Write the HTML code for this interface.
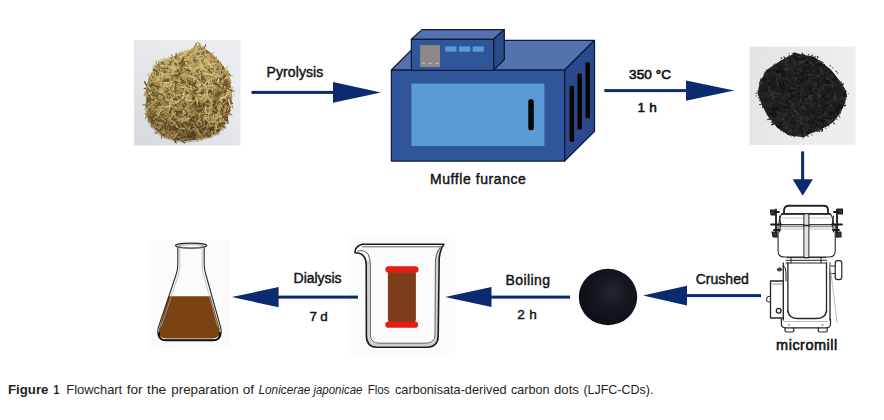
<!DOCTYPE html>
<html><head><meta charset="utf-8"><style>
html,body{margin:0;padding:0;background:#fff;}
body{width:884px;height:420px;overflow:hidden;}
svg{display:block;}
</style></head><body>
<svg width="884" height="420" viewBox="0 0 884 420">
<defs><linearGradient id="g1" x1="1" y1="0" x2="0.2" y2="1"><stop offset="0" stop-color="#eceef1"/><stop offset="0.5" stop-color="#e6e8eb"/><stop offset="1" stop-color="#dadbde"/></linearGradient><linearGradient id="g2" x1="0" y1="0" x2="1" y2="0.2"><stop offset="0" stop-color="#e3e3e3"/><stop offset="0.6" stop-color="#eaeaea"/><stop offset="1" stop-color="#eeeeee"/></linearGradient><linearGradient id="hg" x1="0" y1="0" x2="0.3" y2="1"><stop offset="0" stop-color="#8a7644"/><stop offset="0.55" stop-color="#6a5830"/><stop offset="1" stop-color="#4c3e20"/></linearGradient><linearGradient id="hov" x1="0" y1="0" x2="-0.25" y2="1"><stop offset="0.35" stop-color="#3a2c10" stop-opacity="0"/><stop offset="1" stop-color="#3a2c10" stop-opacity="0.3"/></linearGradient><clipPath id="c1"><rect x="134" y="40" width="106.5" height="105.5"/></clipPath><clipPath id="c2"><rect x="749.6" y="46.6" width="106" height="98.3"/></clipPath></defs><rect x="134" y="40" width="106.5" height="105.5" fill="url(#g1)"/><g clip-path="url(#c1)" fill="none" stroke-linecap="round"><path d="M146.0,92.0 L147.3,116.7 L152.0,126.0 L160.7,134.0 L172.0,139.0 L185.0,141.0 L198.3,139.3 L210.0,136.0 L218.3,132.7 L225.0,124.0 L229.0,114.0 L231.7,100.0 L231.5,90.0 L230.0,80.0 L228.2,72.7 L220.0,62.0 L210.0,52.0 L199.4,45.2 L190.0,50.0 L182.0,53.0 L175.0,56.0 L165.0,60.0 L155.0,66.0 L149.0,78.0 L147.0,85.0Z" fill="url(#hg)"/><path d="M220.7,114.1Q220.1,119.1 217.7,119.1" stroke="#7a6638" stroke-width="0.9"/><path d="M204.7,121.9Q203.5,125.2 198.3,124.9" stroke="#a2884a" stroke-width="1.2"/><path d="M179.9,135.2Q175.4,133.8 173.6,137.1" stroke="#6e5a30" stroke-width="1.2"/><path d="M208.9,59.7Q204.0,63.6 200.6,62.6" stroke="#a2884a" stroke-width="1.4"/><path d="M211.4,111.0Q213.5,113.8 212.3,118.1" stroke="#a2884a" stroke-width="1.2"/><path d="M189.5,98.7Q187.1,101.4 181.4,100.8" stroke="#ae9452" stroke-width="1.5"/><path d="M225.5,102.4Q221.4,104.7 220.3,106.9" stroke="#dac68c" stroke-width="1.1"/><path d="M223.7,104.3Q226.1,105.7 232.4,106.4" stroke="#6e5a30" stroke-width="1.5"/><path d="M151.0,98.2Q147.1,100.7 145.8,106.2" stroke="#6e5a30" stroke-width="1.4"/><path d="M224.6,83.7Q220.9,83.4 221.9,86.9" stroke="#cab272" stroke-width="1.0"/><path d="M222.3,78.4Q226.1,78.0 231.1,82.2" stroke="#b69e5c" stroke-width="1.3"/><path d="M196.5,116.2Q199.9,115.0 202.2,118.3" stroke="#dac68c" stroke-width="1.2"/><path d="M168.7,80.9Q166.8,81.2 166.8,85.5" stroke="#6e5a30" stroke-width="1.3"/><path d="M180.8,129.0Q186.2,129.7 187.8,131.9" stroke="#b69e5c" stroke-width="1.1"/><path d="M206.8,112.4Q200.8,113.6 198.8,113.5" stroke="#cab272" stroke-width="1.0"/><path d="M162.3,84.8Q163.7,87.1 167.6,90.1" stroke="#b69e5c" stroke-width="1.3"/><path d="M152.3,113.8Q151.6,116.2 155.7,117.0" stroke="#cab272" stroke-width="1.0"/><path d="M183.4,92.8Q184.5,96.6 186.3,100.3" stroke="#6e5a30" stroke-width="1.3"/><path d="M195.4,44.7Q196.2,45.7 197.2,51.6" stroke="#d4be7e" stroke-width="1.3"/><path d="M179.8,111.4Q176.0,113.7 174.1,112.7" stroke="#5c4a26" stroke-width="1.0"/><path d="M184.5,81.4Q182.2,83.1 184.7,86.7" stroke="#ae9452" stroke-width="0.9"/><path d="M209.1,62.6Q208.3,66.9 209.2,67.3" stroke="#dac68c" stroke-width="1.0"/><path d="M198.6,74.0Q200.6,76.4 200.4,78.9" stroke="#dac68c" stroke-width="1.4"/><path d="M178.4,87.0Q177.3,88.3 173.9,90.4" stroke="#a2884a" stroke-width="1.3"/><path d="M187.5,108.7Q189.2,113.1 189.1,113.4" stroke="#b69e5c" stroke-width="1.2"/><path d="M193.8,123.9Q198.7,126.3 199.7,125.7" stroke="#6e5a30" stroke-width="1.4"/><path d="M227.8,109.9Q226.9,112.0 224.3,112.3" stroke="#5c4a26" stroke-width="1.0"/><path d="M180.1,94.2Q183.6,96.5 186.9,96.6" stroke="#5c4a26" stroke-width="1.0"/><path d="M166.7,128.4Q167.5,130.7 167.7,136.6" stroke="#a2884a" stroke-width="1.4"/><path d="M194.6,129.3Q198.7,130.7 200.5,133.1" stroke="#a2884a" stroke-width="1.1"/><path d="M202.9,74.9Q204.1,77.6 201.7,83.1" stroke="#6e5a30" stroke-width="1.4"/><path d="M202.4,79.0Q200.0,85.3 197.4,87.5" stroke="#ae9452" stroke-width="1.1"/><path d="M182.9,59.8Q187.9,58.7 189.0,61.7" stroke="#dac68c" stroke-width="1.4"/><path d="M214.0,117.2Q218.0,117.2 220.8,122.2" stroke="#ae9452" stroke-width="1.2"/><path d="M205.2,88.7Q207.1,91.4 205.0,93.7" stroke="#6e5a30" stroke-width="1.1"/><path d="M205.6,45.0Q204.2,47.2 202.9,54.1" stroke="#5c4a26" stroke-width="1.1"/><path d="M147.5,116.2Q151.8,120.1 154.8,120.6" stroke="#5c4a26" stroke-width="1.1"/><path d="M202.7,55.9Q204.2,58.3 207.0,61.2" stroke="#d4be7e" stroke-width="1.2"/><path d="M223.9,70.8Q224.0,72.9 220.8,76.9" stroke="#a2884a" stroke-width="0.9"/><path d="M203.6,119.8Q200.7,123.1 200.7,125.4" stroke="#6e5a30" stroke-width="1.2"/><path d="M184.6,51.3Q191.7,50.0 194.2,52.5" stroke="#b69e5c" stroke-width="1.1"/><path d="M216.5,78.2Q217.7,82.8 218.9,83.6" stroke="#dac68c" stroke-width="1.1"/><path d="M188.6,52.5Q183.5,55.1 182.3,60.2" stroke="#c2aa66" stroke-width="1.1"/><path d="M159.9,108.0Q161.3,110.2 162.2,113.7" stroke="#6e5a30" stroke-width="1.1"/><path d="M214.1,114.7Q219.0,119.2 219.4,121.2" stroke="#b69e5c" stroke-width="1.3"/><path d="M215.8,129.1Q212.3,127.8 207.4,130.8" stroke="#5c4a26" stroke-width="1.2"/><path d="M168.5,88.0Q170.2,93.7 175.0,94.8" stroke="#ae9452" stroke-width="1.4"/><path d="M180.1,77.7Q174.7,80.5 171.1,80.1" stroke="#5c4a26" stroke-width="0.9"/><path d="M197.1,92.4Q195.5,95.3 198.0,101.8" stroke="#cab272" stroke-width="1.5"/><path d="M161.7,65.4Q163.5,65.8 163.1,70.8" stroke="#cab272" stroke-width="1.3"/><path d="M230.2,103.5Q230.0,106.0 227.0,112.1" stroke="#d4be7e" stroke-width="1.2"/><path d="M189.0,123.8Q188.8,128.9 193.2,131.3" stroke="#5c4a26" stroke-width="1.0"/><path d="M188.6,126.3Q189.8,129.9 187.5,134.0" stroke="#dac68c" stroke-width="1.5"/><path d="M178.8,95.1Q183.2,95.5 183.4,95.8" stroke="#6e5a30" stroke-width="1.0"/><path d="M159.2,78.2Q157.4,81.9 160.3,86.3" stroke="#c2aa66" stroke-width="1.0"/><path d="M220.9,88.1Q216.0,89.6 214.7,91.0" stroke="#cab272" stroke-width="1.2"/><path d="M193.3,110.3Q189.8,111.0 188.8,112.1" stroke="#ae9452" stroke-width="1.2"/><path d="M217.0,101.8Q216.9,104.6 214.7,107.4" stroke="#a2884a" stroke-width="1.4"/><path d="M154.5,122.4Q151.7,122.9 152.5,127.2" stroke="#a2884a" stroke-width="1.1"/><path d="M170.0,72.2Q170.9,73.9 174.4,73.6" stroke="#dac68c" stroke-width="1.5"/><path d="M203.3,108.5Q204.6,107.0 210.6,109.2" stroke="#cab272" stroke-width="1.1"/><path d="M212.1,93.6Q206.7,95.4 205.9,100.3" stroke="#cab272" stroke-width="1.3"/><path d="M154.1,104.0Q153.6,105.5 153.4,109.1" stroke="#7a6638" stroke-width="1.4"/><path d="M164.5,123.1Q164.8,126.3 161.1,127.7" stroke="#7a6638" stroke-width="0.9"/><path d="M224.8,103.1Q221.8,106.1 218.3,110.2" stroke="#dac68c" stroke-width="1.1"/><path d="M187.8,132.8Q193.6,134.8 194.8,137.9" stroke="#5c4a26" stroke-width="1.4"/><path d="M200.0,101.3Q197.0,103.9 198.3,107.7" stroke="#7a6638" stroke-width="1.1"/><path d="M203.3,87.5Q199.4,88.7 197.4,92.8" stroke="#ae9452" stroke-width="1.3"/><path d="M214.7,72.7Q219.5,74.4 223.9,73.1" stroke="#c2aa66" stroke-width="0.9"/><path d="M200.5,124.5Q202.0,123.5 207.1,126.0" stroke="#5c4a26" stroke-width="1.2"/><path d="M194.9,79.8Q198.5,82.0 202.3,81.3" stroke="#7a6638" stroke-width="0.9"/><path d="M169.4,97.4Q166.4,99.6 161.3,101.6" stroke="#c2aa66" stroke-width="1.3"/><path d="M161.2,63.5Q163.2,64.1 169.0,65.1" stroke="#dac68c" stroke-width="1.4"/><path d="M177.8,137.0Q179.8,136.6 181.3,141.2" stroke="#d4be7e" stroke-width="1.3"/><path d="M176.7,84.2Q180.3,86.5 181.0,87.9" stroke="#c2aa66" stroke-width="1.2"/><path d="M205.8,115.1Q206.0,115.2 209.0,117.8" stroke="#ae9452" stroke-width="1.3"/><path d="M172.1,115.9Q168.8,118.3 169.0,122.5" stroke="#6e5a30" stroke-width="1.2"/><path d="M206.5,89.8Q201.5,91.7 200.4,90.9" stroke="#d4be7e" stroke-width="1.3"/><path d="M178.5,133.7Q175.0,135.5 174.9,141.8" stroke="#7a6638" stroke-width="1.3"/><path d="M180.8,101.9Q180.9,106.5 185.3,110.7" stroke="#ae9452" stroke-width="1.4"/><path d="M197.8,82.3Q200.2,87.7 200.0,90.8" stroke="#d4be7e" stroke-width="0.9"/><path d="M171.2,60.9Q177.7,60.7 180.4,61.4" stroke="#7a6638" stroke-width="1.4"/><path d="M195.8,48.0Q199.5,50.2 199.6,51.5" stroke="#dac68c" stroke-width="0.9"/><path d="M168.7,95.5Q162.1,96.7 159.1,95.6" stroke="#ae9452" stroke-width="1.0"/><path d="M164.2,124.2Q160.4,127.3 156.7,125.4" stroke="#7a6638" stroke-width="1.2"/><path d="M163.7,60.2Q165.1,61.4 169.5,63.2" stroke="#a2884a" stroke-width="1.2"/><path d="M214.6,76.4Q215.9,75.9 212.9,80.2" stroke="#d4be7e" stroke-width="1.2"/><path d="M224.0,88.7Q227.6,90.5 227.8,92.8" stroke="#a2884a" stroke-width="1.1"/><path d="M204.1,95.2Q203.7,100.6 203.3,102.0" stroke="#5c4a26" stroke-width="1.2"/><path d="M213.6,108.0Q209.2,109.5 208.9,108.6" stroke="#b69e5c" stroke-width="1.2"/><path d="M223.0,87.5Q217.2,89.1 214.9,89.0" stroke="#7a6638" stroke-width="1.1"/><path d="M202.4,78.9Q201.5,85.9 202.4,88.8" stroke="#5c4a26" stroke-width="1.1"/><path d="M173.7,114.2Q168.6,114.2 168.1,114.7" stroke="#ae9452" stroke-width="1.1"/><path d="M178.3,101.6Q176.8,103.4 174.9,105.4" stroke="#5c4a26" stroke-width="1.4"/><path d="M203.4,65.2Q200.9,64.3 196.2,67.9" stroke="#c2aa66" stroke-width="1.2"/><path d="M178.3,89.3Q172.2,92.0 169.0,92.4" stroke="#7a6638" stroke-width="1.4"/><path d="M175.9,74.4Q172.4,76.4 171.0,78.4" stroke="#a2884a" stroke-width="1.2"/><path d="M200.0,64.9Q196.3,67.8 191.2,69.5" stroke="#cab272" stroke-width="1.2"/><path d="M162.0,87.2Q164.2,91.0 163.7,92.5" stroke="#cab272" stroke-width="0.9"/><path d="M204.9,107.8Q203.9,108.9 199.9,113.6" stroke="#dac68c" stroke-width="1.3"/><path d="M160.6,113.4Q161.8,114.0 165.1,113.4" stroke="#6e5a30" stroke-width="1.3"/><path d="M173.6,80.2Q177.6,79.9 180.1,81.8" stroke="#dac68c" stroke-width="1.4"/><path d="M226.8,95.5Q219.9,98.7 217.8,98.1" stroke="#5c4a26" stroke-width="1.1"/><path d="M159.3,83.3Q163.7,84.5 166.2,86.1" stroke="#ae9452" stroke-width="1.4"/><path d="M218.5,74.7Q222.9,75.7 223.2,81.5" stroke="#cab272" stroke-width="1.0"/><path d="M218.5,92.3Q211.9,93.1 209.0,94.7" stroke="#7a6638" stroke-width="1.0"/><path d="M214.0,71.1Q212.7,75.3 207.8,76.9" stroke="#cab272" stroke-width="1.3"/><path d="M160.3,116.6Q158.3,115.1 152.3,117.0" stroke="#a2884a" stroke-width="1.1"/><path d="M228.4,113.5Q226.6,112.9 219.8,114.9" stroke="#7a6638" stroke-width="1.0"/><path d="M213.4,114.7Q208.9,118.3 205.3,120.4" stroke="#7a6638" stroke-width="1.2"/><path d="M222.9,75.5Q217.1,78.2 215.2,77.3" stroke="#cab272" stroke-width="1.2"/><path d="M159.7,116.7Q155.0,121.3 154.4,122.5" stroke="#7a6638" stroke-width="1.4"/><path d="M210.7,57.4Q207.0,59.4 207.0,64.1" stroke="#b69e5c" stroke-width="1.5"/><path d="M204.6,107.4Q205.3,111.6 205.4,113.2" stroke="#d4be7e" stroke-width="1.1"/><path d="M166.0,96.1Q169.0,96.8 168.6,100.8" stroke="#cab272" stroke-width="1.5"/><path d="M167.8,85.5Q168.6,87.1 174.3,85.7" stroke="#ae9452" stroke-width="1.0"/><path d="M175.7,73.1Q180.5,76.6 180.7,75.7" stroke="#c2aa66" stroke-width="1.2"/><path d="M171.8,94.7Q170.2,100.8 171.9,103.9" stroke="#a2884a" stroke-width="1.5"/><path d="M170.8,96.9Q169.3,100.2 170.2,104.4" stroke="#d4be7e" stroke-width="1.2"/><path d="M200.7,113.9Q194.7,114.0 192.1,116.9" stroke="#b69e5c" stroke-width="1.3"/><path d="M220.6,116.3Q219.3,114.8 214.0,116.6" stroke="#6e5a30" stroke-width="1.2"/><path d="M159.5,91.6Q154.4,94.0 154.0,97.5" stroke="#d4be7e" stroke-width="1.2"/><path d="M210.0,64.7Q214.4,66.3 215.6,67.8" stroke="#cab272" stroke-width="1.2"/><path d="M165.5,69.3Q168.0,68.6 168.4,72.3" stroke="#a2884a" stroke-width="1.2"/><path d="M192.3,97.6Q186.6,96.2 184.0,99.2" stroke="#6e5a30" stroke-width="1.2"/><path d="M186.0,109.8Q182.4,111.5 182.0,111.3" stroke="#a2884a" stroke-width="1.3"/><path d="M189.5,85.2Q188.9,87.5 185.1,85.2" stroke="#6e5a30" stroke-width="1.2"/><path d="M202.3,114.0Q201.8,120.6 203.0,123.7" stroke="#7a6638" stroke-width="1.3"/><path d="M194.8,137.0Q189.3,139.3 188.6,140.7" stroke="#c2aa66" stroke-width="1.1"/><path d="M155.6,106.0Q151.9,110.0 151.5,112.8" stroke="#ae9452" stroke-width="1.0"/><path d="M183.8,127.6Q184.1,130.8 182.7,132.1" stroke="#6e5a30" stroke-width="1.0"/><path d="M155.0,133.2Q159.0,131.1 164.7,133.2" stroke="#7a6638" stroke-width="1.0"/><path d="M203.3,101.7Q200.7,105.0 201.2,111.2" stroke="#5c4a26" stroke-width="1.2"/><path d="M219.0,97.0Q215.4,98.6 216.4,102.1" stroke="#5c4a26" stroke-width="1.5"/><path d="M153.9,87.1Q151.7,91.2 150.2,93.8" stroke="#dac68c" stroke-width="1.5"/><path d="M154.1,94.2Q150.8,94.8 151.7,99.0" stroke="#ae9452" stroke-width="0.9"/><path d="M182.8,93.3Q185.3,95.7 191.5,97.3" stroke="#c2aa66" stroke-width="1.1"/><path d="M181.6,75.5Q184.2,75.3 191.1,75.6" stroke="#d4be7e" stroke-width="1.0"/><path d="M187.6,63.7Q189.5,65.7 190.8,66.8" stroke="#dac68c" stroke-width="1.0"/><path d="M203.4,134.8Q198.3,138.9 197.4,140.8" stroke="#cab272" stroke-width="1.4"/><path d="M187.9,93.5Q191.9,94.6 193.6,99.9" stroke="#7a6638" stroke-width="1.1"/><path d="M187.3,103.1Q183.9,109.4 184.9,111.8" stroke="#7a6638" stroke-width="1.1"/><path d="M171.4,117.8Q168.0,118.8 166.8,119.9" stroke="#dac68c" stroke-width="1.5"/><path d="M151.8,101.3Q154.5,100.7 157.2,103.9" stroke="#cab272" stroke-width="1.0"/><path d="M180.7,128.4Q180.2,131.2 178.0,131.8" stroke="#dac68c" stroke-width="1.3"/><path d="M221.6,120.1Q224.3,126.2 223.9,127.7" stroke="#6e5a30" stroke-width="1.4"/><path d="M165.4,84.1Q170.1,89.7 171.0,92.0" stroke="#ae9452" stroke-width="1.4"/><path d="M162.7,110.3Q158.5,113.2 154.9,113.7" stroke="#cab272" stroke-width="1.1"/><path d="M205.8,54.6Q206.5,54.9 203.9,58.6" stroke="#c2aa66" stroke-width="1.2"/><path d="M198.2,56.7Q197.5,60.9 199.6,62.0" stroke="#a2884a" stroke-width="0.9"/><path d="M208.0,128.8Q205.2,131.3 203.3,133.5" stroke="#6e5a30" stroke-width="0.9"/><path d="M204.4,94.8Q200.9,96.6 200.6,97.3" stroke="#b69e5c" stroke-width="1.0"/><path d="M154.7,96.6Q157.6,98.2 159.4,98.5" stroke="#d4be7e" stroke-width="1.3"/><path d="M194.9,105.3Q195.3,107.4 200.3,106.4" stroke="#a2884a" stroke-width="1.3"/><path d="M161.3,101.3Q161.4,100.3 164.9,103.8" stroke="#5c4a26" stroke-width="1.1"/><path d="M199.3,48.1Q203.5,50.7 205.5,51.6" stroke="#c2aa66" stroke-width="1.1"/><path d="M184.9,119.8Q186.3,119.6 186.9,123.3" stroke="#7a6638" stroke-width="1.3"/><path d="M228.9,81.4Q227.0,83.4 229.9,88.8" stroke="#ae9452" stroke-width="1.1"/><path d="M204.3,64.2Q204.1,62.4 199.8,65.0" stroke="#5c4a26" stroke-width="1.1"/><path d="M171.5,113.2Q175.1,116.8 178.2,117.5" stroke="#c2aa66" stroke-width="1.2"/><path d="M168.0,95.9Q165.7,97.5 167.5,103.4" stroke="#a2884a" stroke-width="1.4"/><path d="M176.3,89.9Q174.6,90.2 169.4,92.8" stroke="#5c4a26" stroke-width="1.2"/><path d="M194.4,105.2Q192.8,107.2 189.5,107.0" stroke="#6e5a30" stroke-width="1.0"/><path d="M144.7,82.0Q145.8,84.8 149.3,88.8" stroke="#5c4a26" stroke-width="1.4"/><path d="M170.2,68.7Q167.2,67.9 166.5,70.3" stroke="#cab272" stroke-width="1.1"/><path d="M204.3,74.4Q203.2,75.7 205.9,78.9" stroke="#cab272" stroke-width="1.1"/><path d="M178.6,83.6Q182.9,85.9 185.2,85.0" stroke="#dac68c" stroke-width="1.1"/><path d="M222.9,82.5Q226.2,87.7 229.8,88.9" stroke="#a2884a" stroke-width="1.0"/><path d="M189.6,130.9Q189.6,132.4 193.7,137.1" stroke="#5c4a26" stroke-width="0.9"/><path d="M212.6,62.7Q215.8,66.8 220.5,68.3" stroke="#c2aa66" stroke-width="1.2"/><path d="M218.9,63.1Q220.9,64.8 222.9,68.7" stroke="#b69e5c" stroke-width="1.3"/><path d="M161.5,85.9Q157.6,86.4 153.4,89.1" stroke="#ae9452" stroke-width="1.3"/><path d="M157.7,66.9Q155.3,72.2 154.2,74.2" stroke="#ae9452" stroke-width="1.0"/><path d="M195.4,61.8Q196.0,63.7 193.9,67.6" stroke="#c2aa66" stroke-width="1.3"/><path d="M198.7,64.6Q199.5,64.1 197.7,68.6" stroke="#b69e5c" stroke-width="1.4"/><path d="M148.0,106.4Q149.3,108.1 152.3,109.0" stroke="#a2884a" stroke-width="1.4"/><path d="M201.6,108.2Q201.9,113.5 199.8,114.8" stroke="#6e5a30" stroke-width="1.1"/><path d="M161.7,63.4Q162.4,64.9 164.3,67.2" stroke="#d4be7e" stroke-width="1.0"/><path d="M208.5,122.2Q208.5,123.2 206.4,127.1" stroke="#d4be7e" stroke-width="1.1"/><path d="M204.5,76.9Q206.6,76.8 207.8,80.8" stroke="#b69e5c" stroke-width="1.1"/><path d="M191.8,55.1Q190.2,58.7 190.8,60.4" stroke="#dac68c" stroke-width="1.3"/><path d="M205.1,83.7Q205.8,84.7 201.8,89.6" stroke="#c2aa66" stroke-width="1.1"/><path d="M159.4,92.8Q159.6,98.4 155.3,99.2" stroke="#dac68c" stroke-width="1.5"/><path d="M184.8,89.9Q188.3,92.1 192.9,91.1" stroke="#cab272" stroke-width="1.3"/><path d="M200.3,98.7Q198.7,103.7 197.9,106.8" stroke="#5c4a26" stroke-width="1.3"/><path d="M156.8,120.3Q153.6,122.3 154.9,125.1" stroke="#7a6638" stroke-width="1.0"/><path d="M177.4,123.2Q180.6,123.3 182.8,126.4" stroke="#6e5a30" stroke-width="1.1"/><path d="M192.1,119.5Q192.2,119.0 196.9,121.1" stroke="#cab272" stroke-width="1.0"/><path d="M150.4,113.6Q146.7,114.2 145.2,118.6" stroke="#ae9452" stroke-width="1.2"/><path d="M169.9,114.7Q165.3,119.0 160.9,118.9" stroke="#dac68c" stroke-width="1.1"/><path d="M158.4,99.7Q158.5,99.6 162.5,100.7" stroke="#6e5a30" stroke-width="1.4"/><path d="M196.7,87.0Q198.5,87.7 203.1,93.1" stroke="#7a6638" stroke-width="1.2"/><path d="M184.7,134.3Q182.5,139.6 182.3,140.8" stroke="#6e5a30" stroke-width="1.3"/><path d="M217.4,73.3Q218.6,72.8 221.5,74.2" stroke="#5c4a26" stroke-width="1.3"/><path d="M161.9,105.0Q155.7,105.1 153.2,109.6" stroke="#6e5a30" stroke-width="1.1"/><path d="M166.8,58.7Q171.3,60.3 172.9,59.3" stroke="#dac68c" stroke-width="1.3"/><path d="M215.9,80.0Q217.9,85.5 221.9,86.1" stroke="#dac68c" stroke-width="1.1"/><path d="M150.5,75.3Q152.0,77.4 150.8,79.4" stroke="#c2aa66" stroke-width="1.1"/><path d="M155.4,98.2Q155.3,102.8 158.7,104.7" stroke="#c2aa66" stroke-width="1.4"/><path d="M182.6,117.6Q177.5,117.9 174.8,118.1" stroke="#a2884a" stroke-width="1.5"/><path d="M167.3,70.2Q169.9,72.0 175.7,72.1" stroke="#b69e5c" stroke-width="1.2"/><path d="M225.7,96.1Q229.3,96.4 230.5,101.3" stroke="#6e5a30" stroke-width="1.3"/><path d="M180.1,91.7Q186.3,92.7 189.0,92.2" stroke="#b69e5c" stroke-width="1.3"/><path d="M166.8,133.7Q164.2,135.9 165.1,137.7" stroke="#7a6638" stroke-width="1.4"/><path d="M225.8,89.6Q221.8,89.1 222.6,93.2" stroke="#c2aa66" stroke-width="1.1"/><path d="M174.1,64.9Q175.8,68.4 175.7,73.4" stroke="#ae9452" stroke-width="1.1"/><path d="M180.5,100.6Q182.3,105.5 180.3,107.3" stroke="#5c4a26" stroke-width="0.9"/><path d="M182.6,55.6Q183.0,59.0 186.8,62.0" stroke="#b69e5c" stroke-width="1.1"/><path d="M191.2,69.8Q196.5,75.0 197.7,77.3" stroke="#b69e5c" stroke-width="1.2"/><path d="M205.6,50.2Q201.1,51.4 201.0,51.5" stroke="#a2884a" stroke-width="1.2"/><path d="M186.4,51.3Q187.8,55.6 185.5,58.8" stroke="#a2884a" stroke-width="1.1"/><path d="M218.4,114.3Q220.2,113.3 226.5,117.1" stroke="#b69e5c" stroke-width="1.3"/><path d="M194.3,101.5Q196.7,108.0 199.5,109.8" stroke="#5c4a26" stroke-width="1.3"/><path d="M188.4,105.8Q193.1,109.3 194.5,111.7" stroke="#dac68c" stroke-width="1.3"/><path d="M198.9,50.6Q202.0,55.8 201.3,57.4" stroke="#dac68c" stroke-width="1.0"/><path d="M224.7,116.2Q227.7,118.6 227.4,123.5" stroke="#d4be7e" stroke-width="1.0"/><path d="M218.1,115.8Q218.0,117.7 214.1,117.0" stroke="#5c4a26" stroke-width="1.3"/><path d="M203.8,116.6Q207.4,121.1 210.3,122.1" stroke="#b69e5c" stroke-width="1.2"/><path d="M211.9,57.5Q212.3,60.4 213.3,64.1" stroke="#ae9452" stroke-width="1.4"/><path d="M168.7,59.1Q165.9,63.4 168.0,65.7" stroke="#b69e5c" stroke-width="1.4"/><path d="M153.7,101.9Q151.7,105.5 149.9,108.4" stroke="#c2aa66" stroke-width="1.1"/><path d="M220.1,96.6Q224.4,96.6 226.5,99.6" stroke="#a2884a" stroke-width="1.1"/><path d="M169.0,81.0Q171.4,84.1 170.6,87.3" stroke="#7a6638" stroke-width="1.1"/><path d="M189.0,58.3Q193.4,60.3 193.1,66.1" stroke="#d4be7e" stroke-width="1.5"/><path d="M202.0,55.6Q202.4,59.2 207.8,62.1" stroke="#7a6638" stroke-width="1.5"/><path d="M207.9,93.8Q211.4,94.2 212.6,97.1" stroke="#ae9452" stroke-width="1.3"/><path d="M194.7,120.6Q190.9,123.6 189.0,128.4" stroke="#c2aa66" stroke-width="0.9"/><path d="M205.5,89.2Q203.1,91.6 199.4,89.3" stroke="#a2884a" stroke-width="1.0"/><path d="M157.1,83.4Q160.1,89.4 160.8,91.7" stroke="#ae9452" stroke-width="1.3"/><path d="M191.1,60.3Q189.2,61.1 186.2,65.8" stroke="#6e5a30" stroke-width="1.3"/><path d="M194.0,47.3Q196.6,50.1 194.7,55.5" stroke="#dac68c" stroke-width="1.5"/><path d="M179.8,56.5Q179.5,60.6 182.5,61.7" stroke="#dac68c" stroke-width="1.4"/><path d="M178.2,90.6Q181.4,94.4 181.4,94.5" stroke="#5c4a26" stroke-width="1.0"/><path d="M194.5,91.0Q190.5,90.9 190.1,92.1" stroke="#cab272" stroke-width="1.3"/><path d="M166.4,60.6Q168.2,60.5 173.3,61.1" stroke="#b69e5c" stroke-width="1.2"/><path d="M174.1,125.0Q177.9,127.6 183.7,127.5" stroke="#6e5a30" stroke-width="1.3"/><path d="M160.5,93.4Q156.6,95.4 154.3,97.1" stroke="#6e5a30" stroke-width="1.5"/><path d="M157.5,110.1Q160.7,115.2 159.0,117.5" stroke="#c2aa66" stroke-width="1.0"/><path d="M219.7,74.1Q223.4,74.0 227.8,76.0" stroke="#a2884a" stroke-width="1.4"/><path d="M227.6,66.3Q225.8,70.9 222.0,71.1" stroke="#dac68c" stroke-width="1.5"/><path d="M179.0,72.3Q179.3,75.0 183.2,76.8" stroke="#5c4a26" stroke-width="1.1"/><path d="M195.7,51.9Q193.1,51.5 190.8,52.3" stroke="#6e5a30" stroke-width="1.1"/><path d="M195.1,108.4Q190.5,108.6 189.3,109.8" stroke="#7a6638" stroke-width="0.9"/><path d="M206.1,72.2Q208.6,75.4 208.2,81.2" stroke="#a2884a" stroke-width="1.3"/><path d="M189.9,102.5Q188.9,101.9 185.9,103.2" stroke="#cab272" stroke-width="0.9"/><path d="M171.7,75.7Q168.2,80.9 167.6,83.6" stroke="#ae9452" stroke-width="1.0"/><path d="M189.1,98.1Q191.2,103.8 190.5,106.1" stroke="#7a6638" stroke-width="1.1"/><path d="M157.8,71.2Q160.7,77.2 161.7,80.4" stroke="#dac68c" stroke-width="1.0"/><path d="M169.4,82.1Q173.1,87.7 173.3,89.5" stroke="#b69e5c" stroke-width="1.0"/><path d="M197.1,108.2Q194.5,112.7 191.5,113.7" stroke="#a2884a" stroke-width="1.4"/><path d="M178.1,85.3Q176.0,89.7 174.9,90.3" stroke="#5c4a26" stroke-width="1.0"/><path d="M216.3,56.6Q215.3,60.4 217.2,66.0" stroke="#b69e5c" stroke-width="1.2"/><path d="M164.1,73.2Q168.1,71.4 168.7,74.6" stroke="#7a6638" stroke-width="0.9"/><path d="M203.3,65.5Q202.6,65.5 197.7,68.1" stroke="#ae9452" stroke-width="1.5"/><path d="M165.3,104.8Q163.8,107.7 159.3,108.1" stroke="#c2aa66" stroke-width="1.1"/><path d="M228.0,112.6Q224.6,115.3 224.0,119.3" stroke="#c2aa66" stroke-width="1.4"/><path d="M180.6,115.9Q181.2,114.0 185.2,117.0" stroke="#5c4a26" stroke-width="1.1"/><path d="M157.1,120.6Q160.5,122.1 163.3,126.0" stroke="#7a6638" stroke-width="1.4"/><path d="M221.8,127.0Q220.7,129.4 215.8,128.5" stroke="#ae9452" stroke-width="1.4"/><path d="M154.9,120.8Q155.5,123.7 159.2,123.7" stroke="#ae9452" stroke-width="1.0"/><path d="M167.0,96.9Q165.0,103.2 167.6,105.1" stroke="#ae9452" stroke-width="1.4"/><path d="M199.5,43.9Q200.5,49.2 201.9,50.3" stroke="#ae9452" stroke-width="1.1"/><path d="M194.4,95.5Q197.6,96.6 197.7,100.5" stroke="#b69e5c" stroke-width="1.4"/><path d="M226.3,70.4Q230.4,72.8 229.8,76.2" stroke="#d4be7e" stroke-width="1.0"/><path d="M163.7,96.2Q168.6,97.3 169.5,98.0" stroke="#5c4a26" stroke-width="1.4"/><path d="M176.0,100.3Q177.5,105.8 180.6,107.9" stroke="#b69e5c" stroke-width="1.2"/><path d="M176.8,94.9Q174.8,96.2 171.5,100.7" stroke="#d4be7e" stroke-width="1.2"/><path d="M205.3,64.9Q203.5,65.6 199.7,70.7" stroke="#dac68c" stroke-width="1.3"/><path d="M176.7,80.6Q172.9,78.9 170.0,82.0" stroke="#a2884a" stroke-width="1.0"/><path d="M217.7,70.7Q224.4,71.3 227.6,71.8" stroke="#cab272" stroke-width="1.2"/><path d="M153.1,88.8Q155.6,93.1 158.8,93.4" stroke="#c2aa66" stroke-width="1.1"/><path d="M177.7,73.4Q179.8,74.4 186.9,73.9" stroke="#c2aa66" stroke-width="1.3"/><path d="M175.4,106.7Q176.8,107.0 181.0,108.8" stroke="#7a6638" stroke-width="1.3"/><path d="M219.4,103.6Q216.9,108.7 216.5,110.8" stroke="#c2aa66" stroke-width="0.9"/><path d="M207.4,105.5Q211.5,106.9 215.3,106.7" stroke="#cab272" stroke-width="0.9"/><path d="M169.9,122.4Q165.0,122.7 164.6,123.1" stroke="#6e5a30" stroke-width="1.4"/><path d="M167.2,90.7Q171.0,92.7 173.1,92.7" stroke="#c2aa66" stroke-width="1.1"/><path d="M213.3,90.3Q208.5,93.2 207.8,94.1" stroke="#6e5a30" stroke-width="1.3"/><path d="M225.6,106.3Q227.2,107.8 231.3,106.7" stroke="#ae9452" stroke-width="1.2"/><path d="M202.1,118.9Q197.8,118.7 197.3,120.7" stroke="#c2aa66" stroke-width="1.4"/><path d="M224.2,95.5Q220.6,99.2 216.8,101.4" stroke="#c2aa66" stroke-width="1.3"/><path d="M198.7,66.6Q202.4,66.5 207.1,70.5" stroke="#ae9452" stroke-width="1.3"/><path d="M157.9,98.9Q159.7,101.1 157.9,106.3" stroke="#6e5a30" stroke-width="1.3"/><path d="M204.8,95.6Q209.1,99.1 210.0,98.3" stroke="#c2aa66" stroke-width="1.1"/><path d="M186.0,87.3Q188.3,89.4 192.0,88.7" stroke="#dac68c" stroke-width="1.4"/><path d="M186.9,103.7Q189.0,109.5 189.9,112.1" stroke="#ae9452" stroke-width="1.4"/><path d="M224.6,109.4Q223.1,108.2 220.7,110.7" stroke="#5c4a26" stroke-width="1.4"/><path d="M178.1,93.9Q177.9,99.8 175.6,103.0" stroke="#6e5a30" stroke-width="1.0"/><path d="M213.8,103.4Q209.1,103.8 205.2,106.3" stroke="#a2884a" stroke-width="1.2"/><path d="M198.1,95.6Q197.9,98.4 202.0,101.3" stroke="#ae9452" stroke-width="1.0"/><path d="M180.5,53.4Q185.6,58.3 187.6,58.4" stroke="#cab272" stroke-width="1.0"/><path d="M187.8,94.1Q187.7,99.0 190.4,103.2" stroke="#a2884a" stroke-width="1.5"/><path d="M203.9,90.5Q203.4,92.9 205.7,94.4" stroke="#ae9452" stroke-width="0.9"/><path d="M233.9,95.0Q230.0,100.0 229.4,102.1" stroke="#d4be7e" stroke-width="1.0"/><path d="M163.1,64.8Q160.9,66.3 159.4,72.7" stroke="#cab272" stroke-width="1.0"/><path d="M180.2,52.1Q184.3,50.9 186.5,54.6" stroke="#cab272" stroke-width="1.1"/><path d="M162.8,108.2Q166.2,111.8 164.6,116.1" stroke="#d4be7e" stroke-width="1.0"/><path d="M167.6,93.8Q170.6,97.7 171.5,98.8" stroke="#5c4a26" stroke-width="1.0"/><path d="M164.2,81.6Q163.5,85.5 162.5,88.1" stroke="#6e5a30" stroke-width="1.0"/><path d="M157.4,98.9Q158.2,102.7 158.2,105.2" stroke="#a2884a" stroke-width="1.4"/><path d="M207.1,116.2Q200.5,118.7 198.7,119.8" stroke="#d4be7e" stroke-width="1.3"/><path d="M228.7,114.3Q223.0,115.0 221.8,116.9" stroke="#6e5a30" stroke-width="1.4"/><path d="M155.5,95.0Q155.3,98.4 159.6,101.0" stroke="#7a6638" stroke-width="1.5"/><path d="M200.3,88.9Q204.7,87.3 207.3,89.5" stroke="#b69e5c" stroke-width="1.2"/><path d="M174.1,71.7Q176.5,72.0 182.8,75.7" stroke="#b69e5c" stroke-width="1.5"/><path d="M215.3,73.0Q209.2,76.6 207.1,76.8" stroke="#b69e5c" stroke-width="1.3"/><path d="M163.2,69.0Q159.2,69.1 158.6,72.1" stroke="#6e5a30" stroke-width="1.0"/><path d="M230.3,99.5Q230.3,105.9 229.9,108.3" stroke="#5c4a26" stroke-width="1.1"/><path d="M170.6,132.0Q171.5,133.0 173.1,138.2" stroke="#ae9452" stroke-width="1.2"/><path d="M160.7,62.3Q159.4,67.4 160.6,69.3" stroke="#ae9452" stroke-width="1.2"/><path d="M211.9,84.8Q210.8,89.8 213.4,91.4" stroke="#6e5a30" stroke-width="1.1"/><path d="M180.5,88.3Q178.2,89.1 176.7,92.3" stroke="#d4be7e" stroke-width="1.0"/><path d="M202.1,64.6Q199.6,69.2 195.1,69.3" stroke="#b69e5c" stroke-width="1.5"/><path d="M201.6,73.4Q202.3,75.0 204.2,78.9" stroke="#6e5a30" stroke-width="1.2"/><path d="M188.3,50.2Q184.5,52.7 183.6,52.9" stroke="#cab272" stroke-width="1.0"/><path d="M156.0,101.8Q155.9,104.8 157.3,105.9" stroke="#a2884a" stroke-width="1.5"/><path d="M181.4,110.1Q182.9,112.4 184.2,118.4" stroke="#7a6638" stroke-width="1.3"/><path d="M225.8,113.0Q222.8,115.9 223.3,118.6" stroke="#cab272" stroke-width="1.0"/><path d="M215.7,84.0Q216.5,84.9 218.6,90.6" stroke="#a2884a" stroke-width="1.0"/><path d="M166.9,120.6Q168.0,122.6 168.4,124.7" stroke="#5c4a26" stroke-width="1.2"/><path d="M201.5,97.8Q200.5,98.6 196.6,97.9" stroke="#b69e5c" stroke-width="1.3"/><path d="M164.5,73.5Q167.7,75.4 172.0,79.5" stroke="#cab272" stroke-width="1.3"/><path d="M215.8,86.4Q214.9,91.0 214.1,94.5" stroke="#5c4a26" stroke-width="1.1"/><path d="M162.9,127.2Q163.6,133.0 163.1,135.5" stroke="#5c4a26" stroke-width="1.4"/><path d="M209.3,89.0Q204.7,89.5 201.8,91.1" stroke="#6e5a30" stroke-width="1.1"/><path d="M167.9,110.5Q166.1,114.5 167.1,115.2" stroke="#dac68c" stroke-width="1.3"/><path d="M196.5,78.5Q200.8,85.4 200.7,87.4" stroke="#dac68c" stroke-width="1.5"/><path d="M177.9,58.2Q179.9,64.0 179.4,66.6" stroke="#ae9452" stroke-width="1.2"/><path d="M154.0,86.2Q151.6,87.0 147.9,87.4" stroke="#cab272" stroke-width="1.0"/><path d="M184.5,113.6Q182.2,115.5 178.9,113.8" stroke="#cab272" stroke-width="1.2"/><path d="M210.0,82.3Q210.3,87.7 213.4,89.7" stroke="#b69e5c" stroke-width="0.9"/><path d="M165.1,121.5Q169.1,120.8 171.7,121.7" stroke="#ae9452" stroke-width="1.2"/><path d="M149.6,93.9Q149.4,95.0 149.4,99.0" stroke="#6e5a30" stroke-width="0.9"/><path d="M174.2,104.1Q173.9,103.3 170.5,107.5" stroke="#cab272" stroke-width="0.9"/><path d="M199.8,43.5Q201.4,47.9 201.0,51.7" stroke="#c2aa66" stroke-width="1.2"/><path d="M148.8,76.5Q151.0,77.2 150.9,80.0" stroke="#ae9452" stroke-width="1.0"/><path d="M216.6,96.0Q212.2,99.5 211.2,102.5" stroke="#b69e5c" stroke-width="1.0"/><path d="M223.4,105.5Q223.0,103.6 218.9,106.0" stroke="#dac68c" stroke-width="1.1"/><path d="M166.0,122.7Q168.2,125.2 174.1,124.6" stroke="#b69e5c" stroke-width="1.2"/><path d="M182.2,91.2Q184.0,94.0 185.5,98.8" stroke="#7a6638" stroke-width="1.1"/><path d="M191.6,103.6Q186.6,107.8 186.2,107.8" stroke="#ae9452" stroke-width="1.4"/><path d="M159.8,124.9Q161.5,126.3 158.5,128.9" stroke="#a2884a" stroke-width="1.1"/><path d="M171.6,118.1Q170.7,120.8 167.0,119.5" stroke="#ae9452" stroke-width="1.0"/><path d="M208.9,106.0Q211.7,110.7 210.3,111.7" stroke="#ae9452" stroke-width="1.4"/><path d="M167.8,109.9Q169.1,116.3 169.7,117.9" stroke="#c2aa66" stroke-width="1.0"/><path d="M212.4,107.4Q211.3,110.0 208.1,115.3" stroke="#b69e5c" stroke-width="1.3"/><path d="M152.0,83.9Q150.6,87.0 147.0,91.1" stroke="#5c4a26" stroke-width="1.3"/><path d="M172.7,80.5Q170.9,81.2 168.5,82.3" stroke="#c2aa66" stroke-width="1.1"/><path d="M214.6,71.8Q216.3,75.3 222.7,74.4" stroke="#ae9452" stroke-width="1.3"/><path d="M173.0,58.5Q175.5,61.7 179.9,61.1" stroke="#dac68c" stroke-width="1.3"/><path d="M209.5,96.2Q204.6,97.1 204.2,101.6" stroke="#ae9452" stroke-width="1.3"/><path d="M169.2,107.2Q175.4,110.7 177.0,111.1" stroke="#5c4a26" stroke-width="1.3"/><path d="M205.0,58.8Q204.3,62.2 201.8,66.2" stroke="#c2aa66" stroke-width="1.4"/><path d="M206.3,55.1Q201.7,57.8 199.8,58.5" stroke="#c2aa66" stroke-width="1.1"/><path d="M179.6,119.3Q176.0,120.8 171.0,124.3" stroke="#ae9452" stroke-width="1.0"/><path d="M176.8,87.3Q182.5,86.9 185.2,88.0" stroke="#dac68c" stroke-width="1.1"/><path d="M188.1,69.0Q190.1,70.4 193.3,75.5" stroke="#c2aa66" stroke-width="1.4"/><path d="M185.4,110.1Q190.5,109.4 191.5,112.6" stroke="#d4be7e" stroke-width="1.1"/><path d="M212.7,113.3Q216.2,113.8 221.1,115.8" stroke="#ae9452" stroke-width="1.3"/><path d="M218.5,119.1Q214.3,121.0 212.8,122.2" stroke="#7a6638" stroke-width="1.4"/><path d="M202.6,70.4Q204.5,71.9 208.2,74.1" stroke="#dac68c" stroke-width="1.0"/><path d="M182.3,81.1Q184.4,86.2 185.6,89.5" stroke="#6e5a30" stroke-width="1.1"/><path d="M156.4,99.0Q161.9,103.3 164.3,102.9" stroke="#a2884a" stroke-width="1.2"/><path d="M210.3,104.0Q209.6,106.7 210.4,109.7" stroke="#cab272" stroke-width="1.0"/><path d="M162.2,130.3Q167.0,135.3 167.7,138.1" stroke="#ae9452" stroke-width="1.4"/><path d="M172.9,111.3Q170.3,116.2 166.5,116.3" stroke="#ae9452" stroke-width="1.1"/><path d="M166.4,125.3Q169.8,126.8 174.1,127.6" stroke="#b69e5c" stroke-width="1.3"/><path d="M231.6,91.5Q227.9,94.2 228.2,94.7" stroke="#a2884a" stroke-width="1.1"/><path d="M222.9,73.2Q226.6,75.3 227.2,80.0" stroke="#7a6638" stroke-width="0.9"/><path d="M185.6,96.9Q181.9,100.0 179.8,101.3" stroke="#6e5a30" stroke-width="1.1"/><path d="M200.7,90.2Q197.9,92.7 198.5,95.2" stroke="#7a6638" stroke-width="1.1"/><path d="M174.0,66.7Q175.4,69.4 179.4,67.9" stroke="#cab272" stroke-width="1.2"/><path d="M193.2,59.1Q192.3,59.9 188.8,64.6" stroke="#ae9452" stroke-width="1.5"/><path d="M171.5,111.7Q172.8,113.1 175.0,113.6" stroke="#c2aa66" stroke-width="1.2"/><path d="M210.7,117.2Q211.3,118.9 214.6,122.0" stroke="#c2aa66" stroke-width="1.5"/><path d="M192.3,50.7Q189.5,55.3 188.9,57.9" stroke="#c2aa66" stroke-width="1.5"/><path d="M212.1,56.3Q211.5,58.2 209.1,59.7" stroke="#b69e5c" stroke-width="1.2"/><path d="M179.1,52.5Q178.9,58.6 175.8,59.8" stroke="#b69e5c" stroke-width="1.2"/><path d="M208.1,102.3Q204.7,105.6 205.8,107.5" stroke="#6e5a30" stroke-width="1.5"/><path d="M208.8,125.2Q214.2,125.9 216.3,126.7" stroke="#b69e5c" stroke-width="1.1"/><path d="M199.3,69.2Q200.5,71.3 204.7,74.8" stroke="#dac68c" stroke-width="1.3"/><path d="M186.3,138.5Q180.7,139.6 179.3,138.8" stroke="#b69e5c" stroke-width="1.1"/><path d="M209.1,64.3Q214.1,67.0 214.3,67.1" stroke="#ae9452" stroke-width="1.4"/><path d="M191.8,87.1Q193.5,88.5 193.7,93.8" stroke="#6e5a30" stroke-width="1.0"/><path d="M176.4,57.1Q179.8,58.2 186.2,58.4" stroke="#a2884a" stroke-width="1.1"/><path d="M217.4,124.6Q219.0,129.5 223.1,130.2" stroke="#b69e5c" stroke-width="1.0"/><path d="M226.0,107.3Q226.0,108.2 223.6,113.9" stroke="#6e5a30" stroke-width="1.3"/><path d="M158.5,110.9Q158.0,112.4 159.7,114.8" stroke="#c2aa66" stroke-width="1.4"/><path d="M153.7,78.2Q154.9,77.8 158.6,81.8" stroke="#d4be7e" stroke-width="1.3"/><path d="M186.3,117.4Q188.8,120.1 192.5,123.0" stroke="#7a6638" stroke-width="1.5"/><path d="M196.5,48.9Q194.8,52.9 190.4,53.1" stroke="#cab272" stroke-width="1.1"/><path d="M208.4,53.9Q208.3,58.6 211.4,61.6" stroke="#ae9452" stroke-width="1.5"/><path d="M223.5,80.6Q220.9,83.1 219.6,84.6" stroke="#ae9452" stroke-width="1.1"/><path d="M153.0,109.0Q158.2,110.9 162.1,109.1" stroke="#ae9452" stroke-width="1.5"/><path d="M194.9,97.8Q192.6,99.2 187.4,103.0" stroke="#5c4a26" stroke-width="1.5"/><path d="M210.1,115.5Q207.5,116.1 209.4,121.5" stroke="#c2aa66" stroke-width="1.3"/><path d="M155.8,76.2Q157.2,79.1 162.8,79.1" stroke="#7a6638" stroke-width="1.4"/><path d="M188.4,92.9Q192.4,95.8 191.6,101.7" stroke="#b69e5c" stroke-width="1.0"/><path d="M228.1,115.4Q223.5,115.5 220.4,117.1" stroke="#dac68c" stroke-width="0.9"/><path d="M212.0,84.0Q212.6,85.1 216.3,86.1" stroke="#dac68c" stroke-width="1.0"/><path d="M208.9,53.2Q208.2,55.6 209.8,57.2" stroke="#cab272" stroke-width="0.9"/><path d="M222.2,95.8Q224.2,94.9 230.0,98.5" stroke="#7a6638" stroke-width="0.9"/><path d="M172.8,99.6Q172.3,105.2 169.6,106.6" stroke="#ae9452" stroke-width="1.0"/><path d="M180.0,66.8Q183.2,67.6 184.2,71.1" stroke="#b69e5c" stroke-width="1.2"/><path d="M147.8,88.4Q149.0,92.9 153.4,96.3" stroke="#ae9452" stroke-width="0.9"/><path d="M199.0,62.6Q200.1,66.2 203.5,69.2" stroke="#dac68c" stroke-width="1.2"/><path d="M154.9,88.0Q157.5,91.4 157.0,92.7" stroke="#a2884a" stroke-width="1.2"/><path d="M185.6,62.7Q186.4,63.6 189.6,67.8" stroke="#dac68c" stroke-width="0.9"/><path d="M197.5,128.4Q197.0,127.7 192.8,128.5" stroke="#cab272" stroke-width="1.2"/><path d="M207.2,59.8Q204.9,61.4 206.7,65.1" stroke="#d4be7e" stroke-width="1.3"/><path d="M158.2,83.1Q158.4,82.5 154.2,85.0" stroke="#c2aa66" stroke-width="1.2"/><path d="M203.9,107.7Q206.9,109.9 209.3,115.2" stroke="#7a6638" stroke-width="1.3"/><path d="M211.6,114.2Q210.2,118.8 209.0,121.3" stroke="#b69e5c" stroke-width="1.2"/><path d="M190.3,118.6Q189.1,118.0 187.0,121.1" stroke="#ae9452" stroke-width="1.3"/><path d="M188.6,121.7Q193.5,125.8 195.5,126.8" stroke="#c2aa66" stroke-width="1.0"/><path d="M201.1,130.7Q200.2,134.5 200.8,138.2" stroke="#5c4a26" stroke-width="1.1"/><path d="M212.1,89.3Q213.5,91.6 211.7,96.7" stroke="#c2aa66" stroke-width="1.3"/><path d="M183.8,90.3Q187.4,89.1 192.3,92.4" stroke="#c2aa66" stroke-width="1.2"/><path d="M166.4,112.9Q167.9,115.7 172.6,118.8" stroke="#6e5a30" stroke-width="1.3"/><path d="M150.3,106.1Q146.1,109.9 146.8,109.9" stroke="#cab272" stroke-width="1.5"/><path d="M206.9,62.6Q211.9,65.2 215.8,63.9" stroke="#dac68c" stroke-width="1.2"/><path d="M175.8,76.9Q172.0,77.7 171.4,78.6" stroke="#a2884a" stroke-width="1.1"/><path d="M200.4,72.0Q199.0,74.6 195.7,73.1" stroke="#dac68c" stroke-width="1.5"/><path d="M187.6,115.5Q190.2,117.9 189.5,122.2" stroke="#6e5a30" stroke-width="1.3"/><path d="M170.1,89.3Q168.5,92.3 166.5,96.4" stroke="#6e5a30" stroke-width="1.4"/><path d="M211.8,63.0Q211.7,65.0 207.8,64.3" stroke="#6e5a30" stroke-width="1.2"/><path d="M172.7,95.6Q172.3,96.4 173.6,99.9" stroke="#5c4a26" stroke-width="0.9"/><path d="M214.4,62.1Q211.5,64.7 206.2,65.1" stroke="#d4be7e" stroke-width="1.4"/><path d="M168.2,62.7Q172.0,69.2 173.7,71.0" stroke="#ae9452" stroke-width="1.3"/><path d="M176.5,86.3Q180.6,87.2 181.4,89.4" stroke="#c2aa66" stroke-width="1.2"/><path d="M181.0,71.5Q175.5,76.1 174.3,76.5" stroke="#7a6638" stroke-width="1.4"/><path d="M218.2,82.6Q214.1,80.7 208.9,83.5" stroke="#b69e5c" stroke-width="1.0"/><path d="M213.6,52.8Q209.0,55.6 208.7,55.9" stroke="#cab272" stroke-width="1.5"/><path d="M173.9,82.8Q172.2,82.5 166.4,82.9" stroke="#ae9452" stroke-width="1.3"/><path d="M155.8,67.8Q159.4,72.0 158.6,72.6" stroke="#c2aa66" stroke-width="1.4"/><path d="M183.6,106.0Q189.7,105.7 193.1,108.8" stroke="#7a6638" stroke-width="1.1"/><path d="M211.3,105.2Q210.6,108.0 209.8,113.2" stroke="#7a6638" stroke-width="1.2"/><path d="M223.1,116.6Q224.7,118.9 226.6,120.7" stroke="#5c4a26" stroke-width="1.3"/><path d="M194.7,128.3Q197.3,133.7 195.9,134.5" stroke="#6e5a30" stroke-width="1.1"/><path d="M209.3,114.3Q213.4,115.3 215.3,116.7" stroke="#7a6638" stroke-width="1.3"/><path d="M229.9,79.8Q230.9,82.0 230.1,86.1" stroke="#b69e5c" stroke-width="1.5"/><path d="M196.9,55.1Q197.5,58.3 200.3,57.7" stroke="#d4be7e" stroke-width="1.4"/><path d="M210.6,86.6Q207.8,88.2 206.7,94.4" stroke="#cab272" stroke-width="1.2"/><path d="M163.4,125.9Q162.4,129.9 166.3,129.6" stroke="#b69e5c" stroke-width="1.4"/><path d="M203.9,113.3Q202.0,114.3 196.3,114.6" stroke="#c2aa66" stroke-width="1.2"/><path d="M177.8,120.8Q180.0,119.5 185.9,121.5" stroke="#c2aa66" stroke-width="1.3"/><path d="M196.5,43.3Q194.4,46.4 192.6,52.3" stroke="#a2884a" stroke-width="1.5"/><path d="M159.6,122.1Q161.0,124.6 163.6,124.5" stroke="#dac68c" stroke-width="1.2"/><path d="M163.7,118.1Q159.9,121.4 159.9,122.4" stroke="#c2aa66" stroke-width="1.4"/><path d="M219.0,70.4Q221.7,70.0 220.4,74.5" stroke="#cab272" stroke-width="1.5"/><path d="M181.8,131.1Q184.5,130.6 183.6,134.8" stroke="#b69e5c" stroke-width="1.1"/><path d="M160.4,108.4Q155.9,110.8 152.5,108.7" stroke="#7a6638" stroke-width="1.1"/><path d="M208.5,130.6Q205.9,131.2 205.0,133.1" stroke="#cab272" stroke-width="1.4"/><path d="M189.1,58.0Q184.8,57.1 184.9,59.0" stroke="#b69e5c" stroke-width="1.4"/><path d="M151.8,121.4Q155.6,125.2 155.5,128.4" stroke="#5c4a26" stroke-width="1.3"/><path d="M204.4,111.4Q207.2,114.0 210.4,113.2" stroke="#cab272" stroke-width="1.4"/><path d="M181.2,128.4Q178.3,129.2 175.0,132.7" stroke="#ae9452" stroke-width="1.0"/><path d="M214.2,97.6Q210.4,99.2 211.5,104.3" stroke="#b69e5c" stroke-width="1.5"/><path d="M198.9,77.5Q194.6,80.8 193.2,82.0" stroke="#ae9452" stroke-width="0.9"/><path d="M209.8,73.7Q209.3,76.6 212.4,79.2" stroke="#cab272" stroke-width="0.9"/><path d="M160.7,95.4Q161.5,99.2 163.3,101.6" stroke="#d4be7e" stroke-width="1.4"/><path d="M160.3,82.0Q165.0,82.9 166.8,82.4" stroke="#dac68c" stroke-width="1.2"/><path d="M185.4,129.2Q185.9,133.2 181.5,136.0" stroke="#ae9452" stroke-width="1.4"/><path d="M219.4,112.2Q218.7,113.9 221.8,116.7" stroke="#d4be7e" stroke-width="0.9"/><path d="M188.8,130.4Q186.2,131.6 181.2,136.2" stroke="#d4be7e" stroke-width="1.1"/><path d="M170.5,91.5Q172.9,93.5 171.6,97.3" stroke="#7a6638" stroke-width="0.9"/><path d="M175.0,81.6Q172.5,82.5 169.3,82.5" stroke="#6e5a30" stroke-width="1.0"/><path d="M202.7,63.4Q201.0,66.8 204.2,69.1" stroke="#dac68c" stroke-width="1.2"/><path d="M179.3,102.1Q178.0,100.1 174.5,102.2" stroke="#cab272" stroke-width="1.3"/><path d="M153.3,85.2Q147.6,87.5 144.2,88.7" stroke="#5c4a26" stroke-width="1.1"/><path d="M209.3,94.0Q207.1,95.6 204.8,101.4" stroke="#c2aa66" stroke-width="1.4"/><path d="M172.9,101.6Q169.7,105.3 171.4,106.6" stroke="#6e5a30" stroke-width="1.0"/><path d="M176.9,68.9Q180.0,70.4 183.1,75.9" stroke="#ae9452" stroke-width="1.1"/><path d="M178.6,106.4Q172.8,109.4 171.6,111.4" stroke="#c2aa66" stroke-width="1.1"/><path d="M156.1,100.1Q161.6,101.2 163.9,101.5" stroke="#ae9452" stroke-width="1.3"/><path d="M156.2,61.1Q156.4,67.2 158.7,68.5" stroke="#b69e5c" stroke-width="1.4"/><path d="M222.5,97.1Q220.2,96.1 216.0,99.2" stroke="#a2884a" stroke-width="1.2"/><path d="M148.9,104.2Q147.4,106.0 144.8,109.2" stroke="#7a6638" stroke-width="0.9"/><path d="M201.1,48.1Q200.0,52.6 200.7,54.6" stroke="#d4be7e" stroke-width="1.2"/><path d="M207.9,70.6Q201.3,69.6 198.5,71.5" stroke="#cab272" stroke-width="1.2"/><path d="M160.2,103.4Q160.6,108.7 159.1,112.8" stroke="#6e5a30" stroke-width="1.0"/><path d="M218.8,119.4Q221.7,123.0 221.6,123.3" stroke="#6e5a30" stroke-width="1.3"/><path d="M145.2,91.6Q148.5,97.7 147.3,101.0" stroke="#c2aa66" stroke-width="0.9"/><path d="M185.7,133.2Q186.7,139.1 190.6,140.2" stroke="#7a6638" stroke-width="1.1"/><path d="M229.3,89.2Q229.3,90.4 224.9,95.5" stroke="#6e5a30" stroke-width="1.1"/><path d="M186.0,118.7Q187.6,120.8 190.1,119.5" stroke="#6e5a30" stroke-width="1.0"/><path d="M191.2,71.2Q188.7,69.6 184.5,72.4" stroke="#dac68c" stroke-width="1.0"/><path d="M192.2,116.3Q196.5,118.4 196.2,120.9" stroke="#7a6638" stroke-width="1.3"/><path d="M182.1,97.5Q183.9,101.1 186.7,102.5" stroke="#dac68c" stroke-width="1.1"/><path d="M179.4,63.6Q176.4,68.1 175.7,71.6" stroke="#5c4a26" stroke-width="1.2"/><path d="M223.5,83.2Q223.3,82.7 225.2,86.9" stroke="#5c4a26" stroke-width="1.0"/><path d="M205.4,125.9Q199.2,128.8 196.7,130.5" stroke="#cab272" stroke-width="1.1"/><path d="M206.6,134.9Q204.3,138.9 197.9,138.6" stroke="#c2aa66" stroke-width="1.4"/><path d="M201.8,104.1Q201.7,107.9 203.9,112.1" stroke="#a2884a" stroke-width="1.3"/><path d="M205.2,59.3Q205.4,60.2 209.5,61.8" stroke="#cab272" stroke-width="1.3"/><path d="M190.0,125.7Q187.7,126.5 187.8,130.5" stroke="#ae9452" stroke-width="1.0"/><path d="M225.4,84.7Q228.4,87.9 232.2,87.8" stroke="#5c4a26" stroke-width="1.3"/><path d="M165.0,59.2Q163.6,63.6 162.8,67.7" stroke="#d4be7e" stroke-width="1.1"/><path d="M159.6,118.0Q161.7,121.3 162.4,124.6" stroke="#c2aa66" stroke-width="1.0"/><path d="M160.2,89.1Q164.2,91.0 165.7,95.0" stroke="#d4be7e" stroke-width="1.2"/><path d="M206.9,77.4Q208.7,81.4 209.9,85.9" stroke="#b69e5c" stroke-width="1.3"/><path d="M220.9,61.6Q215.1,66.4 212.4,66.4" stroke="#b69e5c" stroke-width="1.0"/><path d="M165.8,70.0Q168.3,69.2 173.6,71.2" stroke="#a2884a" stroke-width="1.3"/><path d="M180.5,133.1Q183.0,135.6 186.0,134.9" stroke="#b69e5c" stroke-width="1.0"/><path d="M171.3,82.0Q173.2,83.7 171.3,88.4" stroke="#dac68c" stroke-width="1.3"/><path d="M164.2,124.8Q164.7,127.5 165.2,129.5" stroke="#7a6638" stroke-width="1.3"/><path d="M228.1,92.8Q223.4,94.1 222.1,94.7" stroke="#dac68c" stroke-width="1.5"/><path d="M147.6,98.2Q148.0,102.7 148.7,104.3" stroke="#5c4a26" stroke-width="1.4"/><path d="M221.3,90.4Q222.8,91.4 223.4,95.4" stroke="#cab272" stroke-width="1.5"/><path d="M208.0,79.0Q204.9,84.1 205.0,85.0" stroke="#b69e5c" stroke-width="1.4"/><path d="M216.7,82.9Q216.9,83.7 214.9,87.0" stroke="#b69e5c" stroke-width="1.2"/><path d="M206.2,104.4Q205.1,109.6 206.1,113.2" stroke="#dac68c" stroke-width="1.4"/><path d="M203.3,125.4Q198.9,128.2 198.3,127.9" stroke="#6e5a30" stroke-width="1.1"/><path d="M167.5,125.1Q169.0,127.1 173.2,125.3" stroke="#b69e5c" stroke-width="1.1"/><path d="M216.1,105.6Q217.8,108.7 221.7,112.6" stroke="#d4be7e" stroke-width="1.1"/><path d="M219.9,114.0Q218.2,116.5 216.1,115.6" stroke="#5c4a26" stroke-width="1.1"/><path d="M189.8,82.6Q187.1,87.2 188.9,86.8" stroke="#7a6638" stroke-width="1.1"/><path d="M218.2,103.6Q217.8,107.3 218.9,110.3" stroke="#a2884a" stroke-width="0.9"/><path d="M194.4,58.2Q199.3,59.9 201.8,58.6" stroke="#d4be7e" stroke-width="0.9"/><path d="M224.7,106.0Q222.0,105.2 217.4,109.1" stroke="#cab272" stroke-width="0.9"/><path d="M222.1,73.1Q221.1,75.7 217.1,79.7" stroke="#cab272" stroke-width="1.5"/><path d="M231.2,87.6Q227.2,91.5 228.2,93.7" stroke="#d4be7e" stroke-width="1.4"/><path d="M183.2,101.8Q184.0,105.2 183.1,107.3" stroke="#5c4a26" stroke-width="1.1"/><path d="M154.2,113.5Q153.5,118.4 151.0,118.4" stroke="#6e5a30" stroke-width="1.0"/><path d="M185.7,116.6Q181.5,121.1 179.0,122.4" stroke="#d4be7e" stroke-width="1.4"/><path d="M182.3,58.7Q186.6,63.3 186.7,67.5" stroke="#b69e5c" stroke-width="1.3"/><path d="M186.9,66.9Q189.1,71.8 192.1,74.4" stroke="#a2884a" stroke-width="1.4"/><path d="M161.9,86.1Q160.7,91.4 164.2,92.7" stroke="#a2884a" stroke-width="1.2"/><path d="M225.4,113.9Q227.3,117.1 228.1,123.4" stroke="#5c4a26" stroke-width="1.1"/><path d="M162.0,86.7Q162.0,88.9 164.7,90.6" stroke="#d4be7e" stroke-width="1.5"/><path d="M185.4,75.2Q188.1,77.6 191.2,80.6" stroke="#7a6638" stroke-width="1.0"/><path d="M155.6,112.7Q153.6,116.2 149.9,115.4" stroke="#ae9452" stroke-width="1.4"/><path d="M165.7,84.8Q162.0,88.5 163.2,91.1" stroke="#6e5a30" stroke-width="1.1"/><path d="M174.3,106.0Q175.0,107.2 173.4,112.9" stroke="#ae9452" stroke-width="1.2"/><path d="M199.8,95.5Q206.1,94.3 208.1,96.2" stroke="#cab272" stroke-width="1.4"/><path d="M148.7,86.4Q151.6,89.7 152.1,91.1" stroke="#cab272" stroke-width="1.4"/><path d="M218.7,121.0Q216.4,124.8 214.3,129.0" stroke="#b69e5c" stroke-width="1.0"/><path d="M190.1,99.7Q189.8,103.3 192.7,102.8" stroke="#d4be7e" stroke-width="1.3"/><path d="M203.3,102.0Q208.1,104.6 209.3,102.9" stroke="#a2884a" stroke-width="1.3"/><path d="M212.8,95.6Q215.1,95.9 214.0,100.6" stroke="#5c4a26" stroke-width="1.2"/><path d="M186.2,120.2Q187.9,124.8 189.8,127.3" stroke="#dac68c" stroke-width="1.1"/><path d="M184.3,61.7Q190.3,64.9 193.3,63.9" stroke="#c2aa66" stroke-width="1.3"/><path d="M151.8,120.7Q155.6,124.4 157.5,126.0" stroke="#7a6638" stroke-width="1.4"/><path d="M174.0,64.3Q176.1,65.0 175.4,69.4" stroke="#cab272" stroke-width="1.0"/><path d="M153.4,107.9Q150.5,107.5 149.1,109.0" stroke="#7a6638" stroke-width="1.1"/><path d="M194.4,65.6Q192.4,69.2 189.0,70.5" stroke="#cab272" stroke-width="1.3"/><path d="M187.5,105.5Q185.9,108.9 182.4,112.7" stroke="#cab272" stroke-width="1.4"/><path d="M183.7,80.6Q184.7,80.3 188.9,83.1" stroke="#7a6638" stroke-width="1.4"/><path d="M181.6,110.9Q180.2,112.1 178.6,114.0" stroke="#6e5a30" stroke-width="1.0"/><path d="M214.1,132.3Q213.4,132.0 209.5,136.2" stroke="#5c4a26" stroke-width="1.4"/><path d="M167.5,126.8Q166.5,129.3 162.9,132.3" stroke="#d4be7e" stroke-width="1.4"/><path d="M200.2,61.0Q202.2,63.6 205.5,65.1" stroke="#a2884a" stroke-width="1.3"/><path d="M204.4,85.7Q201.5,86.1 196.0,87.9" stroke="#6e5a30" stroke-width="1.1"/><path d="M232.4,75.8Q227.9,75.7 223.4,80.1" stroke="#dac68c" stroke-width="1.4"/><path d="M213.5,106.7Q213.9,108.0 210.6,110.2" stroke="#6e5a30" stroke-width="1.1"/><path d="M195.6,126.8Q197.4,129.2 197.6,131.9" stroke="#c2aa66" stroke-width="1.5"/><path d="M166.8,118.5Q166.0,121.7 166.4,123.3" stroke="#5c4a26" stroke-width="0.9"/><path d="M216.6,130.2Q216.9,131.6 217.9,134.5" stroke="#7a6638" stroke-width="0.9"/><path d="M186.3,89.2Q189.5,90.3 190.5,89.7" stroke="#b69e5c" stroke-width="1.2"/><path d="M216.6,62.6Q218.6,64.0 221.0,67.6" stroke="#b69e5c" stroke-width="1.1"/><path d="M161.4,102.5Q157.7,104.4 157.3,111.2" stroke="#cab272" stroke-width="1.0"/><path d="M226.0,79.6Q224.9,83.6 224.5,85.4" stroke="#5c4a26" stroke-width="1.2"/><path d="M197.6,46.3Q200.4,49.2 204.1,50.5" stroke="#7a6638" stroke-width="1.5"/><path d="M181.1,62.3Q175.5,65.1 173.3,64.1" stroke="#7a6638" stroke-width="0.9"/><path d="M202.6,115.7Q203.3,118.1 202.6,122.1" stroke="#d4be7e" stroke-width="1.1"/><path d="M200.6,73.7Q200.8,75.2 196.6,75.1" stroke="#a2884a" stroke-width="1.2"/><path d="M180.4,75.3Q184.0,75.3 182.8,79.2" stroke="#c2aa66" stroke-width="1.3"/><path d="M227.1,94.6Q225.9,96.9 223.7,98.8" stroke="#dac68c" stroke-width="1.1"/><path d="M187.3,58.3Q187.3,62.9 190.6,67.0" stroke="#dac68c" stroke-width="1.3"/><path d="M187.9,101.2Q187.8,100.9 183.2,102.4" stroke="#7a6638" stroke-width="1.4"/><path d="M165.8,87.1Q165.4,91.6 167.6,96.8" stroke="#7a6638" stroke-width="1.4"/><path d="M161.8,91.0Q164.2,95.4 162.2,98.3" stroke="#cab272" stroke-width="1.0"/><path d="M197.8,136.0Q201.4,138.9 201.8,139.7" stroke="#a2884a" stroke-width="1.5"/><path d="M180.3,99.6Q180.8,101.3 186.0,105.8" stroke="#7a6638" stroke-width="1.2"/><path d="M214.7,64.3Q215.0,63.1 219.8,64.7" stroke="#b69e5c" stroke-width="1.1"/><path d="M182.8,52.9Q180.2,58.6 178.3,61.7" stroke="#c2aa66" stroke-width="0.9"/><path d="M215.3,68.0Q220.3,66.9 223.8,70.4" stroke="#c2aa66" stroke-width="1.4"/><path d="M164.5,57.7Q166.2,64.3 166.6,66.7" stroke="#d4be7e" stroke-width="1.3"/><path d="M164.4,117.9Q161.1,119.2 158.5,124.4" stroke="#7a6638" stroke-width="1.4"/><path d="M197.5,66.5Q195.3,71.0 193.1,73.1" stroke="#d4be7e" stroke-width="1.2"/><path d="M200.0,117.6Q199.2,123.3 196.8,125.6" stroke="#b69e5c" stroke-width="1.0"/><path d="M199.6,103.1Q201.5,109.0 203.5,110.6" stroke="#5c4a26" stroke-width="1.2"/><path d="M208.5,74.0Q206.1,73.5 200.3,77.5" stroke="#a2884a" stroke-width="1.0"/><path d="M173.3,127.7Q169.8,127.2 165.0,129.5" stroke="#ae9452" stroke-width="1.2"/><path d="M155.4,113.3Q157.9,114.9 162.4,118.5" stroke="#5c4a26" stroke-width="1.3"/><path d="M225.7,96.6Q224.3,99.0 220.8,97.3" stroke="#a2884a" stroke-width="1.0"/><path d="M152.8,70.2Q157.5,70.5 158.2,74.2" stroke="#a2884a" stroke-width="1.1"/><path d="M203.9,104.0Q208.8,106.2 209.3,105.6" stroke="#5c4a26" stroke-width="1.4"/><path d="M185.9,55.4Q184.3,57.9 181.8,56.0" stroke="#ae9452" stroke-width="1.4"/><path d="M147.8,90.9Q150.8,94.1 155.5,97.2" stroke="#ae9452" stroke-width="1.4"/><path d="M206.6,132.2Q204.6,134.3 205.7,136.7" stroke="#6e5a30" stroke-width="0.9"/><path d="M153.9,79.8Q156.6,80.5 158.8,80.1" stroke="#c2aa66" stroke-width="1.2"/><path d="M189.0,68.0Q190.9,67.2 194.5,68.4" stroke="#dac68c" stroke-width="1.0"/><path d="M195.1,55.3Q190.6,59.0 189.7,58.3" stroke="#b69e5c" stroke-width="1.4"/><path d="M159.6,91.8Q164.2,94.3 164.8,94.2" stroke="#dac68c" stroke-width="1.4"/><path d="M170.8,84.7Q170.8,87.2 174.5,93.4" stroke="#cab272" stroke-width="1.2"/><path d="M180.5,110.7Q176.9,109.1 173.7,111.4" stroke="#cab272" stroke-width="1.3"/><path d="M157.4,119.0Q162.9,117.4 164.7,120.6" stroke="#c2aa66" stroke-width="1.2"/><path d="M218.4,97.5Q224.1,96.2 228.2,99.4" stroke="#dac68c" stroke-width="1.0"/><path d="M171.7,54.9Q173.3,60.0 174.1,61.1" stroke="#a2884a" stroke-width="1.3"/><path d="M188.5,85.1Q187.7,91.6 186.9,93.8" stroke="#a2884a" stroke-width="1.0"/><path d="M192.9,53.7Q189.7,57.6 186.0,57.2" stroke="#dac68c" stroke-width="1.0"/><path d="M168.6,109.5Q164.2,114.4 163.3,115.6" stroke="#5c4a26" stroke-width="1.3"/><path d="M227.0,97.3Q228.9,101.4 227.7,105.1" stroke="#5c4a26" stroke-width="1.2"/><path d="M220.7,94.5Q219.8,97.2 215.8,100.6" stroke="#7a6638" stroke-width="1.1"/><path d="M183.8,108.7Q184.5,109.8 186.0,112.2" stroke="#a2884a" stroke-width="1.2"/><path d="M161.6,129.1Q162.6,132.5 162.6,133.3" stroke="#a2884a" stroke-width="1.1"/><path d="M202.0,46.9Q205.6,51.3 205.6,54.5" stroke="#b69e5c" stroke-width="1.3"/><path d="M192.1,102.1Q188.6,102.9 187.5,103.1" stroke="#5c4a26" stroke-width="1.4"/><path d="M199.6,122.1Q197.3,121.7 196.4,125.7" stroke="#7a6638" stroke-width="1.3"/><path d="M180.1,121.4Q176.5,125.9 177.2,130.4" stroke="#5c4a26" stroke-width="1.1"/><path d="M217.8,96.2Q215.0,96.7 215.0,100.7" stroke="#6e5a30" stroke-width="1.2"/><path d="M164.4,96.2Q162.8,98.7 162.0,100.3" stroke="#7a6638" stroke-width="1.0"/><path d="M225.7,106.3Q225.1,113.5 223.0,115.8" stroke="#d4be7e" stroke-width="1.4"/><path d="M194.9,92.7Q196.1,93.8 199.2,94.4" stroke="#7a6638" stroke-width="1.0"/><path d="M180.9,100.7Q184.4,103.8 185.1,102.1" stroke="#ae9452" stroke-width="1.3"/><path d="M225.9,72.5Q225.3,74.6 227.9,77.5" stroke="#dac68c" stroke-width="1.2"/><path d="M192.3,52.6Q187.2,52.4 184.4,54.4" stroke="#a2884a" stroke-width="1.0"/><path d="M165.1,95.2Q166.2,97.9 166.7,101.8" stroke="#c2aa66" stroke-width="1.4"/><path d="M187.7,83.2Q183.7,84.6 179.5,84.5" stroke="#b69e5c" stroke-width="1.2"/><path d="M169.1,105.1Q166.6,107.2 164.3,107.3" stroke="#dac68c" stroke-width="1.5"/><path d="M218.9,99.5Q223.8,98.2 227.8,100.1" stroke="#5c4a26" stroke-width="0.9"/><path d="M219.3,108.6Q218.4,109.6 220.9,113.0" stroke="#d4be7e" stroke-width="1.3"/><path d="M159.9,108.5Q160.1,110.3 157.2,114.6" stroke="#b69e5c" stroke-width="1.5"/><path d="M196.6,84.6Q198.1,86.6 201.8,88.1" stroke="#b69e5c" stroke-width="1.3"/><path d="M205.6,53.1Q205.7,56.1 209.0,57.7" stroke="#cab272" stroke-width="1.1"/><path d="M199.7,90.9Q196.8,93.3 193.9,92.1" stroke="#a2884a" stroke-width="0.9"/><path d="M183.8,66.9Q189.8,69.4 192.5,67.5" stroke="#dac68c" stroke-width="1.2"/><path d="M197.3,115.3Q200.2,117.3 198.8,122.1" stroke="#d4be7e" stroke-width="1.1"/><path d="M193.2,69.4Q192.7,73.1 193.4,77.1" stroke="#cab272" stroke-width="0.9"/><path d="M186.2,124.4Q190.0,123.8 190.3,127.5" stroke="#7a6638" stroke-width="1.1"/><path d="M224.2,110.5Q226.6,111.4 224.4,114.8" stroke="#d4be7e" stroke-width="1.3"/><path d="M188.2,121.4Q188.7,124.5 188.1,126.6" stroke="#c2aa66" stroke-width="1.5"/><path d="M196.8,58.7Q197.5,61.8 198.2,64.6" stroke="#c2aa66" stroke-width="0.9"/><path d="M171.1,127.6Q170.8,130.3 171.9,136.9" stroke="#7a6638" stroke-width="1.0"/><path d="M190.5,88.0Q190.5,93.1 192.0,96.6" stroke="#a2884a" stroke-width="1.4"/><path d="M209.2,84.9Q213.6,86.8 216.3,87.9" stroke="#dac68c" stroke-width="1.0"/><path d="M197.5,48.3Q192.7,48.6 190.8,49.1" stroke="#c2aa66" stroke-width="1.0"/><path d="M215.7,83.9Q217.0,84.9 218.9,86.5" stroke="#5c4a26" stroke-width="1.4"/><path d="M174.3,61.8Q172.0,65.9 173.5,69.3" stroke="#dac68c" stroke-width="1.1"/><path d="M198.7,95.4Q200.1,98.4 199.9,102.5" stroke="#b69e5c" stroke-width="1.1"/><path d="M185.0,93.4Q189.3,94.3 190.4,98.2" stroke="#a2884a" stroke-width="1.3"/><path d="M154.5,101.5Q151.5,104.9 151.2,104.3" stroke="#6e5a30" stroke-width="1.0"/><path d="M170.8,72.5Q168.8,74.8 166.8,72.9" stroke="#6e5a30" stroke-width="1.5"/><path d="M179.2,87.1Q182.9,88.7 184.4,91.9" stroke="#b69e5c" stroke-width="1.0"/><path d="M210.0,57.7Q209.1,61.1 208.2,62.1" stroke="#c2aa66" stroke-width="1.4"/><path d="M174.3,120.6Q176.2,125.8 177.0,126.2" stroke="#ae9452" stroke-width="0.9"/><path d="M180.3,61.3Q181.5,63.6 179.8,67.0" stroke="#a2884a" stroke-width="1.4"/><path d="M166.3,100.4Q171.9,100.8 175.2,101.2" stroke="#dac68c" stroke-width="1.0"/><path d="M200.2,88.2Q200.5,92.5 197.0,95.3" stroke="#dac68c" stroke-width="1.3"/><path d="M149.1,78.2Q149.0,79.6 148.6,85.5" stroke="#a2884a" stroke-width="1.0"/><path d="M197.1,105.5Q199.1,106.0 203.1,107.1" stroke="#5c4a26" stroke-width="1.3"/><path d="M220.2,93.8Q222.1,94.2 227.8,97.0" stroke="#b69e5c" stroke-width="1.5"/><path d="M225.6,123.3Q220.4,125.7 218.8,127.9" stroke="#a2884a" stroke-width="1.3"/><path d="M178.1,131.9Q177.6,133.8 173.0,139.0" stroke="#dac68c" stroke-width="1.2"/><path d="M168.9,91.6Q171.5,97.1 172.8,100.6" stroke="#cab272" stroke-width="1.3"/><path d="M166.0,104.3Q172.0,104.9 173.9,109.4" stroke="#ae9452" stroke-width="1.5"/><path d="M223.8,77.6Q225.1,80.5 225.6,81.7" stroke="#ae9452" stroke-width="1.0"/><path d="M166.0,104.5Q168.0,106.7 167.6,110.4" stroke="#a2884a" stroke-width="1.2"/><path d="M194.1,66.3Q194.0,67.5 191.6,70.1" stroke="#d4be7e" stroke-width="1.5"/><path d="M167.9,73.9Q165.3,78.0 164.2,78.8" stroke="#ae9452" stroke-width="1.2"/><path d="M157.2,106.0Q155.4,107.4 153.0,106.4" stroke="#dac68c" stroke-width="1.0"/><path d="M221.3,93.3Q223.4,95.7 227.5,94.1" stroke="#a2884a" stroke-width="1.0"/><path d="M224.2,94.2Q221.7,92.8 218.2,94.9" stroke="#a2884a" stroke-width="1.1"/><path d="M147.5,73.9Q151.9,76.4 153.2,81.8" stroke="#cab272" stroke-width="1.1"/><path d="M178.5,136.7Q179.9,141.2 185.1,142.9" stroke="#7a6638" stroke-width="1.3"/><path d="M168.3,71.2Q167.4,71.9 168.4,76.1" stroke="#dac68c" stroke-width="1.1"/><path d="M171.3,122.3Q175.0,124.9 180.5,124.3" stroke="#6e5a30" stroke-width="1.4"/><path d="M157.5,69.1Q157.0,70.9 158.9,73.7" stroke="#c2aa66" stroke-width="0.9"/><path d="M196.9,118.0Q194.7,118.5 189.3,123.3" stroke="#5c4a26" stroke-width="1.3"/><path d="M192.9,100.3Q191.5,106.4 191.7,108.1" stroke="#ae9452" stroke-width="1.1"/><path d="M147.7,102.8Q147.8,103.7 152.1,104.5" stroke="#d4be7e" stroke-width="1.1"/><path d="M205.0,53.9Q205.5,54.4 209.5,55.5" stroke="#c2aa66" stroke-width="1.1"/><path d="M175.7,88.4Q174.5,92.2 172.9,93.6" stroke="#a2884a" stroke-width="1.3"/><path d="M174.1,75.3Q171.9,79.4 174.5,85.2" stroke="#c2aa66" stroke-width="1.1"/><path d="M167.1,129.5Q170.1,132.9 171.9,135.6" stroke="#cab272" stroke-width="1.1"/><path d="M193.2,122.6Q188.9,123.0 189.0,122.9" stroke="#b69e5c" stroke-width="1.0"/><path d="M227.2,89.6Q228.1,90.2 230.7,95.0" stroke="#cab272" stroke-width="1.4"/><path d="M192.0,72.9Q187.4,74.8 183.5,73.8" stroke="#c2aa66" stroke-width="1.2"/><path d="M201.6,87.4Q199.5,86.7 193.3,88.9" stroke="#ae9452" stroke-width="1.4"/><path d="M161.3,63.2Q165.1,64.6 168.8,64.5" stroke="#ae9452" stroke-width="1.1"/><path d="M208.1,129.5Q204.4,135.3 202.9,137.1" stroke="#7a6638" stroke-width="0.9"/><path d="M219.7,82.1Q221.3,83.8 223.4,85.0" stroke="#5c4a26" stroke-width="0.9"/><path d="M208.9,87.7Q210.6,88.4 212.4,89.9" stroke="#dac68c" stroke-width="1.1"/><path d="M225.6,87.0Q229.1,89.4 232.2,87.9" stroke="#d4be7e" stroke-width="1.4"/><path d="M175.4,57.2Q175.8,62.8 179.3,65.6" stroke="#b69e5c" stroke-width="1.4"/><path d="M213.7,105.6Q214.9,109.5 214.4,110.6" stroke="#5c4a26" stroke-width="1.0"/><path d="M208.8,66.2Q210.5,70.6 213.9,71.6" stroke="#5c4a26" stroke-width="1.0"/><path d="M179.9,105.4Q182.0,108.7 185.5,113.4" stroke="#c2aa66" stroke-width="1.5"/><path d="M201.9,123.6Q198.4,124.4 195.1,130.1" stroke="#5c4a26" stroke-width="1.4"/><path d="M192.0,83.9Q189.6,86.6 191.9,89.9" stroke="#d4be7e" stroke-width="1.4"/><path d="M180.2,110.2Q176.1,115.9 174.4,117.7" stroke="#6e5a30" stroke-width="1.0"/><path d="M198.4,131.3Q199.7,134.1 199.8,135.4" stroke="#b69e5c" stroke-width="1.4"/><path d="M192.5,100.8Q187.9,99.8 187.1,102.2" stroke="#b69e5c" stroke-width="1.1"/><path d="M161.5,82.3Q161.8,86.7 165.7,89.6" stroke="#c2aa66" stroke-width="1.4"/><path d="M203.8,56.5Q201.4,58.1 197.3,63.7" stroke="#cab272" stroke-width="1.4"/><path d="M180.6,118.7Q179.4,121.8 180.3,126.5" stroke="#5c4a26" stroke-width="1.5"/><path d="M168.1,66.8Q169.1,69.8 169.1,71.4" stroke="#c2aa66" stroke-width="1.2"/><path d="M185.7,109.0Q183.3,109.6 183.5,113.8" stroke="#dac68c" stroke-width="1.4"/><path d="M185.3,124.5Q192.1,127.4 194.4,126.2" stroke="#7a6638" stroke-width="1.0"/><path d="M187.1,55.0Q181.5,56.3 177.8,56.1" stroke="#cab272" stroke-width="1.1"/><path d="M177.4,67.2Q181.3,67.5 183.1,68.2" stroke="#b69e5c" stroke-width="1.2"/><path d="M158.3,127.1Q159.0,131.5 157.3,132.0" stroke="#a2884a" stroke-width="0.9"/><path d="M160.3,125.4Q158.6,126.6 159.2,129.4" stroke="#c2aa66" stroke-width="1.1"/><path d="M180.6,116.7Q179.5,120.5 182.3,125.9" stroke="#5c4a26" stroke-width="1.5"/><path d="M185.8,61.5Q182.6,59.6 180.5,61.8" stroke="#7a6638" stroke-width="1.2"/><path d="M174.6,93.3Q174.8,96.8 170.5,99.9" stroke="#d4be7e" stroke-width="1.0"/><path d="M149.2,88.3Q150.6,90.1 150.4,94.2" stroke="#ae9452" stroke-width="1.3"/><path d="M191.4,113.4Q193.7,114.1 198.2,119.7" stroke="#5c4a26" stroke-width="1.2"/><path d="M216.1,99.8Q213.5,100.2 207.2,103.8" stroke="#7a6638" stroke-width="1.2"/><path d="M184.4,120.3Q188.4,122.3 188.7,122.7" stroke="#6e5a30" stroke-width="1.5"/><path d="M188.1,95.9Q187.6,99.5 184.4,101.4" stroke="#dac68c" stroke-width="1.2"/><path d="M209.7,107.2Q209.4,112.7 208.8,115.7" stroke="#d4be7e" stroke-width="1.5"/><path d="M184.1,91.0Q187.1,91.5 187.8,94.9" stroke="#6e5a30" stroke-width="1.2"/><path d="M154.5,124.0Q153.8,125.7 157.5,127.9" stroke="#c2aa66" stroke-width="1.4"/><path d="M182.0,131.5Q188.4,131.3 190.4,135.1" stroke="#6e5a30" stroke-width="1.1"/><path d="M162.2,73.4Q160.3,78.2 158.7,81.7" stroke="#c2aa66" stroke-width="1.4"/><path d="M199.6,102.1Q195.6,108.4 195.4,110.8" stroke="#5c4a26" stroke-width="0.9"/><path d="M220.8,66.5Q218.1,68.9 212.7,67.7" stroke="#ae9452" stroke-width="1.5"/><path d="M190.3,112.4Q187.9,115.4 187.1,119.5" stroke="#d4be7e" stroke-width="1.1"/><path d="M168.2,111.9Q166.2,113.2 164.4,114.0" stroke="#d4be7e" stroke-width="1.1"/><path d="M146.6,108.6Q147.9,112.5 150.5,113.9" stroke="#cab272" stroke-width="1.2"/><path d="M218.6,91.7Q212.7,94.0 210.4,95.4" stroke="#7a6638" stroke-width="1.3"/><path d="M159.4,60.9Q156.8,66.0 157.3,69.2" stroke="#a2884a" stroke-width="1.1"/><path d="M208.6,64.6Q212.3,67.9 212.4,66.8" stroke="#dac68c" stroke-width="1.3"/><path d="M232.3,103.6Q232.2,102.0 228.3,105.2" stroke="#5c4a26" stroke-width="1.4"/><path d="M154.1,114.9Q155.4,117.9 152.1,121.3" stroke="#5c4a26" stroke-width="1.0"/><path d="M197.6,83.0Q193.8,87.2 194.0,86.6" stroke="#a2884a" stroke-width="1.4"/><path d="M185.9,77.9Q181.9,80.1 182.0,79.8" stroke="#7a6638" stroke-width="1.0"/><path d="M161.6,92.6Q167.6,95.9 169.5,96.1" stroke="#ae9452" stroke-width="1.4"/><path d="M198.4,129.1Q193.2,128.3 190.2,132.3" stroke="#c2aa66" stroke-width="1.1"/><path d="M150.7,120.6Q152.5,123.2 151.3,126.9" stroke="#6e5a30" stroke-width="0.9"/><path d="M164.3,77.5Q161.1,77.2 155.3,81.5" stroke="#a2884a" stroke-width="1.3"/><path d="M221.9,100.6Q223.0,102.6 220.2,107.4" stroke="#d4be7e" stroke-width="1.1"/><path d="M211.8,83.6Q212.9,86.9 215.1,88.3" stroke="#dac68c" stroke-width="1.3"/><path d="M216.1,76.2Q218.8,77.3 218.7,82.0" stroke="#dac68c" stroke-width="1.4"/><path d="M179.8,66.4Q182.2,66.3 181.9,69.9" stroke="#a2884a" stroke-width="1.3"/><path d="M183.4,77.2Q184.8,81.1 185.0,83.5" stroke="#b69e5c" stroke-width="1.4"/><path d="M213.6,99.7Q208.8,101.4 208.2,101.2" stroke="#a2884a" stroke-width="1.0"/><path d="M196.6,122.7Q197.9,124.8 201.6,130.3" stroke="#a2884a" stroke-width="1.3"/><path d="M209.1,121.1Q215.1,118.9 217.3,121.1" stroke="#ae9452" stroke-width="1.0"/><path d="M175.0,106.5Q176.1,107.8 177.1,110.2" stroke="#dac68c" stroke-width="1.0"/><path d="M226.1,112.3Q229.4,111.8 229.2,115.4" stroke="#b69e5c" stroke-width="0.9"/><path d="M209.1,52.3Q214.1,57.5 214.8,57.7" stroke="#ae9452" stroke-width="1.1"/><path d="M153.9,65.0Q155.0,68.7 155.7,71.5" stroke="#cab272" stroke-width="1.4"/><path d="M152.0,94.2Q148.0,98.7 148.0,100.1" stroke="#7a6638" stroke-width="0.9"/><path d="M216.3,75.7Q215.9,75.7 214.9,79.5" stroke="#b69e5c" stroke-width="1.2"/><path d="M175.5,134.9Q172.8,133.4 170.4,136.1" stroke="#dac68c" stroke-width="1.3"/><path d="M207.4,54.1Q203.0,56.9 198.4,55.3" stroke="#d4be7e" stroke-width="0.9"/><path d="M191.2,129.7Q187.6,129.2 187.1,132.4" stroke="#ae9452" stroke-width="1.0"/><path d="M216.5,64.0Q219.3,70.1 218.3,71.7" stroke="#6e5a30" stroke-width="0.9"/><path d="M185.1,62.7Q189.9,61.8 190.8,64.0" stroke="#dac68c" stroke-width="1.1"/><path d="M215.8,117.3Q212.2,119.8 211.9,125.6" stroke="#ae9452" stroke-width="1.3"/><path d="M220.2,111.5Q222.8,113.9 224.9,118.1" stroke="#6e5a30" stroke-width="1.4"/><path d="M215.1,80.9Q216.0,82.9 221.4,81.9" stroke="#cab272" stroke-width="1.1"/><path d="M173.0,129.2Q172.3,134.8 169.2,137.3" stroke="#7a6638" stroke-width="1.3"/><path d="M164.9,67.6Q161.0,69.7 159.6,71.9" stroke="#b69e5c" stroke-width="1.3"/><path d="M228.0,94.6Q224.0,95.7 220.1,100.6" stroke="#dac68c" stroke-width="1.5"/><path d="M188.6,59.9Q189.2,61.7 193.9,64.2" stroke="#d4be7e" stroke-width="1.1"/><path d="M221.2,100.3Q220.6,106.2 219.9,109.9" stroke="#b69e5c" stroke-width="1.5"/><path d="M203.5,66.0Q206.3,67.7 212.2,67.6" stroke="#c2aa66" stroke-width="1.1"/><path d="M178.9,87.8Q176.0,89.0 173.1,93.9" stroke="#c2aa66" stroke-width="1.4"/><path d="M180.1,84.9Q175.4,89.9 175.3,90.0" stroke="#a2884a" stroke-width="1.4"/><path d="M182.2,112.8Q179.0,115.8 178.9,117.9" stroke="#7a6638" stroke-width="1.4"/><path d="M201.0,68.1Q200.6,70.0 196.2,71.8" stroke="#6e5a30" stroke-width="1.0"/><path d="M187.4,71.6Q188.5,69.3 192.0,72.0" stroke="#a2884a" stroke-width="1.4"/><path d="M170.4,129.3Q173.7,132.4 174.5,132.1" stroke="#c2aa66" stroke-width="1.4"/><path d="M230.0,92.8Q229.7,94.8 230.9,96.8" stroke="#c2aa66" stroke-width="1.4"/><path d="M195.7,117.4Q193.6,121.4 193.8,125.3" stroke="#ae9452" stroke-width="1.2"/><path d="M200.9,66.7Q197.0,69.5 194.9,68.6" stroke="#c2aa66" stroke-width="1.4"/><path d="M153.7,74.8Q155.3,77.5 155.6,81.7" stroke="#ae9452" stroke-width="1.3"/><path d="M211.9,112.3Q216.2,114.2 216.3,117.5" stroke="#a2884a" stroke-width="1.2"/><path d="M211.4,104.8Q211.3,105.9 212.8,109.4" stroke="#c2aa66" stroke-width="1.3"/><path d="M223.3,85.9Q228.7,88.7 229.5,91.8" stroke="#5c4a26" stroke-width="1.4"/><path d="M168.2,126.2Q169.0,127.2 172.7,130.8" stroke="#5c4a26" stroke-width="1.5"/><path d="M221.7,93.9Q217.0,99.0 215.5,99.4" stroke="#a2884a" stroke-width="0.9"/><path d="M147.6,85.9Q150.4,91.2 154.2,91.7" stroke="#c2aa66" stroke-width="1.1"/><path d="M220.3,122.4Q217.7,125.8 213.0,124.5" stroke="#ae9452" stroke-width="1.0"/><path d="M173.9,69.6Q172.7,70.5 170.5,75.1" stroke="#d4be7e" stroke-width="1.2"/><path d="M227.8,89.7Q231.1,90.2 234.1,91.2" stroke="#5c4a26" stroke-width="1.0"/><path d="M179.8,56.2Q182.5,57.8 185.5,60.5" stroke="#d4be7e" stroke-width="1.3"/><path d="M197.0,90.7Q198.5,92.4 200.3,94.5" stroke="#c2aa66" stroke-width="1.3"/><path d="M159.2,84.1Q158.7,85.5 157.1,91.6" stroke="#7a6638" stroke-width="1.3"/><path d="M203.3,61.3Q204.5,64.5 202.3,65.7" stroke="#ae9452" stroke-width="1.4"/><path d="M191.6,54.8Q193.1,56.5 190.5,62.0" stroke="#b69e5c" stroke-width="1.4"/><path d="M194.6,72.9Q190.8,75.0 191.3,77.7" stroke="#ae9452" stroke-width="1.3"/><path d="M179.4,128.2Q183.7,128.5 187.0,128.9" stroke="#d4be7e" stroke-width="1.2"/><path d="M212.9,59.1Q214.3,62.1 216.7,65.6" stroke="#5c4a26" stroke-width="1.3"/><path d="M174.6,94.1Q176.4,94.0 179.8,98.5" stroke="#7a6638" stroke-width="1.0"/><path d="M174.3,113.1Q170.4,117.8 170.0,118.8" stroke="#dac68c" stroke-width="1.1"/><path d="M208.2,79.0Q211.5,80.3 215.3,79.3" stroke="#a2884a" stroke-width="1.3"/><path d="M205.7,46.5Q199.4,47.9 198.0,47.1" stroke="#c2aa66" stroke-width="1.0"/><path d="M205.1,74.6Q207.6,75.9 210.1,79.9" stroke="#ae9452" stroke-width="1.1"/><path d="M162.3,89.3Q160.4,88.5 157.0,90.9" stroke="#c2aa66" stroke-width="1.3"/><path d="M185.3,59.8Q182.3,62.0 181.6,63.2" stroke="#ae9452" stroke-width="1.4"/><path d="M185.1,95.1Q188.0,100.2 187.0,102.4" stroke="#b69e5c" stroke-width="1.3"/><path d="M194.8,120.7Q190.5,123.5 190.1,121.5" stroke="#7a6638" stroke-width="1.0"/><path d="M209.8,70.4Q206.6,71.4 200.3,71.5" stroke="#6e5a30" stroke-width="1.0"/><path d="M219.4,82.1Q221.3,82.2 228.0,84.6" stroke="#6e5a30" stroke-width="1.3"/><path d="M169.4,55.8Q166.4,61.8 168.2,64.0" stroke="#dac68c" stroke-width="1.0"/><path d="M180.7,132.4Q183.5,134.7 188.7,137.9" stroke="#a2884a" stroke-width="1.0"/><path d="M170.6,57.7Q171.3,61.1 173.0,66.1" stroke="#ae9452" stroke-width="1.3"/><path d="M166.1,60.6Q168.2,62.2 169.6,63.4" stroke="#ae9452" stroke-width="1.3"/><path d="M161.5,73.8Q162.8,76.9 166.1,77.1" stroke="#d4be7e" stroke-width="0.9"/><path d="M208.3,53.3Q210.6,53.8 212.0,57.1" stroke="#a2884a" stroke-width="1.4"/><path d="M149.8,102.8Q153.2,103.6 159.4,103.7" stroke="#6e5a30" stroke-width="1.5"/><path d="M177.9,115.1Q178.2,118.6 182.9,123.5" stroke="#6e5a30" stroke-width="1.2"/><path d="M172.5,66.0Q169.2,67.6 163.4,68.5" stroke="#cab272" stroke-width="1.2"/><path d="M161.2,61.9Q165.5,65.6 165.6,67.6" stroke="#7a6638" stroke-width="1.4"/><path d="M152.1,109.9Q154.3,113.9 159.0,114.8" stroke="#b69e5c" stroke-width="1.1"/><path d="M161.5,126.5Q163.1,130.8 168.3,131.6" stroke="#6e5a30" stroke-width="1.0"/><path d="M213.5,118.0Q215.6,118.6 221.3,121.4" stroke="#d4be7e" stroke-width="1.2"/><path d="M189.8,124.8Q189.8,127.8 185.7,128.1" stroke="#6e5a30" stroke-width="1.0"/><path d="M223.7,115.3Q226.4,118.1 226.7,118.0" stroke="#6e5a30" stroke-width="1.3"/><path d="M196.0,106.8Q193.0,108.8 190.3,115.0" stroke="#7a6638" stroke-width="1.4"/><path d="M212.5,131.9Q215.8,133.5 219.4,132.0" stroke="#b69e5c" stroke-width="0.9"/><path d="M166.6,99.2Q164.2,103.9 165.4,106.6" stroke="#d4be7e" stroke-width="1.2"/><path d="M221.1,95.8Q219.1,98.0 216.7,103.9" stroke="#ae9452" stroke-width="0.9"/><path d="M183.0,72.0Q187.9,74.0 191.3,72.2" stroke="#ae9452" stroke-width="0.9"/><path d="M170.7,134.8Q169.2,138.1 168.7,138.5" stroke="#5c4a26" stroke-width="1.0"/><path d="M201.7,98.6Q195.8,98.0 193.7,101.6" stroke="#d4be7e" stroke-width="1.2"/><path d="M224.0,83.2Q220.3,83.3 219.1,83.8" stroke="#a2884a" stroke-width="1.1"/><path d="M169.1,93.7Q170.7,95.9 176.1,95.9" stroke="#5c4a26" stroke-width="1.0"/><path d="M220.1,70.1Q219.7,71.7 215.4,74.7" stroke="#d4be7e" stroke-width="1.3"/><path d="M204.7,81.1Q201.6,80.8 197.5,81.7" stroke="#cab272" stroke-width="0.9"/><path d="M172.0,130.1Q170.9,131.8 168.1,137.7" stroke="#a2884a" stroke-width="1.2"/><path d="M221.4,118.9Q219.5,122.1 219.9,123.6" stroke="#c2aa66" stroke-width="1.0"/><path d="M214.2,70.0Q216.4,73.1 215.8,76.5" stroke="#dac68c" stroke-width="1.2"/><path d="M192.2,103.6Q187.7,103.6 186.5,105.5" stroke="#cab272" stroke-width="0.9"/><path d="M167.7,93.0Q164.5,94.5 158.9,94.7" stroke="#ae9452" stroke-width="1.2"/><path d="M204.7,115.2Q205.9,115.1 206.3,119.1" stroke="#d4be7e" stroke-width="1.2"/><path d="M205.0,103.9Q207.3,103.1 211.1,105.0" stroke="#b69e5c" stroke-width="1.0"/><path d="M200.1,136.5Q205.6,135.7 207.8,136.9" stroke="#7a6638" stroke-width="1.4"/><path d="M179.7,74.6Q185.2,76.9 187.0,76.9" stroke="#cab272" stroke-width="1.5"/><path d="M172.6,66.0Q175.1,70.1 174.9,70.2" stroke="#ae9452" stroke-width="1.4"/><path d="M229.3,91.8Q230.7,96.0 229.3,96.7" stroke="#c2aa66" stroke-width="1.1"/><path d="M215.8,63.0Q211.6,64.8 209.0,65.0" stroke="#c2aa66" stroke-width="1.3"/><path d="M163.9,103.6Q162.9,105.7 159.3,107.5" stroke="#cab272" stroke-width="1.1"/><path d="M181.4,79.3Q186.2,83.8 186.5,83.9" stroke="#5c4a26" stroke-width="1.5"/><path d="M180.6,97.5Q182.0,101.7 184.1,103.0" stroke="#b69e5c" stroke-width="1.5"/><path d="M206.5,56.1Q204.3,57.0 202.2,60.0" stroke="#b69e5c" stroke-width="1.4"/><path d="M173.7,81.5Q174.1,84.0 173.4,89.7" stroke="#dac68c" stroke-width="1.1"/><path d="M180.0,55.2Q182.0,56.5 180.7,61.2" stroke="#cab272" stroke-width="1.1"/><path d="M155.4,86.8Q153.1,89.9 149.3,91.6" stroke="#5c4a26" stroke-width="1.0"/><path d="M167.7,121.8Q173.2,126.2 174.1,128.5" stroke="#7a6638" stroke-width="0.9"/><path d="M152.1,101.4Q151.6,106.3 153.4,109.4" stroke="#cab272" stroke-width="1.2"/><path d="M151.0,124.0Q153.5,127.6 159.4,128.0" stroke="#b69e5c" stroke-width="1.1"/><path d="M184.9,126.9Q186.9,131.1 189.8,135.1" stroke="#6e5a30" stroke-width="1.3"/><path d="M224.3,86.4Q225.0,88.9 230.5,91.6" stroke="#d4be7e" stroke-width="1.3"/><path d="M157.0,113.5Q153.9,116.1 152.5,114.2" stroke="#7a6638" stroke-width="1.4"/><path d="M199.1,88.3Q195.3,90.9 190.7,93.1" stroke="#5c4a26" stroke-width="1.4"/><path d="M205.4,49.4Q202.6,50.0 200.4,52.4" stroke="#cab272" stroke-width="1.1"/><path d="M211.9,70.5Q216.0,71.7 215.7,73.6" stroke="#b69e5c" stroke-width="1.1"/><path d="M216.0,131.1Q209.8,133.3 207.0,131.2" stroke="#6e5a30" stroke-width="1.4"/><path d="M178.4,89.1Q178.7,95.6 181.7,97.9" stroke="#cab272" stroke-width="1.3"/><path d="M166.1,129.2Q167.0,130.9 167.9,134.2" stroke="#ae9452" stroke-width="0.9"/><path d="M203.9,122.4Q203.1,123.4 198.8,128.6" stroke="#5c4a26" stroke-width="1.2"/><path d="M184.5,57.8Q181.5,60.5 178.0,60.3" stroke="#a2884a" stroke-width="1.0"/><path d="M226.6,88.9Q224.9,92.0 224.9,95.6" stroke="#6e5a30" stroke-width="1.1"/><path d="M165.0,66.7Q163.1,67.5 160.6,69.3" stroke="#cab272" stroke-width="1.3"/><path d="M162.6,122.4Q161.7,126.0 160.4,127.6" stroke="#ae9452" stroke-width="1.4"/><path d="M189.7,139.8Q186.2,137.9 180.9,139.8" stroke="#ae9452" stroke-width="1.0"/><path d="M201.2,115.7Q199.1,121.6 196.5,123.2" stroke="#b69e5c" stroke-width="1.1"/><path d="M177.5,136.3Q181.3,138.9 183.0,141.4" stroke="#b69e5c" stroke-width="1.0"/><path d="M216.1,104.5Q220.7,106.6 224.3,109.6" stroke="#ae9452" stroke-width="1.2"/><path d="M185.2,123.8Q188.5,126.6 188.3,132.7" stroke="#6e5a30" stroke-width="1.1"/><path d="M162.5,130.5Q160.7,134.6 161.6,138.6" stroke="#7a6638" stroke-width="0.9"/><path d="M226.5,74.2Q224.3,77.8 222.8,78.5" stroke="#5c4a26" stroke-width="1.2"/><path d="M174.6,132.0Q174.3,136.1 172.8,136.1" stroke="#b69e5c" stroke-width="1.1"/><path d="M201.8,74.2Q196.3,78.7 193.9,79.3" stroke="#dac68c" stroke-width="1.4"/><path d="M167.1,74.6Q162.8,73.4 161.4,76.1" stroke="#dac68c" stroke-width="1.4"/><path d="M230.0,99.5Q231.7,103.2 231.2,103.8" stroke="#6e5a30" stroke-width="1.1"/><path d="M225.8,111.5Q228.8,111.9 232.0,115.1" stroke="#6e5a30" stroke-width="1.0"/><path d="M186.5,81.7Q185.9,83.0 189.9,86.7" stroke="#dac68c" stroke-width="0.9"/><path d="M215.8,123.6Q217.3,127.5 215.6,130.2" stroke="#d4be7e" stroke-width="1.2"/><path d="M206.2,56.0Q208.4,58.1 208.5,59.8" stroke="#c2aa66" stroke-width="1.3"/><path d="M211.4,131.2Q213.0,131.6 211.7,136.9" stroke="#cab272" stroke-width="1.5"/><path d="M225.9,103.7Q227.1,105.4 223.4,109.7" stroke="#ae9452" stroke-width="1.0"/><path d="M177.3,102.2Q172.2,103.8 168.8,103.6" stroke="#d4be7e" stroke-width="1.3"/><path d="M170.4,79.5Q168.7,85.4 163.6,86.4" stroke="#cab272" stroke-width="1.3"/><path d="M145.1,93.6Q148.3,97.5 148.4,96.9" stroke="#ae9452" stroke-width="1.3"/><path d="M168.3,128.8Q173.0,132.8 174.0,135.3" stroke="#6e5a30" stroke-width="0.9"/><path d="M198.1,115.6Q193.7,116.3 189.3,119.6" stroke="#5c4a26" stroke-width="1.1"/><path d="M154.4,117.2Q150.3,118.6 149.6,120.1" stroke="#7a6638" stroke-width="1.0"/><path d="M162.9,90.6Q162.0,92.8 164.6,94.7" stroke="#cab272" stroke-width="1.4"/><path d="M189.8,118.4Q184.8,120.0 181.3,122.4" stroke="#dac68c" stroke-width="1.3"/><path d="M158.9,113.6Q159.5,118.7 161.5,121.5" stroke="#6e5a30" stroke-width="1.3"/><path d="M199.4,74.3Q198.0,74.9 197.0,78.8" stroke="#6e5a30" stroke-width="1.1"/><path d="M156.0,112.7Q159.5,116.2 158.6,116.4" stroke="#c2aa66" stroke-width="1.2"/><path d="M176.1,87.3Q174.8,90.9 175.9,93.7" stroke="#6e5a30" stroke-width="1.0"/><path d="M206.7,65.1Q205.9,68.2 208.5,72.5" stroke="#c2aa66" stroke-width="1.0"/><path d="M223.3,72.3Q227.1,71.5 230.3,75.2" stroke="#7a6638" stroke-width="1.4"/><path d="M183.2,57.6Q183.8,60.6 180.1,63.7" stroke="#5c4a26" stroke-width="1.5"/><path d="M183.6,129.8Q183.2,134.9 182.1,135.1" stroke="#5c4a26" stroke-width="1.3"/><path d="M191.8,109.3Q193.4,111.9 199.1,111.8" stroke="#6e5a30" stroke-width="1.0"/><path d="M208.5,96.8Q210.1,100.8 213.4,103.6" stroke="#a2884a" stroke-width="1.0"/><path d="M159.1,78.1Q160.4,80.3 160.2,84.5" stroke="#a2884a" stroke-width="0.9"/><path d="M179.9,133.7Q176.7,136.1 175.2,142.2" stroke="#6e5a30" stroke-width="1.0"/><path d="M210.4,121.7Q207.1,123.0 206.4,123.0" stroke="#5c4a26" stroke-width="1.1"/><path d="M191.0,53.8Q189.4,56.1 187.5,62.3" stroke="#dac68c" stroke-width="0.9"/><path d="M162.6,116.4Q156.0,116.2 153.3,119.3" stroke="#b69e5c" stroke-width="1.5"/><path d="M190.0,123.3Q188.9,125.6 186.7,128.8" stroke="#6e5a30" stroke-width="1.2"/><path d="M196.0,51.0Q193.4,49.4 189.4,51.4" stroke="#ae9452" stroke-width="1.4"/><path d="M170.1,122.0Q166.6,122.6 163.2,123.0" stroke="#7a6638" stroke-width="1.0"/><path d="M226.1,108.0Q222.2,112.9 221.9,113.6" stroke="#ae9452" stroke-width="1.0"/><path d="M175.7,131.7Q171.8,131.0 168.9,133.0" stroke="#ae9452" stroke-width="1.1"/><path d="M154.0,68.4Q155.4,70.7 153.9,74.4" stroke="#5c4a26" stroke-width="1.3"/><path d="M193.6,77.8Q192.8,78.9 194.2,83.7" stroke="#cab272" stroke-width="1.3"/><path d="M219.6,93.6Q216.9,96.4 212.7,94.5" stroke="#5c4a26" stroke-width="1.4"/><path d="M195.9,97.9Q197.9,104.7 198.0,107.2" stroke="#d4be7e" stroke-width="1.4"/><path d="M197.2,114.9Q197.1,116.1 196.0,122.1" stroke="#7a6638" stroke-width="1.3"/><path d="M222.0,84.2Q220.7,88.2 219.9,91.2" stroke="#a2884a" stroke-width="1.4"/><path d="M185.8,52.8Q190.8,53.2 192.3,57.5" stroke="#b69e5c" stroke-width="1.1"/><path d="M202.3,62.4Q196.4,64.2 195.1,67.1" stroke="#b69e5c" stroke-width="1.2"/><path d="M230.3,110.4Q224.4,113.8 221.6,114.0" stroke="#5c4a26" stroke-width="1.3"/><path d="M196.5,133.1Q198.8,135.2 203.7,133.7" stroke="#c2aa66" stroke-width="1.2"/><path d="M149.5,117.5Q147.4,120.2 148.6,122.2" stroke="#7a6638" stroke-width="0.9"/><path d="M212.6,76.4Q209.9,79.4 209.9,80.3" stroke="#ae9452" stroke-width="1.2"/><path d="M192.2,70.3Q194.5,71.0 197.5,74.1" stroke="#d4be7e" stroke-width="1.3"/><path d="M178.1,73.1Q179.3,79.1 179.9,82.3" stroke="#b69e5c" stroke-width="1.2"/><path d="M189.9,59.5Q193.6,60.5 194.6,64.7" stroke="#d4be7e" stroke-width="0.9"/><path d="M159.9,82.0Q155.8,86.6 154.0,89.7" stroke="#a2884a" stroke-width="1.2"/><path d="M222.2,80.7Q222.6,85.9 221.0,86.1" stroke="#cab272" stroke-width="1.4"/><path d="M207.6,96.7Q209.3,99.1 211.7,102.0" stroke="#dac68c" stroke-width="1.3"/><path d="M163.0,82.1Q161.7,86.0 158.9,85.7" stroke="#ae9452" stroke-width="1.0"/><path d="M179.7,88.4Q183.7,87.5 184.4,90.6" stroke="#7a6638" stroke-width="1.0"/><path d="M197.9,41.9Q200.8,47.6 200.5,49.1" stroke="#ae9452" stroke-width="0.9"/><path d="M210.0,75.6Q207.9,77.9 205.1,83.8" stroke="#cab272" stroke-width="0.9"/><path d="M196.3,110.4Q192.4,113.1 190.9,117.0" stroke="#b69e5c" stroke-width="1.1"/><path d="M167.9,131.6Q168.5,134.1 167.8,136.7" stroke="#c2aa66" stroke-width="1.2"/><path d="M169.5,102.5Q169.3,104.9 166.9,106.0" stroke="#b69e5c" stroke-width="1.0"/><path d="M168.4,79.5Q169.8,80.2 166.9,84.0" stroke="#5c4a26" stroke-width="1.1"/><path d="M213.5,98.8Q211.1,98.7 206.5,99.0" stroke="#c2aa66" stroke-width="1.1"/><path d="M163.5,129.5Q165.8,132.0 163.5,133.7" stroke="#dac68c" stroke-width="1.0"/><path d="M160.3,65.5Q166.5,65.1 167.8,67.5" stroke="#d4be7e" stroke-width="1.1"/><path d="M164.3,107.6Q166.5,110.6 168.3,109.4" stroke="#a2884a" stroke-width="1.3"/><path d="M207.1,73.7Q204.0,72.1 202.8,74.1" stroke="#dac68c" stroke-width="1.2"/><path d="M149.9,73.2Q155.0,77.2 155.8,78.0" stroke="#cab272" stroke-width="0.9"/><path d="M223.4,67.1Q220.2,71.8 222.0,73.9" stroke="#5c4a26" stroke-width="1.4"/><path d="M183.9,123.6Q186.5,128.7 189.3,129.6" stroke="#ae9452" stroke-width="1.3"/><path d="M160.1,108.7Q163.6,110.9 164.2,109.5" stroke="#dac68c" stroke-width="0.9"/><path d="M176.2,53.5Q176.5,55.4 174.9,59.2" stroke="#7a6638" stroke-width="1.3"/><path d="M165.0,131.5Q158.9,132.4 155.2,132.1" stroke="#b69e5c" stroke-width="1.4"/><path d="M165.3,99.7Q164.7,99.9 161.2,103.0" stroke="#ae9452" stroke-width="1.2"/><path d="M169.8,114.3Q164.1,115.5 160.3,117.1" stroke="#a2884a" stroke-width="1.1"/><path d="M197.5,61.9Q192.9,60.7 190.0,63.7" stroke="#6e5a30" stroke-width="0.9"/><path d="M205.0,73.3Q203.3,72.9 197.6,77.4" stroke="#b69e5c" stroke-width="0.9"/><path d="M152.6,75.0Q156.0,77.2 159.6,80.6" stroke="#d4be7e" stroke-width="1.1"/><path d="M186.9,89.2Q191.3,92.1 191.8,90.8" stroke="#7a6638" stroke-width="1.2"/><path d="M211.0,110.4Q210.8,115.5 211.5,119.3" stroke="#b69e5c" stroke-width="1.4"/><path d="M195.9,137.1Q190.2,138.5 187.9,137.8" stroke="#6e5a30" stroke-width="1.0"/><path d="M190.9,51.9Q186.9,51.4 182.9,54.7" stroke="#7a6638" stroke-width="1.0"/><path d="M177.3,91.5Q176.3,94.9 171.2,96.3" stroke="#a2884a" stroke-width="0.9"/><path d="M219.6,125.9Q224.5,125.8 225.4,128.1" stroke="#7a6638" stroke-width="1.1"/><path d="M162.8,96.6Q160.8,95.6 155.9,97.7" stroke="#c2aa66" stroke-width="1.0"/><path d="M173.6,79.0Q179.4,79.8 180.6,81.0" stroke="#b69e5c" stroke-width="1.1"/><path d="M186.0,86.0Q181.4,86.7 179.2,86.8" stroke="#c2aa66" stroke-width="1.1"/><path d="M215.4,62.3Q216.9,64.3 216.2,68.2" stroke="#dac68c" stroke-width="1.0"/><path d="M210.5,72.8Q211.5,74.5 209.5,77.3" stroke="#a2884a" stroke-width="1.3"/><path d="M171.0,120.0Q175.8,123.6 177.4,127.5" stroke="#dac68c" stroke-width="1.5"/><path d="M217.5,115.3Q219.4,117.4 218.4,119.3" stroke="#7a6638" stroke-width="1.0"/><path d="M189.0,100.0Q188.3,102.7 184.8,108.7" stroke="#ae9452" stroke-width="1.0"/><path d="M189.6,61.8Q188.1,67.7 188.5,70.0" stroke="#c2aa66" stroke-width="1.0"/><path d="M201.7,95.9Q200.9,97.7 202.5,100.3" stroke="#6e5a30" stroke-width="1.0"/><path d="M189.8,76.7Q192.9,82.3 191.3,84.2" stroke="#b69e5c" stroke-width="1.3"/><path d="M186.4,71.6Q187.2,72.7 190.5,73.9" stroke="#a2884a" stroke-width="1.5"/><path d="M188.6,97.9Q184.4,97.9 182.0,98.1" stroke="#a2884a" stroke-width="1.0"/><path d="M167.3,86.2Q167.9,87.8 170.2,90.3" stroke="#d4be7e" stroke-width="1.0"/><path d="M192.8,104.8Q190.3,111.8 190.8,113.9" stroke="#7a6638" stroke-width="1.4"/><path d="M154.6,111.9Q152.4,115.7 151.7,120.0" stroke="#6e5a30" stroke-width="1.1"/><path d="M205.9,95.2Q201.7,98.0 201.0,101.2" stroke="#cab272" stroke-width="1.4"/><path d="M174.0,63.8Q174.9,63.8 176.3,67.6" stroke="#a2884a" stroke-width="1.0"/><path d="M185.5,76.3Q183.7,79.2 181.9,80.3" stroke="#ae9452" stroke-width="1.0"/><path d="M209.7,79.3Q207.4,84.9 209.2,89.1" stroke="#dac68c" stroke-width="1.1"/><path d="M167.6,72.0Q166.4,75.0 163.9,76.8" stroke="#c2aa66" stroke-width="1.2"/><path d="M204.7,105.2Q198.8,104.2 196.2,107.9" stroke="#5c4a26" stroke-width="1.3"/><path d="M172.5,122.6Q167.9,124.4 167.8,128.8" stroke="#6e5a30" stroke-width="1.1"/><path d="M188.5,61.6Q188.9,62.8 194.1,62.2" stroke="#ae9452" stroke-width="1.1"/><path d="M176.7,67.7Q173.7,69.1 172.2,69.3" stroke="#c2aa66" stroke-width="1.4"/><path d="M198.2,132.3Q197.1,135.3 196.1,139.5" stroke="#a2884a" stroke-width="1.4"/><path d="M203.4,93.7Q198.3,97.4 197.8,98.7" stroke="#a2884a" stroke-width="0.9"/><path d="M187.8,67.7Q184.5,70.7 179.8,73.5" stroke="#cab272" stroke-width="1.0"/><path d="M192.6,84.3Q193.8,87.4 195.6,88.5" stroke="#cab272" stroke-width="1.3"/><path d="M218.7,96.8Q220.1,97.6 220.9,102.6" stroke="#c2aa66" stroke-width="1.4"/><path d="M183.7,99.9Q187.0,99.9 189.7,103.5" stroke="#a2884a" stroke-width="1.4"/><path d="M229.4,83.6Q224.7,83.3 221.5,84.3" stroke="#7a6638" stroke-width="1.0"/><path d="M184.2,92.0Q183.3,97.4 182.5,99.1" stroke="#dac68c" stroke-width="1.1"/><path d="M210.6,70.0Q212.8,72.3 218.1,74.6" stroke="#d4be7e" stroke-width="1.2"/><path d="M159.3,110.2Q158.4,108.3 154.6,110.6" stroke="#ae9452" stroke-width="1.4"/><path d="M216.8,105.9Q215.0,108.8 212.6,108.4" stroke="#7a6638" stroke-width="1.2"/><path d="M144.7,92.8Q146.3,95.4 149.9,94.1" stroke="#c2aa66" stroke-width="1.1"/><path d="M193.3,62.3Q189.2,68.1 190.1,69.6" stroke="#cab272" stroke-width="1.1"/><path d="M196.1,109.2Q198.2,115.5 198.9,117.7" stroke="#7a6638" stroke-width="1.4"/><path d="M207.0,71.8Q210.1,74.5 214.8,77.8" stroke="#c2aa66" stroke-width="1.0"/><path d="M154.3,84.1Q153.3,90.5 153.0,93.8" stroke="#7a6638" stroke-width="1.1"/><path d="M214.2,71.1Q218.5,71.2 218.3,72.1" stroke="#dac68c" stroke-width="1.0"/><path d="M167.6,83.5Q169.4,87.8 173.3,87.3" stroke="#c2aa66" stroke-width="0.9"/><path d="M217.0,62.7Q215.6,67.8 215.5,72.4" stroke="#ae9452" stroke-width="1.4"/><path d="M177.1,118.0Q179.9,117.7 185.9,118.5" stroke="#d4be7e" stroke-width="1.0"/><path d="M203.8,92.9Q197.7,92.6 196.5,94.0" stroke="#5c4a26" stroke-width="1.4"/><path d="M203.9,120.9Q201.9,121.3 202.5,125.0" stroke="#7a6638" stroke-width="1.1"/><path d="M189.4,99.0Q185.2,100.3 181.8,102.0" stroke="#c2aa66" stroke-width="0.9"/><path d="M184.7,86.6Q184.3,86.8 188.4,91.0" stroke="#d4be7e" stroke-width="1.1"/><path d="M166.6,131.3Q163.3,132.8 162.4,134.0" stroke="#b69e5c" stroke-width="1.0"/><path d="M221.7,74.0Q218.5,75.0 216.2,80.9" stroke="#5c4a26" stroke-width="1.2"/><path d="M149.1,92.6Q152.0,96.6 152.6,98.4" stroke="#dac68c" stroke-width="1.3"/><path d="M159.3,108.9Q159.7,109.5 164.3,110.1" stroke="#c2aa66" stroke-width="1.4"/><path d="M190.8,91.6Q193.2,95.2 198.6,97.1" stroke="#a2884a" stroke-width="1.1"/><path d="M201.5,71.6Q203.0,69.7 206.1,72.3" stroke="#a2884a" stroke-width="1.1"/><path d="M212.6,63.5Q212.5,64.5 208.5,64.5" stroke="#d4be7e" stroke-width="1.1"/><path d="M184.4,101.2Q182.5,101.4 177.1,104.9" stroke="#cab272" stroke-width="1.4"/><path d="M218.7,113.3Q219.0,117.6 223.8,119.6" stroke="#dac68c" stroke-width="1.0"/><path d="M212.0,108.8Q217.0,112.1 218.4,111.1" stroke="#b69e5c" stroke-width="1.3"/><path d="M207.9,120.9Q208.7,125.9 208.6,128.4" stroke="#6e5a30" stroke-width="1.0"/><path d="M159.5,116.5Q156.7,118.5 155.7,122.5" stroke="#6e5a30" stroke-width="1.1"/><path d="M173.8,66.0Q173.2,71.3 175.2,72.5" stroke="#d4be7e" stroke-width="1.0"/><path d="M220.7,74.7Q216.3,74.0 216.2,75.0" stroke="#7a6638" stroke-width="1.2"/><path d="M210.1,82.4Q207.2,86.7 203.9,88.5" stroke="#b69e5c" stroke-width="1.2"/><path d="M162.0,125.0Q163.3,126.3 168.0,132.5" stroke="#6e5a30" stroke-width="1.2"/><path d="M180.3,119.7Q178.7,123.7 181.7,127.1" stroke="#a2884a" stroke-width="1.1"/><path d="M200.5,47.2Q201.3,48.2 197.4,49.8" stroke="#a2884a" stroke-width="1.2"/><path d="M212.7,57.1Q212.3,60.7 215.8,63.3" stroke="#b69e5c" stroke-width="1.0"/><path d="M170.0,135.3Q174.9,140.2 176.3,142.9" stroke="#5c4a26" stroke-width="1.1"/><path d="M196.7,85.5Q199.7,89.0 200.3,89.3" stroke="#cab272" stroke-width="1.4"/><path d="M177.5,130.5Q182.1,130.8 182.9,133.2" stroke="#5c4a26" stroke-width="0.9"/><path d="M197.3,47.5Q196.5,51.1 191.5,54.7" stroke="#d4be7e" stroke-width="1.3"/><path d="M180.8,70.0Q177.6,76.5 177.3,78.2" stroke="#7a6638" stroke-width="1.2"/><path d="M168.0,66.7Q171.6,67.6 173.0,68.4" stroke="#c2aa66" stroke-width="0.9"/><path d="M209.6,121.9Q213.4,121.7 218.7,122.2" stroke="#dac68c" stroke-width="1.4"/><path d="M209.0,126.4Q206.6,128.3 203.8,131.8" stroke="#cab272" stroke-width="0.9"/><path d="M182.2,90.7Q177.1,89.7 173.9,91.5" stroke="#7a6638" stroke-width="1.3"/><path d="M165.0,100.7Q168.6,104.5 168.0,104.3" stroke="#6e5a30" stroke-width="1.1"/><path d="M226.1,72.3Q228.3,73.8 227.6,79.1" stroke="#b69e5c" stroke-width="1.3"/><path d="M202.6,69.1Q201.0,73.7 201.4,76.3" stroke="#ae9452" stroke-width="1.1"/><path d="M160.8,70.2Q163.2,75.0 163.2,76.0" stroke="#ae9452" stroke-width="0.9"/><path d="M214.2,67.4Q216.0,68.5 214.2,73.8" stroke="#dac68c" stroke-width="1.1"/><path d="M187.2,59.1Q186.2,60.4 189.8,64.0" stroke="#6e5a30" stroke-width="1.5"/><path d="M231.8,103.0Q229.9,104.5 224.0,108.3" stroke="#6e5a30" stroke-width="1.3"/><path d="M145.3,113.5Q149.1,116.0 150.5,121.7" stroke="#a2884a" stroke-width="1.3"/><path d="M165.8,103.7Q165.1,105.5 161.7,107.4" stroke="#6e5a30" stroke-width="1.2"/><path d="M187.7,136.7Q191.3,138.7 190.5,140.9" stroke="#7a6638" stroke-width="0.9"/><path d="M157.9,104.3Q156.3,110.8 155.1,112.9" stroke="#5c4a26" stroke-width="1.0"/><path d="M213.6,95.3Q208.9,95.6 206.5,96.3" stroke="#b69e5c" stroke-width="0.9"/><path d="M182.2,90.2Q184.7,90.0 189.9,94.4" stroke="#5c4a26" stroke-width="1.3"/><path d="M201.6,129.8Q204.3,132.9 206.2,137.3" stroke="#c2aa66" stroke-width="0.9"/><path d="M205.6,96.2Q205.0,99.6 202.2,102.5" stroke="#b69e5c" stroke-width="1.4"/><path d="M193.8,81.2Q198.3,85.3 198.8,86.0" stroke="#cab272" stroke-width="1.2"/><path d="M164.3,96.0Q160.5,96.4 157.7,100.6" stroke="#a2884a" stroke-width="1.1"/><path d="M168.9,102.6Q164.9,104.8 163.1,106.8" stroke="#a2884a" stroke-width="1.1"/><path d="M205.4,59.2Q208.7,60.3 211.0,66.1" stroke="#dac68c" stroke-width="0.9"/><path d="M172.4,79.5Q173.3,82.3 172.1,87.9" stroke="#7a6638" stroke-width="1.4"/><path d="M156.2,121.7Q156.4,124.1 160.7,122.6" stroke="#cab272" stroke-width="1.3"/><path d="M189.7,71.6Q194.6,70.8 197.9,75.0" stroke="#ae9452" stroke-width="1.4"/><path d="M176.4,95.0Q176.7,96.9 177.7,99.0" stroke="#c2aa66" stroke-width="1.1"/><path d="M170.0,58.9Q172.7,61.0 172.2,67.4" stroke="#dac68c" stroke-width="0.9"/><path d="M218.1,99.1Q215.4,102.7 217.1,103.0" stroke="#7a6638" stroke-width="1.2"/><path d="M198.9,45.5Q197.7,49.9 197.1,49.6" stroke="#c2aa66" stroke-width="1.4"/><path d="M157.1,72.2Q159.4,73.1 162.9,73.2" stroke="#dac68c" stroke-width="1.3"/><path d="M151.2,82.5Q146.8,85.0 146.8,88.6" stroke="#c2aa66" stroke-width="1.1"/><path d="M215.7,129.3Q211.3,134.1 208.0,135.4" stroke="#ae9452" stroke-width="1.0"/><path d="M180.9,69.2Q178.2,70.1 175.3,71.9" stroke="#5c4a26" stroke-width="1.4"/><path d="M207.5,94.4Q209.9,97.9 213.0,96.6" stroke="#a2884a" stroke-width="1.2"/><path d="M157.9,76.1Q157.9,75.1 161.8,78.4" stroke="#dac68c" stroke-width="0.9"/><path d="M200.0,108.9Q197.5,109.7 195.0,110.3" stroke="#6e5a30" stroke-width="1.2"/><path d="M200.4,129.7Q195.3,128.9 194.7,132.5" stroke="#b69e5c" stroke-width="1.1"/><path d="M160.0,82.7Q161.3,82.7 165.0,86.0" stroke="#dac68c" stroke-width="1.0"/><path d="M180.2,102.8Q176.7,104.3 176.2,103.6" stroke="#6e5a30" stroke-width="1.5"/><path d="M184.5,62.1Q182.7,66.4 181.3,66.8" stroke="#6e5a30" stroke-width="1.5"/><path d="M171.6,76.6Q171.0,77.2 168.0,82.6" stroke="#cab272" stroke-width="1.4"/><path d="M163.5,107.2Q163.8,108.4 169.0,108.3" stroke="#ae9452" stroke-width="1.2"/><path d="M206.1,72.1Q204.1,71.6 202.3,75.8" stroke="#cab272" stroke-width="1.2"/><path d="M162.3,72.9Q163.1,77.7 161.5,80.9" stroke="#d4be7e" stroke-width="1.2"/><path d="M221.0,119.5Q218.5,122.1 215.7,125.8" stroke="#c2aa66" stroke-width="1.4"/><path d="M206.3,92.0Q204.7,91.5 203.5,96.0" stroke="#b69e5c" stroke-width="1.0"/><path d="M168.4,74.0Q170.2,77.1 175.3,78.0" stroke="#ae9452" stroke-width="1.3"/><path d="M178.3,120.4Q181.7,118.1 187.2,120.7" stroke="#cab272" stroke-width="1.5"/><path d="M200.9,135.5Q202.8,138.9 208.6,137.4" stroke="#b69e5c" stroke-width="1.1"/><path d="M213.5,113.5Q213.3,115.8 213.4,118.7" stroke="#dac68c" stroke-width="1.1"/><path d="M208.9,72.1Q209.6,73.8 211.3,78.3" stroke="#ae9452" stroke-width="1.1"/><path d="M191.9,131.6Q190.8,132.9 186.9,135.9" stroke="#6e5a30" stroke-width="1.0"/><path d="M199.1,120.3Q202.5,123.0 201.0,125.1" stroke="#d4be7e" stroke-width="1.1"/><path d="M203.1,53.3Q203.2,56.8 206.3,56.7" stroke="#a2884a" stroke-width="1.5"/><path d="M180.7,88.1Q178.1,93.3 174.8,95.5" stroke="#a2884a" stroke-width="1.4"/><path d="M222.2,79.0Q223.4,81.2 226.8,79.4" stroke="#7a6638" stroke-width="0.9"/><path d="M167.8,95.6Q169.3,101.6 171.3,102.9" stroke="#ae9452" stroke-width="1.2"/><path d="M185.5,128.8Q187.5,131.8 187.4,137.1" stroke="#6e5a30" stroke-width="1.1"/><path d="M146.2,111.1Q148.1,113.5 152.7,113.6" stroke="#a2884a" stroke-width="1.2"/><path d="M225.2,89.0Q225.3,89.4 221.5,93.2" stroke="#6e5a30" stroke-width="1.2"/><path d="M217.1,87.3Q216.6,90.6 215.9,92.4" stroke="#a2884a" stroke-width="1.0"/><path d="M206.8,85.1Q206.2,87.9 207.4,94.8" stroke="#dac68c" stroke-width="0.9"/><path d="M222.0,91.2Q219.3,96.2 218.1,96.9" stroke="#6e5a30" stroke-width="1.1"/><path d="M196.2,66.9Q195.8,72.3 194.0,74.9" stroke="#b69e5c" stroke-width="1.2"/><path d="M188.8,59.7Q192.8,64.9 194.6,66.9" stroke="#ae9452" stroke-width="0.9"/><path d="M205.1,93.0Q204.8,95.1 202.0,98.5" stroke="#d4be7e" stroke-width="0.9"/><path d="M183.6,121.0Q180.1,126.8 180.5,129.9" stroke="#7a6638" stroke-width="0.9"/><path d="M157.0,76.0Q158.2,78.6 159.7,79.8" stroke="#cab272" stroke-width="1.3"/><path d="M198.1,51.8Q195.9,52.8 193.7,51.9" stroke="#c2aa66" stroke-width="1.4"/><path d="M227.9,70.7Q228.5,75.4 228.0,78.9" stroke="#b69e5c" stroke-width="1.5"/><path d="M160.4,59.8Q162.8,58.7 169.4,62.2" stroke="#c2aa66" stroke-width="1.0"/><path d="M194.7,88.1Q197.4,88.2 198.7,89.8" stroke="#a2884a" stroke-width="1.3"/><path d="M188.9,83.7Q194.8,85.8 197.7,87.9" stroke="#5c4a26" stroke-width="1.2"/><path d="M215.7,106.2Q218.3,112.2 216.8,115.5" stroke="#5c4a26" stroke-width="1.2"/><path d="M213.5,113.8Q212.0,113.4 208.8,116.4" stroke="#7a6638" stroke-width="1.4"/><path d="M163.3,86.8Q161.4,90.2 160.7,93.6" stroke="#dac68c" stroke-width="1.1"/><path d="M163.1,67.6Q166.4,68.7 167.0,70.8" stroke="#c2aa66" stroke-width="1.5"/><path d="M166.2,94.3Q162.8,94.2 160.6,98.5" stroke="#c2aa66" stroke-width="1.2"/><path d="M199.9,58.0Q197.5,58.9 195.6,61.4" stroke="#a2884a" stroke-width="1.0"/><path d="M159.4,103.6Q156.5,106.0 158.2,107.5" stroke="#a2884a" stroke-width="1.5"/><path d="M161.2,106.5Q161.1,110.2 158.0,115.9" stroke="#dac68c" stroke-width="1.0"/><path d="M176.3,135.9Q178.4,137.3 180.9,136.9" stroke="#a2884a" stroke-width="1.0"/><path d="M199.4,66.0Q195.8,68.5 193.4,71.6" stroke="#cab272" stroke-width="1.2"/><path d="M177.8,62.1Q176.7,66.6 180.2,70.8" stroke="#c2aa66" stroke-width="1.1"/><path d="M183.6,113.1Q183.2,115.8 184.6,119.4" stroke="#ae9452" stroke-width="1.0"/><path d="M167.4,126.4Q169.3,126.1 174.5,127.5" stroke="#5c4a26" stroke-width="1.4"/><path d="M193.8,106.8Q191.1,110.7 190.7,111.0" stroke="#c2aa66" stroke-width="0.9"/><path d="M218.3,117.5Q218.1,122.6 220.9,126.3" stroke="#6e5a30" stroke-width="1.0"/><path d="M154.0,87.1Q154.0,86.9 156.8,90.5" stroke="#b69e5c" stroke-width="1.5"/><path d="M142.9,104.8Q145.0,104.5 152.0,105.6" stroke="#a2884a" stroke-width="1.3"/><path d="M178.4,105.5Q180.2,108.5 177.0,110.0" stroke="#7a6638" stroke-width="0.9"/><path d="M169.6,102.4Q170.4,104.2 169.4,109.9" stroke="#dac68c" stroke-width="1.3"/><path d="M163.3,93.3Q162.8,94.2 159.9,97.5" stroke="#a2884a" stroke-width="0.9"/><path d="M173.0,134.3Q170.3,136.6 165.7,138.1" stroke="#dac68c" stroke-width="1.0"/><path d="M169.3,66.6Q166.3,68.2 164.3,68.4" stroke="#a2884a" stroke-width="1.2"/><path d="M185.5,85.9Q184.9,89.9 184.2,91.5" stroke="#cab272" stroke-width="1.2"/><path d="M177.7,109.1Q175.1,110.7 175.0,116.3" stroke="#b69e5c" stroke-width="1.1"/><path d="M183.5,138.6Q186.2,137.2 189.9,140.7" stroke="#a2884a" stroke-width="1.1"/><path d="M203.0,135.3Q206.2,134.7 210.1,137.3" stroke="#6e5a30" stroke-width="1.2"/><path d="M153.2,66.3Q152.1,70.0 153.1,74.8" stroke="#dac68c" stroke-width="1.5"/><path d="M210.9,94.3Q211.6,97.4 215.3,97.9" stroke="#a2884a" stroke-width="1.2"/><path d="M157.5,107.4Q157.2,109.3 153.9,111.1" stroke="#d4be7e" stroke-width="1.0"/><path d="M153.0,73.4Q154.8,74.4 155.0,78.3" stroke="#a2884a" stroke-width="1.3"/><path d="M205.2,74.2Q212.0,73.9 213.9,76.1" stroke="#dac68c" stroke-width="1.1"/><path d="M155.6,95.2Q157.4,98.0 158.0,98.8" stroke="#5c4a26" stroke-width="1.0"/><path d="M216.8,86.1Q219.8,89.0 220.4,88.9" stroke="#ae9452" stroke-width="1.1"/><path d="M202.6,129.7Q202.2,133.7 204.3,137.4" stroke="#7a6638" stroke-width="1.3"/><path d="M169.0,76.6Q166.7,76.2 164.7,79.5" stroke="#cab272" stroke-width="1.2"/><path d="M212.0,69.1Q213.3,72.4 217.7,72.8" stroke="#a2884a" stroke-width="1.4"/><path d="M201.3,72.8Q202.3,75.0 202.5,79.4" stroke="#6e5a30" stroke-width="1.4"/><path d="M188.8,94.1Q186.8,96.3 185.0,102.1" stroke="#dac68c" stroke-width="1.5"/><path d="M224.8,72.6Q222.5,73.6 216.1,76.9" stroke="#dac68c" stroke-width="1.0"/><path d="M187.1,50.8Q183.8,54.5 181.0,57.3" stroke="#dac68c" stroke-width="1.4"/><path d="M196.5,81.9Q200.6,83.9 203.3,82.9" stroke="#b69e5c" stroke-width="1.1"/><path d="M192.1,50.1Q189.2,50.6 185.5,54.1" stroke="#cab272" stroke-width="1.3"/><path d="M182.0,132.8Q185.8,132.4 185.1,135.7" stroke="#6e5a30" stroke-width="1.2"/><path d="M190.8,122.0Q194.8,120.4 199.6,123.5" stroke="#6e5a30" stroke-width="1.3"/><path d="M199.1,129.3Q202.8,130.5 203.1,130.0" stroke="#5c4a26" stroke-width="1.2"/><path d="M164.9,100.5Q168.6,102.9 168.3,104.6" stroke="#7a6638" stroke-width="1.1"/><path d="M168.6,125.0Q168.9,130.9 164.9,131.9" stroke="#b69e5c" stroke-width="1.1"/><path d="M154.8,68.8Q155.2,75.0 155.8,77.0" stroke="#c2aa66" stroke-width="1.3"/><path d="M195.8,56.3Q200.6,59.8 200.7,62.6" stroke="#d4be7e" stroke-width="1.2"/><path d="M181.7,102.7Q183.7,105.0 189.5,106.9" stroke="#a2884a" stroke-width="1.1"/><path d="M185.1,122.9Q187.4,124.4 192.5,124.8" stroke="#5c4a26" stroke-width="1.4"/><path d="M191.1,100.2Q189.4,101.0 186.2,100.4" stroke="#dac68c" stroke-width="1.3"/><path d="M226.1,88.6Q230.0,87.2 230.2,90.8" stroke="#7a6638" stroke-width="1.0"/><path d="M168.3,68.5Q165.8,67.3 161.6,68.5" stroke="#5c4a26" stroke-width="1.0"/><path d="M225.2,70.3Q220.4,70.3 215.9,71.7" stroke="#b69e5c" stroke-width="1.2"/><path d="M198.3,123.0Q198.5,124.9 201.9,127.2" stroke="#6e5a30" stroke-width="1.5"/><path d="M218.4,58.8Q216.7,60.8 211.4,59.7" stroke="#cab272" stroke-width="1.3"/><path d="M189.3,132.5Q186.0,136.2 187.5,137.2" stroke="#5c4a26" stroke-width="1.0"/><path d="M180.8,137.0Q179.8,140.4 177.2,140.6" stroke="#5c4a26" stroke-width="0.9"/><path d="M200.8,62.8Q199.5,63.7 200.7,68.7" stroke="#cab272" stroke-width="1.3"/><path d="M165.2,130.9Q169.1,130.4 170.5,132.4" stroke="#a2884a" stroke-width="0.9"/><path d="M215.5,130.1Q214.6,134.1 215.8,135.1" stroke="#c2aa66" stroke-width="1.2"/><path d="M172.5,99.3Q172.0,103.1 170.6,105.6" stroke="#d4be7e" stroke-width="0.9"/><path d="M193.2,82.1Q191.0,80.5 186.3,82.6" stroke="#7a6638" stroke-width="1.4"/><path d="M171.1,73.8Q168.0,73.6 164.9,75.9" stroke="#c2aa66" stroke-width="1.4"/><path d="M153.7,92.3Q158.6,92.3 162.9,95.6" stroke="#7a6638" stroke-width="1.4"/><path d="M208.5,121.0Q208.5,122.1 205.1,126.6" stroke="#5c4a26" stroke-width="0.9"/><path d="M176.5,107.5Q179.2,107.3 180.5,110.5" stroke="#b69e5c" stroke-width="1.4"/><path d="M181.8,100.3Q182.9,102.6 187.4,102.9" stroke="#cab272" stroke-width="1.3"/><path d="M185.8,96.3Q187.3,98.2 190.6,98.2" stroke="#b69e5c" stroke-width="1.2"/><path d="M217.2,119.5Q216.1,119.4 213.6,123.7" stroke="#5c4a26" stroke-width="1.1"/><path d="M195.5,82.3Q191.9,84.8 188.2,83.1" stroke="#6e5a30" stroke-width="1.2"/><path d="M220.0,121.4Q223.9,120.6 225.6,121.7" stroke="#d4be7e" stroke-width="1.4"/><path d="M187.3,110.3Q189.3,114.4 194.1,115.2" stroke="#b69e5c" stroke-width="1.5"/><path d="M176.4,66.3Q171.0,68.5 169.0,69.4" stroke="#cab272" stroke-width="1.0"/><path d="M172.5,81.1Q171.2,85.9 166.0,86.9" stroke="#dac68c" stroke-width="1.2"/><path d="M206.1,118.2Q209.5,124.0 210.8,126.9" stroke="#c2aa66" stroke-width="1.5"/><path d="M149.1,90.6Q145.2,92.9 143.9,96.0" stroke="#ae9452" stroke-width="1.1"/><path d="M176.9,70.1Q176.6,70.7 173.2,75.0" stroke="#c2aa66" stroke-width="0.9"/><path d="M180.3,99.4Q185.0,100.2 185.9,104.7" stroke="#5c4a26" stroke-width="1.4"/><path d="M227.3,100.5Q227.3,101.0 223.4,105.8" stroke="#6e5a30" stroke-width="1.4"/><path d="M185.2,76.1Q178.6,79.3 176.6,78.9" stroke="#ae9452" stroke-width="1.0"/><path d="M185.3,77.0Q185.9,78.3 186.8,84.4" stroke="#b69e5c" stroke-width="1.5"/><path d="M180.0,123.0Q177.8,122.4 174.3,125.5" stroke="#7a6638" stroke-width="0.9"/><path d="M174.0,130.5Q179.0,132.3 181.0,134.1" stroke="#7a6638" stroke-width="1.2"/><path d="M150.9,94.7Q154.2,94.5 158.0,96.8" stroke="#6e5a30" stroke-width="1.4"/><path d="M221.5,66.9Q218.6,71.3 218.0,75.2" stroke="#b69e5c" stroke-width="1.4"/><path d="M149.6,102.0Q154.4,103.1 158.3,106.3" stroke="#c2aa66" stroke-width="1.1"/><path d="M157.9,104.2Q157.8,107.5 154.9,111.9" stroke="#a2884a" stroke-width="1.1"/><path d="M226.9,106.0Q224.6,108.6 223.8,114.5" stroke="#b69e5c" stroke-width="1.2"/><path d="M155.3,99.3Q155.4,102.7 153.7,103.7" stroke="#cab272" stroke-width="1.2"/><path d="M152.3,106.9Q150.0,112.4 145.8,113.9" stroke="#a2884a" stroke-width="0.9"/><path d="M178.1,102.1Q178.0,102.6 174.0,104.1" stroke="#c2aa66" stroke-width="1.1"/><path d="M174.2,75.5Q172.0,75.9 169.9,79.7" stroke="#6e5a30" stroke-width="1.0"/><path d="M169.8,89.5Q170.2,93.5 174.9,95.3" stroke="#cab272" stroke-width="1.4"/><path d="M159.5,106.7Q166.5,106.1 169.5,107.3" stroke="#cab272" stroke-width="1.3"/><path d="M208.6,81.0Q203.2,85.0 201.8,87.9" stroke="#dac68c" stroke-width="0.9"/><path d="M201.0,83.7Q206.0,85.2 207.1,89.2" stroke="#d4be7e" stroke-width="1.3"/><path d="M188.0,56.1Q189.8,58.6 190.3,65.5" stroke="#cab272" stroke-width="1.0"/><path d="M184.5,96.1Q181.1,97.3 177.0,102.6" stroke="#dac68c" stroke-width="1.5"/><path d="M183.1,109.4Q186.6,109.9 187.3,114.9" stroke="#7a6638" stroke-width="1.4"/><path d="M221.7,116.3Q217.9,116.9 215.7,119.2" stroke="#d4be7e" stroke-width="1.0"/><path d="M177.7,109.5Q177.7,110.8 173.9,111.2" stroke="#7a6638" stroke-width="1.0"/><path d="M162.0,83.3Q159.9,84.7 162.0,88.8" stroke="#c2aa66" stroke-width="1.2"/><path d="M203.0,116.8Q204.5,121.2 204.4,126.0" stroke="#a2884a" stroke-width="1.3"/><path d="M159.3,76.6Q158.5,80.2 154.4,82.4" stroke="#d4be7e" stroke-width="1.2"/><path d="M202.7,115.2Q199.9,116.1 201.7,121.3" stroke="#7a6638" stroke-width="1.5"/><path d="M164.7,79.7Q169.8,81.8 173.9,82.2" stroke="#5c4a26" stroke-width="1.3"/><path d="M160.0,77.3Q162.3,77.2 166.6,79.0" stroke="#ae9452" stroke-width="1.2"/><path d="M210.5,68.1Q205.9,68.3 205.7,70.3" stroke="#b69e5c" stroke-width="1.0"/><path d="M156.8,108.9Q156.5,111.2 159.8,114.9" stroke="#cab272" stroke-width="1.1"/><path d="M204.7,129.8Q205.2,130.0 209.9,134.2" stroke="#b69e5c" stroke-width="1.0"/><path d="M154.1,83.0Q157.8,85.5 156.7,87.1" stroke="#a2884a" stroke-width="1.3"/><path d="M200.4,118.1Q198.1,121.4 196.3,123.7" stroke="#ae9452" stroke-width="1.4"/><path d="M165.6,136.5Q171.1,137.1 173.0,137.7" stroke="#ae9452" stroke-width="1.5"/><path d="M168.6,89.9Q165.3,90.9 165.4,92.5" stroke="#7a6638" stroke-width="1.0"/><path d="M219.4,64.4Q218.8,66.1 215.4,67.2" stroke="#b69e5c" stroke-width="1.2"/><path d="M196.8,91.8Q200.3,96.1 202.0,96.5" stroke="#d4be7e" stroke-width="1.0"/><path d="M230.7,98.7Q225.8,99.2 225.6,102.3" stroke="#a2884a" stroke-width="1.5"/><path d="M171.3,60.5Q172.1,64.3 168.6,64.6" stroke="#6e5a30" stroke-width="0.9"/><path d="M170.0,79.3Q173.1,84.7 172.9,86.4" stroke="#ae9452" stroke-width="1.2"/><path d="M181.5,94.9Q178.3,97.7 179.9,98.6" stroke="#6e5a30" stroke-width="1.3"/><path d="M153.2,111.3Q151.3,112.8 148.8,118.0" stroke="#7a6638" stroke-width="1.4"/><path d="M168.4,59.2Q166.0,65.8 165.4,68.1" stroke="#c2aa66" stroke-width="1.0"/><path d="M198.8,110.3Q197.1,113.8 196.0,118.7" stroke="#6e5a30" stroke-width="1.2"/><path d="M190.0,75.4Q187.2,77.0 188.9,79.8" stroke="#b69e5c" stroke-width="1.4"/><path d="M189.2,53.2Q188.5,54.9 182.8,58.4" stroke="#a2884a" stroke-width="1.0"/><path d="M172.7,81.6Q170.2,82.0 163.6,84.7" stroke="#dac68c" stroke-width="1.3"/><path d="M195.8,112.0Q199.9,113.6 200.3,116.2" stroke="#cab272" stroke-width="0.9"/><path d="M200.4,51.7Q201.2,56.0 197.5,58.2" stroke="#c2aa66" stroke-width="1.2"/><path d="M185.9,101.0Q180.8,102.7 177.3,104.9" stroke="#a2884a" stroke-width="1.2"/><path d="M212.2,91.7Q217.9,94.2 219.2,97.8" stroke="#7a6638" stroke-width="1.1"/><path d="M197.8,61.5Q193.0,66.3 192.6,69.2" stroke="#ae9452" stroke-width="1.1"/><path d="M195.6,81.7Q195.8,84.8 192.7,84.9" stroke="#5c4a26" stroke-width="1.1"/><path d="M202.5,106.2Q200.2,110.0 193.8,109.4" stroke="#a2884a" stroke-width="1.1"/><path d="M177.4,67.2Q176.1,68.2 174.1,70.6" stroke="#cab272" stroke-width="1.3"/><path d="M163.8,73.9Q167.6,78.0 169.1,78.1" stroke="#cab272" stroke-width="1.0"/><path d="M193.1,55.4Q190.7,56.1 186.6,60.8" stroke="#ae9452" stroke-width="1.2"/><path d="M199.0,99.0Q202.4,102.8 201.0,104.5" stroke="#a2884a" stroke-width="1.5"/><path d="M168.9,110.6Q165.6,111.3 161.8,113.4" stroke="#b69e5c" stroke-width="1.5"/><path d="M159.5,103.0Q159.8,104.5 155.8,106.2" stroke="#5c4a26" stroke-width="1.5"/><path d="M148.8,100.3Q149.5,102.0 151.8,104.0" stroke="#7a6638" stroke-width="0.9"/><path d="M165.2,76.4Q162.7,80.6 157.6,81.8" stroke="#ae9452" stroke-width="1.5"/><path d="M211.1,103.3Q211.1,107.2 210.8,110.1" stroke="#c2aa66" stroke-width="1.0"/><path d="M192.0,108.9Q195.3,112.7 195.1,114.7" stroke="#b69e5c" stroke-width="1.0"/><path d="M162.6,83.1Q161.9,88.5 164.5,89.9" stroke="#ae9452" stroke-width="1.4"/><path d="M195.6,134.8Q191.7,134.7 191.4,136.0" stroke="#5c4a26" stroke-width="1.1"/><path d="M213.5,88.1Q215.9,90.6 213.8,95.8" stroke="#b69e5c" stroke-width="1.1"/><path d="M200.8,116.2Q202.8,121.6 202.6,124.8" stroke="#6e5a30" stroke-width="1.0"/><path d="M214.1,81.6Q211.9,82.1 210.1,84.7" stroke="#ae9452" stroke-width="1.0"/><path d="M205.2,112.5Q201.8,116.4 202.5,120.3" stroke="#7a6638" stroke-width="1.1"/><path d="M168.9,116.1Q168.4,120.8 170.2,123.1" stroke="#ae9452" stroke-width="1.4"/><path d="M181.4,130.0Q182.0,132.9 182.9,137.3" stroke="#6e5a30" stroke-width="1.5"/><path d="M192.4,58.3Q188.9,58.1 184.5,60.2" stroke="#d4be7e" stroke-width="1.0"/><path d="M205.8,116.5Q207.6,115.9 210.8,118.1" stroke="#a2884a" stroke-width="1.2"/><path d="M147.2,88.8Q150.1,90.2 154.6,92.6" stroke="#7a6638" stroke-width="1.0"/><path d="M173.7,117.0Q173.3,118.3 173.5,121.2" stroke="#7a6638" stroke-width="1.4"/><path d="M155.1,86.1Q159.2,87.6 159.7,86.5" stroke="#5c4a26" stroke-width="1.3"/><path d="M187.5,69.4Q191.5,71.1 190.8,75.8" stroke="#5c4a26" stroke-width="1.5"/><path d="M201.5,64.0Q202.3,68.8 206.1,70.3" stroke="#dac68c" stroke-width="1.3"/><path d="M174.5,116.8Q175.6,116.9 179.3,120.8" stroke="#b69e5c" stroke-width="1.5"/><path d="M180.6,96.1Q182.7,100.6 181.3,105.9" stroke="#a2884a" stroke-width="1.3"/><path d="M179.3,131.0Q180.9,132.3 185.1,134.8" stroke="#a2884a" stroke-width="1.3"/><path d="M149.0,79.7Q149.5,82.9 154.7,81.2" stroke="#b69e5c" stroke-width="1.2"/><path d="M212.6,73.5Q217.5,73.8 219.2,77.1" stroke="#cab272" stroke-width="1.4"/><path d="M153.6,69.8Q156.0,69.9 158.6,72.9" stroke="#5c4a26" stroke-width="1.4"/><path d="M151.1,100.8Q150.8,102.7 155.3,108.5" stroke="#ae9452" stroke-width="1.0"/><path d="M218.6,116.3Q221.1,121.3 220.9,121.3" stroke="#c2aa66" stroke-width="1.1"/><path d="M168.7,124.9Q169.0,125.3 166.3,130.0" stroke="#5c4a26" stroke-width="1.3"/><path d="M196.9,102.9Q197.5,107.3 196.2,109.1" stroke="#7a6638" stroke-width="1.0"/><path d="M190.3,58.3Q191.1,60.7 189.1,63.2" stroke="#ae9452" stroke-width="1.2"/><path d="M217.6,115.0Q217.6,116.8 214.2,122.5" stroke="#d4be7e" stroke-width="1.1"/><path d="M172.4,106.3Q169.3,105.9 165.4,107.2" stroke="#dac68c" stroke-width="1.1"/><path d="M181.4,111.0Q180.2,111.6 175.0,111.4" stroke="#5c4a26" stroke-width="1.2"/><path d="M187.8,51.4Q187.8,51.5 184.4,54.9" stroke="#cab272" stroke-width="1.1"/><path d="M189.4,75.5Q194.4,77.9 195.6,77.6" stroke="#d4be7e" stroke-width="1.5"/><path d="M150.8,106.3Q149.9,108.0 152.4,113.5" stroke="#a2884a" stroke-width="0.9"/><path d="M218.1,112.5Q217.0,115.1 215.5,116.6" stroke="#d4be7e" stroke-width="1.3"/><path d="M211.9,77.5Q211.4,81.6 210.8,82.2" stroke="#d4be7e" stroke-width="1.2"/><path d="M183.2,133.4Q186.1,135.3 190.0,134.4" stroke="#6e5a30" stroke-width="1.0"/><path d="M181.0,72.9Q179.5,76.4 174.9,75.2" stroke="#5c4a26" stroke-width="1.2"/><path d="M192.7,67.7Q192.1,69.0 189.9,74.3" stroke="#c2aa66" stroke-width="1.1"/><path d="M194.1,89.3Q192.3,89.6 189.2,94.7" stroke="#a2884a" stroke-width="1.3"/><path d="M221.1,102.6Q222.1,103.8 223.4,106.5" stroke="#6e5a30" stroke-width="1.3"/><path d="M183.4,93.5Q182.5,94.9 176.8,95.2" stroke="#dac68c" stroke-width="1.3"/><path d="M207.0,57.9Q203.6,59.9 204.4,62.3" stroke="#d4be7e" stroke-width="1.0"/><path d="M168.5,66.8Q171.0,66.3 176.4,69.9" stroke="#dac68c" stroke-width="1.0"/><path d="M173.4,57.4Q174.9,61.9 177.0,62.0" stroke="#dac68c" stroke-width="1.4"/><path d="M216.6,86.0Q213.8,88.0 207.9,87.6" stroke="#a2884a" stroke-width="1.3"/><path d="M228.4,100.7Q230.3,104.7 230.7,104.6" stroke="#dac68c" stroke-width="1.1"/><path d="M208.9,116.9Q204.1,118.0 204.2,119.3" stroke="#d4be7e" stroke-width="1.3"/><path d="M212.9,108.6Q210.0,110.8 207.1,110.1" stroke="#a2884a" stroke-width="1.3"/><path d="M168.2,85.8Q170.0,91.1 173.5,94.1" stroke="#ae9452" stroke-width="1.3"/><path d="M185.0,113.7Q182.8,116.8 178.7,115.6" stroke="#c2aa66" stroke-width="0.9"/><path d="M190.3,85.5Q192.5,89.1 196.1,88.3" stroke="#ae9452" stroke-width="0.9"/><path d="M180.3,91.0Q182.1,90.0 185.4,91.4" stroke="#b69e5c" stroke-width="1.1"/><path d="M213.2,80.6Q217.1,83.2 220.5,86.5" stroke="#7a6638" stroke-width="1.2"/><path d="M228.8,99.7Q229.2,104.9 232.8,108.5" stroke="#dac68c" stroke-width="1.5"/><path d="M188.9,94.1Q189.2,95.8 191.1,97.8" stroke="#c2aa66" stroke-width="1.0"/><path d="M144.3,92.0 L145.7,117.7 L150.6,127.3 L159.6,135.7 L171.4,140.9 L184.9,142.9 L198.7,141.2 L210.9,137.7 L219.5,134.3 L226.5,125.3 L230.7,114.9 L233.5,100.3 L233.3,89.9 L231.7,79.5 L229.8,71.9 L221.3,60.8 L210.9,50.4 L199.9,43.3 L190.1,48.3 L181.8,51.4 L174.5,54.5 L164.1,58.7 L153.7,64.9 L147.5,77.4 L145.4,84.7Z" fill="url(#hov)"/></g><rect x="749.6" y="46.6" width="106" height="98.3" fill="url(#g2)"/><g clip-path="url(#c2)" fill="none" stroke-linecap="round"><path d="M795.6,53.1 L781.3,60.3 L767.0,69.8 L759.9,81.7 L757.5,93.6 L762.3,105.5 L767.0,115.0 L776.6,127.0 L788.5,135.3 L804.0,137.2 L809.5,134.0 L821.4,129.3 L833.3,122.2 L840.5,112.7 L845.2,103.1 L846.4,91.2 L840.5,81.7 L831.0,69.8 L814.3,56.7 L804.0,55.0Z" fill="#1e1e1e"/><path d="M790.5,65.0Q792.8,64.5 793.6,65.7" stroke="#303030" stroke-width="1.3"/><path d="M803.8,75.2Q803.4,76.2 805.8,76.4" stroke="#151515" stroke-width="1.4"/><path d="M778.4,74.7Q780.7,75.0 780.9,76.1" stroke="#222" stroke-width="1.4"/><path d="M832.4,79.7Q831.6,82.3 833.3,82.3" stroke="#151515" stroke-width="1.1"/><path d="M833.4,97.2Q834.2,99.9 836.1,101.0" stroke="#3a3a3a" stroke-width="1.2"/><path d="M772.7,87.1Q774.7,87.1 774.8,89.8" stroke="#151515" stroke-width="1.0"/><path d="M781.4,96.5Q781.3,97.1 781.7,99.5" stroke="#222" stroke-width="0.9"/><path d="M812.6,73.9Q812.7,75.2 814.5,77.7" stroke="#303030" stroke-width="1.2"/><path d="M831.2,111.5Q833.7,112.3 833.6,114.3" stroke="#151515" stroke-width="0.9"/><path d="M781.2,108.8Q782.8,109.8 782.8,111.3" stroke="#303030" stroke-width="1.4"/><path d="M843.1,104.6Q841.2,104.6 840.6,106.1" stroke="#151515" stroke-width="1.3"/><path d="M810.8,64.2Q811.3,65.3 810.1,67.2" stroke="#101010" stroke-width="0.9"/><path d="M784.1,60.3Q781.1,61.1 780.8,60.4" stroke="#151515" stroke-width="0.9"/><path d="M811.6,97.5Q811.3,99.8 810.8,100.4" stroke="#2a2a2a" stroke-width="0.9"/><path d="M799.2,71.8Q799.9,72.6 799.8,73.8" stroke="#101010" stroke-width="1.1"/><path d="M774.3,68.0Q774.8,69.3 777.0,68.3" stroke="#3a3a3a" stroke-width="0.9"/><path d="M842.1,100.6Q841.3,101.4 838.8,100.7" stroke="#222" stroke-width="1.2"/><path d="M799.2,58.6Q801.5,60.9 802.8,61.4" stroke="#151515" stroke-width="1.0"/><path d="M814.6,120.1Q814.0,121.8 814.3,124.0" stroke="#222" stroke-width="1.3"/><path d="M799.9,124.3Q802.4,124.7 802.4,127.3" stroke="#151515" stroke-width="0.8"/><path d="M815.5,99.2Q812.9,99.9 812.1,102.7" stroke="#151515" stroke-width="1.3"/><path d="M810.8,72.1Q811.7,75.3 812.2,76.2" stroke="#101010" stroke-width="1.3"/><path d="M773.2,107.7Q774.2,108.5 775.5,111.8" stroke="#101010" stroke-width="1.3"/><path d="M819.5,60.4Q818.0,62.8 819.0,63.1" stroke="#151515" stroke-width="0.8"/><path d="M789.2,58.2Q787.0,57.6 785.9,58.6" stroke="#151515" stroke-width="1.3"/><path d="M799.2,134.8Q799.9,136.6 801.4,135.4" stroke="#3a3a3a" stroke-width="1.3"/><path d="M793.5,111.3Q795.1,113.1 794.2,115.1" stroke="#151515" stroke-width="1.2"/><path d="M766.3,98.9Q766.7,99.5 767.2,101.2" stroke="#222" stroke-width="0.9"/><path d="M805.9,129.0Q804.1,130.6 804.7,130.5" stroke="#303030" stroke-width="0.9"/><path d="M810.8,95.6Q811.5,98.7 810.6,98.9" stroke="#303030" stroke-width="1.0"/><path d="M813.5,108.8Q813.2,111.5 812.5,111.6" stroke="#101010" stroke-width="1.3"/><path d="M802.7,88.4Q801.7,90.4 801.5,91.4" stroke="#303030" stroke-width="1.3"/><path d="M789.0,99.8Q790.3,102.7 790.7,103.3" stroke="#2a2a2a" stroke-width="0.8"/><path d="M784.0,82.8Q787.3,85.0 788.0,85.2" stroke="#3a3a3a" stroke-width="0.8"/><path d="M830.1,121.2Q829.4,122.9 827.7,121.6" stroke="#3a3a3a" stroke-width="1.4"/><path d="M797.9,126.8Q800.9,127.9 801.3,129.6" stroke="#222" stroke-width="1.0"/><path d="M811.4,128.0Q810.6,129.2 809.6,130.3" stroke="#151515" stroke-width="1.2"/><path d="M797.2,118.6Q796.9,119.6 797.1,123.5" stroke="#303030" stroke-width="1.0"/><path d="M773.8,96.9Q772.4,97.0 771.6,100.0" stroke="#303030" stroke-width="1.0"/><path d="M804.5,91.2Q802.0,90.2 800.6,91.6" stroke="#303030" stroke-width="1.2"/><path d="M781.7,70.6Q778.7,70.5 777.2,71.6" stroke="#2a2a2a" stroke-width="0.9"/><path d="M828.3,108.1Q827.2,111.3 827.6,113.0" stroke="#303030" stroke-width="0.8"/><path d="M836.6,105.5Q836.4,108.7 835.3,109.2" stroke="#151515" stroke-width="1.2"/><path d="M836.3,111.9Q834.9,113.6 835.6,115.9" stroke="#222" stroke-width="1.3"/><path d="M775.6,76.1Q774.8,77.3 775.5,79.2" stroke="#151515" stroke-width="1.3"/><path d="M817.3,124.7Q817.4,126.6 818.9,127.5" stroke="#101010" stroke-width="1.4"/><path d="M782.5,119.6Q782.9,120.1 784.8,120.2" stroke="#3a3a3a" stroke-width="1.3"/><path d="M797.5,112.6Q800.6,115.1 801.3,115.0" stroke="#222" stroke-width="1.2"/><path d="M792.2,123.9Q791.7,124.5 788.9,125.8" stroke="#2a2a2a" stroke-width="1.1"/><path d="M794.7,114.8Q794.1,114.9 792.5,116.2" stroke="#3a3a3a" stroke-width="1.3"/><path d="M836.4,103.8Q838.7,106.2 838.6,107.7" stroke="#151515" stroke-width="1.3"/><path d="M819.8,101.5Q818.6,102.6 819.4,106.5" stroke="#303030" stroke-width="1.4"/><path d="M803.9,122.3Q804.1,124.4 802.6,124.0" stroke="#222" stroke-width="0.8"/><path d="M821.6,61.9Q818.1,61.2 817.2,62.2" stroke="#3a3a3a" stroke-width="1.3"/><path d="M776.4,72.3Q775.8,73.1 774.4,74.5" stroke="#303030" stroke-width="1.3"/><path d="M770.0,94.1Q772.3,95.3 773.5,94.8" stroke="#3a3a3a" stroke-width="1.0"/><path d="M819.2,89.1Q819.4,90.4 821.0,90.2" stroke="#101010" stroke-width="1.4"/><path d="M794.4,105.3Q792.4,104.7 791.7,106.7" stroke="#3a3a3a" stroke-width="0.9"/><path d="M793.7,102.7Q791.4,105.8 791.6,106.0" stroke="#3a3a3a" stroke-width="1.3"/><path d="M816.9,127.4Q817.1,127.7 816.9,129.8" stroke="#303030" stroke-width="0.8"/><path d="M762.4,96.0Q764.7,97.1 766.6,97.3" stroke="#303030" stroke-width="1.0"/><path d="M824.9,66.9Q826.5,68.4 826.6,68.2" stroke="#303030" stroke-width="1.2"/><path d="M769.7,116.8Q772.2,115.6 771.8,117.1" stroke="#151515" stroke-width="1.2"/><path d="M839.4,110.6Q839.1,112.2 837.1,114.5" stroke="#2a2a2a" stroke-width="1.3"/><path d="M809.9,93.2Q811.5,93.3 811.6,96.0" stroke="#101010" stroke-width="1.3"/><path d="M768.6,69.6Q770.4,70.5 771.3,72.1" stroke="#151515" stroke-width="1.4"/><path d="M802.8,60.0Q803.9,60.2 806.6,63.2" stroke="#151515" stroke-width="1.4"/><path d="M775.0,121.2Q774.7,123.9 771.8,124.8" stroke="#101010" stroke-width="1.4"/><path d="M821.2,88.8Q818.4,89.9 817.9,92.2" stroke="#222" stroke-width="1.1"/><path d="M806.7,126.5Q807.8,128.2 806.9,131.4" stroke="#3a3a3a" stroke-width="0.8"/><path d="M814.7,83.7Q815.2,84.3 817.6,86.2" stroke="#3a3a3a" stroke-width="0.8"/><path d="M796.1,77.9Q796.6,79.5 795.1,80.2" stroke="#303030" stroke-width="1.4"/><path d="M808.8,79.3Q807.7,82.7 807.4,84.0" stroke="#2a2a2a" stroke-width="1.1"/><path d="M771.8,91.7Q772.9,92.7 776.1,93.4" stroke="#3a3a3a" stroke-width="0.9"/><path d="M807.0,81.4Q805.3,81.9 803.0,82.2" stroke="#2a2a2a" stroke-width="1.3"/><path d="M797.9,125.4Q800.0,125.2 800.6,127.5" stroke="#303030" stroke-width="1.1"/><path d="M760.9,79.6Q759.9,80.5 759.3,84.1" stroke="#303030" stroke-width="0.8"/><path d="M793.2,128.7Q793.7,131.8 796.1,132.3" stroke="#151515" stroke-width="1.3"/><path d="M782.3,95.4Q781.5,95.6 782.8,97.6" stroke="#222" stroke-width="1.0"/><path d="M843.9,94.5Q842.7,96.9 843.7,98.5" stroke="#151515" stroke-width="1.2"/><path d="M770.5,116.4Q771.7,117.0 770.1,119.6" stroke="#303030" stroke-width="1.2"/><path d="M790.7,91.2Q789.2,89.9 787.3,91.4" stroke="#101010" stroke-width="1.4"/><path d="M805.5,133.8Q808.1,135.0 808.1,136.5" stroke="#3a3a3a" stroke-width="1.2"/><path d="M785.5,76.9Q786.4,78.5 787.1,79.4" stroke="#303030" stroke-width="1.2"/><path d="M779.5,125.4Q780.0,127.0 781.5,126.6" stroke="#151515" stroke-width="1.3"/><path d="M804.8,69.5Q807.0,72.5 808.3,72.9" stroke="#101010" stroke-width="1.0"/><path d="M794.8,94.7Q793.9,97.2 795.8,96.6" stroke="#151515" stroke-width="0.8"/><path d="M796.0,113.0Q796.6,114.3 795.1,117.8" stroke="#303030" stroke-width="1.1"/><path d="M787.0,59.1Q787.3,61.0 788.0,61.5" stroke="#303030" stroke-width="1.4"/><path d="M791.3,58.2Q790.5,58.3 792.2,60.7" stroke="#2a2a2a" stroke-width="0.9"/><path d="M797.4,81.6Q797.0,81.7 794.3,82.5" stroke="#101010" stroke-width="1.2"/><path d="M822.1,87.6Q819.7,89.2 819.2,91.2" stroke="#3a3a3a" stroke-width="1.3"/><path d="M767.4,95.8Q767.6,98.8 767.1,100.1" stroke="#222" stroke-width="1.2"/><path d="M778.7,96.2Q775.9,97.6 775.4,96.9" stroke="#3a3a3a" stroke-width="1.3"/><path d="M826.5,91.4Q824.4,92.5 824.5,93.4" stroke="#151515" stroke-width="1.0"/><path d="M845.1,92.5Q845.4,93.2 844.4,94.8" stroke="#101010" stroke-width="1.4"/><path d="M804.1,115.5Q802.1,117.3 800.4,118.4" stroke="#222" stroke-width="1.3"/><path d="M819.4,125.7Q820.3,127.3 818.9,130.2" stroke="#101010" stroke-width="1.4"/><path d="M807.2,75.4Q809.0,74.8 809.3,75.7" stroke="#101010" stroke-width="0.9"/><path d="M799.2,96.8Q798.1,98.9 798.9,99.3" stroke="#151515" stroke-width="0.8"/><path d="M800.3,80.2Q801.2,82.5 799.5,83.8" stroke="#222" stroke-width="1.3"/><path d="M818.9,104.2Q818.3,105.9 820.4,105.8" stroke="#303030" stroke-width="1.3"/><path d="M790.9,131.6Q790.1,134.0 787.9,134.4" stroke="#2a2a2a" stroke-width="1.3"/><path d="M822.1,87.5Q818.7,89.2 818.0,90.1" stroke="#2a2a2a" stroke-width="0.9"/><path d="M804.3,129.9Q805.6,130.8 804.6,133.3" stroke="#3a3a3a" stroke-width="1.1"/><path d="M808.8,73.7Q809.2,75.9 807.1,76.2" stroke="#222" stroke-width="1.0"/><path d="M772.7,118.5Q770.8,117.9 767.9,119.5" stroke="#222" stroke-width="1.3"/><path d="M772.9,120.3Q772.2,120.2 772.5,122.5" stroke="#222" stroke-width="0.8"/><path d="M798.1,58.7Q797.0,61.0 797.8,61.5" stroke="#151515" stroke-width="1.3"/><path d="M809.9,74.9Q809.9,75.9 808.0,75.5" stroke="#101010" stroke-width="1.0"/><path d="M812.8,113.9Q809.7,115.0 808.6,114.5" stroke="#101010" stroke-width="1.4"/><path d="M775.0,112.9Q776.1,114.9 775.4,116.5" stroke="#151515" stroke-width="1.2"/><path d="M794.1,113.6Q793.8,115.8 796.1,118.2" stroke="#222" stroke-width="1.3"/><path d="M781.6,64.1Q782.1,65.2 779.9,66.3" stroke="#101010" stroke-width="1.3"/><path d="M799.0,134.6Q799.9,133.5 802.0,135.4" stroke="#3a3a3a" stroke-width="0.9"/><path d="M791.8,126.8Q791.2,128.0 790.0,129.8" stroke="#2a2a2a" stroke-width="1.0"/><path d="M772.0,91.1Q770.4,92.8 770.5,93.6" stroke="#303030" stroke-width="1.0"/><path d="M824.4,100.1Q821.6,101.2 821.6,102.4" stroke="#222" stroke-width="1.3"/><path d="M780.3,118.0Q779.1,119.6 778.5,119.5" stroke="#2a2a2a" stroke-width="1.2"/><path d="M778.3,88.7Q778.6,91.2 779.0,90.7" stroke="#222" stroke-width="0.9"/><path d="M827.4,113.4Q826.0,114.7 824.1,114.2" stroke="#303030" stroke-width="1.0"/><path d="M774.4,77.7Q772.9,79.2 770.5,78.7" stroke="#151515" stroke-width="0.8"/><path d="M782.5,115.9Q780.5,117.0 780.5,116.1" stroke="#101010" stroke-width="1.0"/><path d="M831.1,73.1Q830.7,76.2 831.8,77.9" stroke="#2a2a2a" stroke-width="1.2"/><path d="M786.7,73.0Q788.1,74.2 787.4,75.0" stroke="#3a3a3a" stroke-width="0.9"/><path d="M800.5,101.7Q801.0,104.1 801.7,105.7" stroke="#101010" stroke-width="1.1"/><path d="M809.4,131.4Q808.0,132.2 807.6,134.3" stroke="#151515" stroke-width="1.0"/><path d="M813.7,87.9Q812.9,90.4 813.4,91.9" stroke="#3a3a3a" stroke-width="1.2"/><path d="M818.4,128.4Q818.5,130.5 819.6,131.8" stroke="#3a3a3a" stroke-width="1.0"/><path d="M789.4,123.7Q788.7,124.1 790.6,126.1" stroke="#3a3a3a" stroke-width="1.0"/><path d="M780.5,86.7Q783.4,88.7 784.0,88.9" stroke="#151515" stroke-width="1.3"/><path d="M799.7,64.2Q800.5,66.3 802.4,67.0" stroke="#151515" stroke-width="1.0"/><path d="M767.2,102.9Q768.3,102.7 770.3,103.5" stroke="#222" stroke-width="1.0"/><path d="M806.5,98.2Q805.7,100.6 806.9,101.5" stroke="#3a3a3a" stroke-width="1.2"/><path d="M786.8,125.2Q785.9,127.2 783.2,127.9" stroke="#303030" stroke-width="1.1"/><path d="M773.0,113.6Q770.4,112.9 770.6,114.2" stroke="#101010" stroke-width="0.9"/><path d="M806.4,71.9Q804.9,72.4 804.4,73.4" stroke="#222" stroke-width="0.9"/><path d="M821.6,123.3Q821.9,123.2 824.5,124.3" stroke="#303030" stroke-width="0.9"/><path d="M830.9,104.2Q829.0,104.8 829.6,107.6" stroke="#222" stroke-width="1.3"/><path d="M763.7,101.0Q761.9,100.8 761.3,102.0" stroke="#222" stroke-width="1.3"/><path d="M797.7,115.3Q800.4,116.2 800.4,116.3" stroke="#303030" stroke-width="1.2"/><path d="M827.1,122.2Q828.7,124.9 828.9,125.9" stroke="#222" stroke-width="1.2"/><path d="M830.4,88.5Q829.6,91.0 828.6,91.5" stroke="#101010" stroke-width="1.1"/><path d="M800.7,98.7Q800.9,102.2 800.5,102.7" stroke="#3a3a3a" stroke-width="0.9"/><path d="M809.9,94.0Q810.9,93.8 812.3,94.3" stroke="#101010" stroke-width="0.9"/><path d="M834.9,113.9Q834.7,116.0 836.8,115.9" stroke="#222" stroke-width="1.2"/><path d="M818.2,111.5Q816.1,113.5 816.0,115.1" stroke="#222" stroke-width="1.1"/><path d="M777.1,70.6Q776.2,72.5 776.7,73.0" stroke="#151515" stroke-width="0.9"/><path d="M781.4,76.5Q781.5,78.7 778.6,78.8" stroke="#2a2a2a" stroke-width="1.1"/><path d="M804.7,130.4Q803.8,131.4 802.1,130.6" stroke="#101010" stroke-width="1.1"/><path d="M799.0,128.1Q800.9,128.5 800.8,130.6" stroke="#151515" stroke-width="1.0"/><path d="M805.7,125.1Q807.3,125.4 807.0,127.2" stroke="#303030" stroke-width="1.1"/><path d="M770.0,104.8Q769.7,107.4 769.6,108.4" stroke="#3a3a3a" stroke-width="1.2"/><path d="M813.9,71.2Q811.9,73.0 811.8,72.3" stroke="#2a2a2a" stroke-width="0.9"/><path d="M834.4,94.1Q836.2,95.3 836.2,97.6" stroke="#101010" stroke-width="1.0"/><path d="M793.1,62.9Q790.9,62.4 791.1,64.3" stroke="#2a2a2a" stroke-width="1.3"/><path d="M791.1,116.0Q791.2,117.7 792.8,118.0" stroke="#222" stroke-width="0.8"/><path d="M815.1,103.2Q814.0,103.6 813.2,103.9" stroke="#303030" stroke-width="1.1"/><path d="M824.3,111.8Q824.9,113.6 825.9,116.4" stroke="#303030" stroke-width="1.4"/><path d="M797.3,114.2Q797.1,113.8 794.1,116.3" stroke="#222" stroke-width="0.8"/><path d="M802.6,81.4Q800.5,82.4 799.2,83.1" stroke="#101010" stroke-width="0.9"/><path d="M773.5,71.6Q774.3,70.9 776.5,72.3" stroke="#3a3a3a" stroke-width="0.9"/><path d="M809.4,114.5Q811.2,116.9 813.1,117.0" stroke="#2a2a2a" stroke-width="0.9"/><path d="M792.4,108.0Q795.5,108.5 796.6,109.8" stroke="#101010" stroke-width="0.9"/><path d="M841.0,110.0Q840.0,111.4 840.3,113.3" stroke="#3a3a3a" stroke-width="1.1"/><path d="M801.1,124.0Q801.3,126.9 800.1,127.0" stroke="#101010" stroke-width="1.1"/><path d="M780.8,116.3Q777.7,117.2 777.2,116.7" stroke="#2a2a2a" stroke-width="0.8"/><path d="M778.2,93.9Q779.1,96.0 777.2,98.0" stroke="#151515" stroke-width="1.4"/><path d="M769.7,88.8Q768.4,90.1 768.1,91.5" stroke="#3a3a3a" stroke-width="1.0"/><path d="M826.3,72.9Q825.6,75.5 822.7,75.1" stroke="#2a2a2a" stroke-width="1.0"/><path d="M761.1,78.6Q760.2,81.1 761.4,83.3" stroke="#3a3a3a" stroke-width="1.3"/><path d="M771.1,115.8Q771.4,117.5 771.7,118.2" stroke="#303030" stroke-width="1.3"/><path d="M837.9,108.5Q838.7,109.9 838.0,111.7" stroke="#101010" stroke-width="1.2"/><path d="M775.0,63.5Q774.4,63.9 774.0,67.3" stroke="#303030" stroke-width="0.8"/><path d="M805.8,115.0Q805.3,115.9 801.9,116.7" stroke="#3a3a3a" stroke-width="1.3"/><path d="M804.8,62.8Q802.5,63.4 802.9,64.0" stroke="#222" stroke-width="1.0"/><path d="M805.6,89.1Q802.5,88.4 802.3,89.7" stroke="#151515" stroke-width="0.9"/><path d="M769.0,96.2Q767.9,97.2 766.4,97.5" stroke="#303030" stroke-width="1.4"/><path d="M806.2,70.8Q808.4,71.4 808.4,71.0" stroke="#303030" stroke-width="0.9"/><path d="M825.3,80.0Q823.6,82.7 824.5,83.1" stroke="#222" stroke-width="1.0"/><path d="M778.5,66.5Q779.8,69.0 781.1,69.5" stroke="#151515" stroke-width="1.3"/><path d="M788.4,127.3Q787.7,128.9 786.2,128.8" stroke="#2a2a2a" stroke-width="0.8"/><path d="M821.1,75.9Q822.5,77.0 822.2,78.2" stroke="#3a3a3a" stroke-width="1.2"/><path d="M797.4,132.6Q796.4,132.3 793.3,133.4" stroke="#222" stroke-width="1.2"/><path d="M829.1,118.7Q829.4,119.0 831.5,118.8" stroke="#151515" stroke-width="0.9"/><path d="M797.2,117.2Q800.0,117.1 802.0,117.5" stroke="#303030" stroke-width="1.0"/><path d="M780.5,116.4Q782.4,118.3 784.2,118.0" stroke="#101010" stroke-width="1.1"/><path d="M797.7,89.4Q798.5,91.8 798.3,92.1" stroke="#303030" stroke-width="0.8"/><path d="M773.0,95.5Q772.4,95.7 772.9,97.8" stroke="#303030" stroke-width="1.4"/><path d="M833.6,75.3Q831.0,77.9 831.3,79.5" stroke="#303030" stroke-width="1.1"/><path d="M816.6,69.2Q816.9,70.7 818.7,71.1" stroke="#222" stroke-width="0.9"/><path d="M792.5,56.9Q795.5,57.3 796.0,58.4" stroke="#151515" stroke-width="1.3"/><path d="M826.5,123.8Q827.3,124.3 825.4,125.5" stroke="#303030" stroke-width="0.9"/><path d="M828.9,112.0Q831.3,113.0 833.3,113.0" stroke="#101010" stroke-width="0.8"/><path d="M809.9,73.7Q811.8,74.3 812.2,75.1" stroke="#3a3a3a" stroke-width="1.0"/><path d="M808.9,87.2Q809.3,87.7 809.5,89.2" stroke="#101010" stroke-width="1.3"/><path d="M842.9,97.4Q842.9,99.4 845.9,99.0" stroke="#303030" stroke-width="1.3"/><path d="M831.1,112.7Q833.1,113.0 834.9,114.4" stroke="#101010" stroke-width="1.0"/><path d="M772.4,83.0Q770.5,83.9 768.2,83.9" stroke="#101010" stroke-width="1.1"/><path d="M823.0,113.9Q821.9,113.3 818.1,114.2" stroke="#151515" stroke-width="1.1"/><path d="M785.5,98.4Q786.2,100.5 784.2,102.3" stroke="#222" stroke-width="1.4"/><path d="M809.9,101.0Q809.4,102.9 809.4,105.4" stroke="#303030" stroke-width="1.0"/><path d="M770.9,115.0Q772.6,117.3 774.1,117.0" stroke="#101010" stroke-width="0.8"/><path d="M807.2,77.3Q805.9,77.0 806.2,79.4" stroke="#151515" stroke-width="1.2"/><path d="M763.1,79.5Q763.6,79.8 762.7,81.4" stroke="#2a2a2a" stroke-width="0.9"/><path d="M771.7,117.1Q773.8,117.0 776.0,117.9" stroke="#151515" stroke-width="1.3"/><path d="M774.8,120.8Q775.4,123.7 775.8,124.3" stroke="#303030" stroke-width="0.8"/><path d="M825.1,99.2Q826.1,98.8 826.5,101.1" stroke="#101010" stroke-width="1.1"/><path d="M825.3,89.0Q827.2,89.3 828.0,91.2" stroke="#151515" stroke-width="1.2"/><path d="M783.8,74.9Q786.0,74.3 787.4,76.2" stroke="#151515" stroke-width="1.0"/><path d="M782.7,80.3Q784.1,82.8 783.0,84.9" stroke="#101010" stroke-width="1.1"/><path d="M843.5,92.3Q843.4,93.8 846.0,95.9" stroke="#101010" stroke-width="0.8"/><path d="M777.3,99.1Q776.3,99.1 775.1,101.6" stroke="#222" stroke-width="1.3"/><path d="M780.9,109.9Q782.8,110.9 782.4,111.6" stroke="#2a2a2a" stroke-width="0.9"/><path d="M766.7,73.9Q766.5,75.9 767.9,77.5" stroke="#222" stroke-width="1.3"/><path d="M827.5,67.6Q825.3,69.0 825.2,69.2" stroke="#3a3a3a" stroke-width="0.8"/><path d="M808.3,74.9Q809.8,76.0 810.7,75.4" stroke="#3a3a3a" stroke-width="1.0"/><path d="M802.1,56.3Q802.2,59.7 802.9,60.6" stroke="#303030" stroke-width="0.9"/><path d="M821.3,104.2Q822.7,104.7 824.3,105.9" stroke="#101010" stroke-width="1.0"/><path d="M760.3,96.0Q758.3,97.4 758.6,98.4" stroke="#222" stroke-width="1.0"/><path d="M809.7,74.4Q808.2,76.0 806.0,75.2" stroke="#2a2a2a" stroke-width="0.9"/><path d="M787.0,123.3Q788.1,122.6 789.0,124.3" stroke="#303030" stroke-width="0.9"/><path d="M820.5,87.7Q820.8,87.3 819.5,89.7" stroke="#101010" stroke-width="1.0"/><path d="M822.9,122.9Q825.0,122.9 825.4,123.5" stroke="#3a3a3a" stroke-width="1.1"/><path d="M765.3,105.8Q764.6,105.3 762.6,107.2" stroke="#222" stroke-width="1.3"/><path d="M822.9,97.7Q822.0,99.5 819.7,101.4" stroke="#2a2a2a" stroke-width="0.8"/><path d="M776.0,120.5Q774.8,121.3 776.4,124.1" stroke="#222" stroke-width="0.8"/><path d="M807.1,114.4Q809.4,113.8 809.0,115.2" stroke="#151515" stroke-width="1.0"/><path d="M818.6,117.6Q818.7,117.8 821.3,117.9" stroke="#3a3a3a" stroke-width="1.0"/><path d="M811.3,115.2Q809.3,116.2 809.3,118.5" stroke="#303030" stroke-width="1.2"/><path d="M807.0,58.1Q806.5,58.9 803.8,60.4" stroke="#2a2a2a" stroke-width="1.3"/><path d="M819.7,94.5Q819.7,95.5 818.0,98.2" stroke="#222" stroke-width="0.8"/><path d="M827.1,100.7Q827.3,102.0 828.4,103.8" stroke="#303030" stroke-width="0.9"/><path d="M796.4,72.0Q795.3,72.3 792.9,72.1" stroke="#151515" stroke-width="0.9"/><path d="M783.6,98.0Q783.2,99.1 784.2,100.8" stroke="#151515" stroke-width="0.9"/><path d="M820.2,82.1Q819.6,84.4 820.5,86.2" stroke="#2a2a2a" stroke-width="0.8"/><path d="M813.2,98.2Q811.8,99.6 811.2,102.3" stroke="#303030" stroke-width="1.2"/><path d="M779.3,92.3Q780.0,92.3 779.8,94.6" stroke="#222" stroke-width="1.2"/><path d="M821.0,71.0Q822.0,73.1 821.0,75.0" stroke="#303030" stroke-width="1.4"/><path d="M773.4,114.4Q771.3,114.5 770.9,117.5" stroke="#303030" stroke-width="0.9"/><path d="M797.1,128.9Q795.3,128.0 793.9,129.5" stroke="#2a2a2a" stroke-width="1.0"/><path d="M793.7,111.4Q796.4,112.7 796.7,111.5" stroke="#2a2a2a" stroke-width="0.9"/><path d="M813.3,69.0Q812.6,69.2 813.6,71.5" stroke="#3a3a3a" stroke-width="1.0"/><path d="M815.1,68.6Q813.6,69.2 812.1,72.3" stroke="#222" stroke-width="0.8"/><path d="M829.1,72.4Q831.1,74.4 833.4,74.8" stroke="#222" stroke-width="1.0"/><path d="M805.0,58.5Q802.0,59.4 802.0,59.4" stroke="#151515" stroke-width="1.4"/><path d="M839.3,104.1Q839.0,106.6 839.7,107.2" stroke="#101010" stroke-width="1.2"/><path d="M796.0,88.3Q795.5,88.3 792.8,89.4" stroke="#303030" stroke-width="1.1"/><path d="M785.4,104.3Q784.0,104.7 785.3,106.7" stroke="#3a3a3a" stroke-width="1.0"/><path d="M791.7,55.4Q794.2,57.4 795.1,56.5" stroke="#101010" stroke-width="1.2"/><path d="M812.6,127.7Q813.4,129.5 816.0,128.8" stroke="#222" stroke-width="1.2"/><path d="M776.3,101.1Q776.9,101.2 775.5,103.2" stroke="#222" stroke-width="1.1"/><path d="M775.0,68.7Q774.4,69.7 772.6,72.6" stroke="#222" stroke-width="1.0"/><path d="M785.7,95.6Q782.9,97.5 782.5,97.2" stroke="#303030" stroke-width="1.1"/><path d="M796.1,61.8Q794.7,64.3 795.4,65.0" stroke="#2a2a2a" stroke-width="1.2"/><path d="M777.7,91.7Q778.2,91.0 779.9,92.1" stroke="#2a2a2a" stroke-width="1.0"/><path d="M786.2,123.2Q785.0,123.5 782.8,124.3" stroke="#3a3a3a" stroke-width="1.1"/><path d="M818.8,68.1Q818.9,69.7 817.1,69.1" stroke="#2a2a2a" stroke-width="0.9"/><path d="M839.9,84.9Q840.7,86.6 841.9,86.9" stroke="#3a3a3a" stroke-width="1.1"/><path d="M809.0,125.3Q810.0,128.2 809.3,128.5" stroke="#2a2a2a" stroke-width="1.1"/><path d="M799.9,78.6Q800.2,80.4 797.9,79.1" stroke="#151515" stroke-width="0.9"/><path d="M844.9,91.7Q844.2,91.9 846.5,95.1" stroke="#151515" stroke-width="1.2"/><path d="M790.9,122.4Q794.3,123.4 795.5,123.0" stroke="#151515" stroke-width="1.1"/><path d="M774.9,74.5Q774.3,75.9 771.4,77.6" stroke="#2a2a2a" stroke-width="0.9"/><path d="M812.5,76.4Q813.4,77.1 815.8,76.4" stroke="#151515" stroke-width="1.3"/><path d="M832.2,74.0Q831.1,74.9 828.6,75.2" stroke="#2a2a2a" stroke-width="1.0"/><path d="M780.6,121.1Q780.0,120.8 777.0,123.4" stroke="#2a2a2a" stroke-width="1.1"/><path d="M785.5,127.8Q783.9,129.2 783.4,131.8" stroke="#2a2a2a" stroke-width="1.2"/><path d="M797.4,73.2Q796.4,75.7 796.1,76.3" stroke="#101010" stroke-width="1.2"/><path d="M810.8,65.0Q811.8,65.4 812.2,68.7" stroke="#222" stroke-width="1.1"/><path d="M785.2,99.9Q787.6,102.3 787.3,102.7" stroke="#101010" stroke-width="0.8"/><path d="M822.4,115.2Q821.6,116.8 819.6,117.1" stroke="#3a3a3a" stroke-width="1.4"/><path d="M803.8,119.1Q805.1,119.0 808.5,119.6" stroke="#2a2a2a" stroke-width="1.0"/><path d="M780.1,75.9Q779.9,77.3 779.8,79.8" stroke="#2a2a2a" stroke-width="1.1"/><path d="M817.6,93.7Q819.3,95.1 818.8,97.0" stroke="#3a3a3a" stroke-width="1.3"/><path d="M796.2,111.9Q795.2,111.4 794.4,113.8" stroke="#151515" stroke-width="0.9"/><path d="M790.0,127.5Q790.0,128.2 792.4,130.4" stroke="#222" stroke-width="1.2"/><path d="M806.3,64.5Q806.2,65.3 804.7,66.3" stroke="#2a2a2a" stroke-width="0.9"/><path d="M780.3,114.3Q777.5,115.8 777.5,118.4" stroke="#3a3a3a" stroke-width="1.0"/><path d="M819.5,96.1Q820.6,97.4 823.1,99.4" stroke="#2a2a2a" stroke-width="1.2"/><path d="M814.5,109.9Q814.8,112.5 812.9,112.8" stroke="#101010" stroke-width="1.2"/><path d="M777.5,107.0Q775.6,108.4 776.3,109.9" stroke="#101010" stroke-width="1.4"/><path d="M803.0,101.9Q799.8,103.6 799.6,103.3" stroke="#222" stroke-width="1.1"/><path d="M768.7,86.4Q768.6,89.1 771.2,89.5" stroke="#3a3a3a" stroke-width="0.9"/><path d="M802.8,122.1Q802.9,121.7 806.1,123.5" stroke="#3a3a3a" stroke-width="0.9"/><path d="M806.4,131.1Q807.0,133.2 806.7,133.5" stroke="#151515" stroke-width="1.2"/><path d="M792.6,85.2Q793.2,86.0 792.7,89.0" stroke="#303030" stroke-width="0.8"/><path d="M811.9,122.6Q812.0,124.4 812.5,125.6" stroke="#101010" stroke-width="1.2"/><path d="M814.3,124.5Q816.1,125.7 818.0,125.2" stroke="#101010" stroke-width="1.2"/><path d="M780.8,124.1Q779.6,127.2 780.1,128.6" stroke="#101010" stroke-width="1.2"/><path d="M779.2,107.6Q781.4,109.9 783.1,110.7" stroke="#303030" stroke-width="1.2"/><path d="M824.6,124.9Q822.8,124.4 820.1,125.2" stroke="#151515" stroke-width="1.3"/><path d="M798.4,79.2Q797.0,81.9 796.8,83.9" stroke="#222" stroke-width="0.8"/><path d="M782.8,115.7Q779.7,116.1 778.9,117.2" stroke="#2a2a2a" stroke-width="1.1"/><path d="M838.9,98.1Q839.3,99.8 841.7,100.2" stroke="#222" stroke-width="0.9"/><path d="M831.3,76.4Q830.6,77.1 827.4,76.5" stroke="#222" stroke-width="0.9"/><path d="M767.7,79.3Q768.4,79.4 768.8,81.0" stroke="#2a2a2a" stroke-width="1.0"/><path d="M793.2,92.5Q794.4,93.6 795.3,92.6" stroke="#3a3a3a" stroke-width="1.3"/><path d="M803.4,61.2Q802.3,61.8 798.9,63.1" stroke="#3a3a3a" stroke-width="1.3"/><path d="M803.0,107.0Q802.0,108.5 800.3,107.1" stroke="#3a3a3a" stroke-width="1.3"/><path d="M776.3,72.1Q776.5,72.2 778.2,74.4" stroke="#151515" stroke-width="1.3"/><path d="M808.0,113.0Q806.6,114.3 804.6,114.0" stroke="#151515" stroke-width="1.3"/><path d="M824.0,119.2Q825.3,118.7 826.3,120.6" stroke="#303030" stroke-width="1.3"/><path d="M811.2,110.2Q811.0,111.5 812.4,112.4" stroke="#151515" stroke-width="1.0"/><path d="M774.3,121.7Q772.9,121.3 771.6,122.3" stroke="#303030" stroke-width="1.4"/><path d="M789.5,65.1Q788.5,67.2 789.1,67.0" stroke="#2a2a2a" stroke-width="0.9"/><path d="M776.6,125.2Q776.3,127.0 778.4,128.4" stroke="#101010" stroke-width="1.0"/><path d="M789.3,58.9Q789.1,60.4 787.4,61.0" stroke="#303030" stroke-width="0.9"/><path d="M832.0,84.5Q831.9,84.9 832.4,88.2" stroke="#3a3a3a" stroke-width="1.2"/><path d="M832.7,119.3Q832.2,121.2 829.3,120.2" stroke="#3a3a3a" stroke-width="1.3"/><path d="M833.2,91.7Q835.3,92.7 834.6,93.7" stroke="#303030" stroke-width="1.4"/><path d="M789.1,74.9Q789.1,76.5 789.4,77.8" stroke="#222" stroke-width="0.8"/><path d="M771.2,71.2Q771.4,72.7 772.7,72.5" stroke="#2a2a2a" stroke-width="1.2"/><path d="M766.9,102.6Q766.9,103.4 769.7,103.1" stroke="#222" stroke-width="1.3"/><path d="M824.6,95.3Q822.3,96.0 821.3,97.9" stroke="#101010" stroke-width="1.4"/><path d="M821.6,66.4Q823.4,67.1 823.4,68.1" stroke="#2a2a2a" stroke-width="0.8"/><path d="M776.5,122.3Q779.3,121.5 779.6,122.9" stroke="#151515" stroke-width="0.9"/><path d="M844.7,89.5Q842.9,89.4 844.0,91.6" stroke="#3a3a3a" stroke-width="1.0"/><path d="M768.6,97.9Q767.1,98.2 763.7,98.4" stroke="#151515" stroke-width="1.0"/><path d="M796.0,85.9Q797.7,86.7 799.9,86.9" stroke="#3a3a3a" stroke-width="1.4"/><path d="M846.5,96.7Q843.4,96.4 841.8,98.2" stroke="#222" stroke-width="1.4"/><path d="M782.7,99.4Q784.7,98.5 786.6,99.7" stroke="#3a3a3a" stroke-width="0.9"/><path d="M773.7,81.2Q771.4,81.3 770.8,84.1" stroke="#222" stroke-width="0.9"/><path d="M822.5,114.4Q821.2,115.1 821.8,116.6" stroke="#222" stroke-width="0.8"/><path d="M803.4,78.4Q801.1,79.6 800.1,78.9" stroke="#222" stroke-width="1.1"/><path d="M790.4,61.1Q792.7,61.7 795.1,61.2" stroke="#303030" stroke-width="1.3"/><path d="M777.2,73.9Q779.2,75.2 780.5,74.6" stroke="#303030" stroke-width="1.3"/><path d="M800.3,112.1Q800.6,114.7 799.2,115.4" stroke="#151515" stroke-width="0.9"/><path d="M760.1,104.3Q761.0,103.7 763.9,104.9" stroke="#151515" stroke-width="0.8"/><path d="M801.6,107.3Q799.9,107.5 798.1,110.3" stroke="#2a2a2a" stroke-width="1.2"/><path d="M784.2,119.5Q785.0,119.4 785.5,121.5" stroke="#2a2a2a" stroke-width="1.2"/><path d="M829.6,71.4Q828.0,71.8 827.0,73.8" stroke="#303030" stroke-width="1.0"/><path d="M812.8,99.4Q812.1,99.5 812.6,102.0" stroke="#2a2a2a" stroke-width="0.9"/><path d="M803.8,56.9Q802.8,58.7 802.0,58.5" stroke="#101010" stroke-width="1.2"/><path d="M791.3,62.3Q794.7,63.2 795.7,63.7" stroke="#303030" stroke-width="1.0"/><path d="M813.3,128.3Q813.8,128.1 811.4,129.1" stroke="#222" stroke-width="1.4"/><path d="M815.2,83.7Q817.8,84.0 818.7,85.0" stroke="#303030" stroke-width="0.9"/><path d="M792.7,91.8Q791.3,93.4 790.0,92.9" stroke="#151515" stroke-width="1.2"/><path d="M832.2,103.0Q835.1,103.4 836.4,105.2" stroke="#151515" stroke-width="1.0"/><path d="M831.6,90.2Q833.6,90.2 833.5,93.0" stroke="#151515" stroke-width="1.1"/><path d="M805.1,96.6Q806.8,95.8 807.1,97.6" stroke="#101010" stroke-width="1.2"/><path d="M778.5,115.2Q779.1,115.2 778.4,118.2" stroke="#2a2a2a" stroke-width="0.9"/><path d="M823.6,95.2Q826.8,96.0 828.1,95.7" stroke="#151515" stroke-width="1.1"/><path d="M828.9,102.4Q831.1,102.6 832.9,105.2" stroke="#151515" stroke-width="1.3"/><path d="M807.6,61.1Q810.0,62.2 812.3,62.0" stroke="#2a2a2a" stroke-width="1.3"/><path d="M794.9,131.8Q794.7,131.5 797.3,134.1" stroke="#151515" stroke-width="1.0"/><path d="M791.9,69.9Q790.9,70.1 791.5,72.9" stroke="#2a2a2a" stroke-width="0.8"/><path d="M812.7,90.3Q811.9,91.7 810.9,91.4" stroke="#101010" stroke-width="1.0"/><path d="M794.3,68.1Q796.3,67.6 797.3,69.6" stroke="#101010" stroke-width="0.9"/><path d="M822.5,75.5Q820.1,77.0 820.5,77.6" stroke="#101010" stroke-width="1.1"/><path d="M845.7,105.2Q844.4,106.1 842.2,105.4" stroke="#222" stroke-width="1.1"/><path d="M817.5,123.7Q817.9,123.6 819.0,126.2" stroke="#303030" stroke-width="0.8"/><path d="M803.1,105.1Q803.5,107.9 804.9,109.0" stroke="#3a3a3a" stroke-width="1.1"/><path d="M826.5,101.3Q827.6,101.9 827.8,103.0" stroke="#303030" stroke-width="1.2"/><path d="M825.8,102.8Q824.6,105.0 824.7,106.3" stroke="#222" stroke-width="1.3"/><path d="M811.3,57.5Q812.5,57.1 814.0,58.6" stroke="#151515" stroke-width="1.0"/><path d="M827.7,124.9Q826.5,126.4 825.7,127.0" stroke="#151515" stroke-width="0.9"/><path d="M775.6,96.9Q774.1,97.5 774.6,99.7" stroke="#222" stroke-width="1.3"/><path d="M797.1,113.0Q797.9,113.5 799.7,115.2" stroke="#3a3a3a" stroke-width="1.2"/><path d="M804.8,133.7Q803.7,135.0 802.9,137.8" stroke="#3a3a3a" stroke-width="1.2"/><path d="M784.2,78.4Q784.1,78.0 783.6,80.4" stroke="#222" stroke-width="1.4"/><path d="M805.2,102.6Q807.0,104.6 805.9,104.5" stroke="#303030" stroke-width="0.8"/><path d="M792.2,67.9Q790.7,68.5 787.5,68.4" stroke="#303030" stroke-width="1.3"/><path d="M759.7,100.3Q761.0,100.0 762.6,100.7" stroke="#2a2a2a" stroke-width="1.3"/><path d="M771.3,107.1Q770.3,107.3 768.7,109.3" stroke="#151515" stroke-width="1.2"/><path d="M804.8,73.1Q806.1,76.0 805.3,78.1" stroke="#3a3a3a" stroke-width="0.9"/><path d="M813.3,101.9Q814.1,104.3 814.1,104.3" stroke="#303030" stroke-width="0.9"/><path d="M837.0,93.5Q837.7,94.5 840.0,94.2" stroke="#222" stroke-width="1.2"/><path d="M828.2,76.5Q830.2,78.0 829.8,79.8" stroke="#2a2a2a" stroke-width="1.2"/><path d="M793.1,57.3Q791.5,57.4 791.2,58.7" stroke="#2a2a2a" stroke-width="1.4"/><path d="M843.1,97.0Q841.4,97.1 841.3,98.9" stroke="#3a3a3a" stroke-width="1.2"/><path d="M841.3,101.5Q843.1,102.0 843.0,105.3" stroke="#303030" stroke-width="1.1"/><path d="M817.1,80.4Q818.6,80.7 819.1,81.7" stroke="#151515" stroke-width="0.9"/><path d="M819.1,79.9Q817.8,81.2 815.5,81.4" stroke="#222" stroke-width="1.2"/><path d="M800.7,73.6Q803.5,72.5 804.2,74.2" stroke="#101010" stroke-width="1.1"/><path d="M829.1,78.9Q831.4,79.0 830.8,81.2" stroke="#303030" stroke-width="1.3"/><path d="M779.1,83.5Q779.9,86.4 782.0,86.5" stroke="#151515" stroke-width="1.2"/><path d="M800.1,76.6Q801.7,76.7 801.5,79.0" stroke="#2a2a2a" stroke-width="0.9"/><path d="M782.3,117.3Q782.3,118.9 783.0,119.8" stroke="#303030" stroke-width="1.4"/><path d="M762.6,82.6Q763.8,82.1 766.5,83.5" stroke="#222" stroke-width="1.1"/><path d="M817.2,69.4Q818.3,71.5 818.3,72.8" stroke="#101010" stroke-width="0.9"/><path d="M797.0,86.8Q799.6,87.8 800.4,87.6" stroke="#101010" stroke-width="1.2"/><path d="M806.1,102.6Q808.0,103.0 809.0,103.9" stroke="#2a2a2a" stroke-width="1.2"/><path d="M822.3,77.2Q822.9,77.8 824.6,79.1" stroke="#222" stroke-width="1.2"/><path d="M831.3,105.0Q832.9,105.9 834.7,105.2" stroke="#151515" stroke-width="0.9"/><path d="M784.1,94.5Q787.8,94.2 788.8,95.1" stroke="#303030" stroke-width="1.3"/><path d="M831.9,104.8Q830.0,105.8 829.7,106.3" stroke="#3a3a3a" stroke-width="1.4"/><path d="M834.7,96.7Q834.3,97.9 835.7,100.9" stroke="#2a2a2a" stroke-width="0.8"/><path d="M778.0,93.1Q777.6,94.7 778.9,97.1" stroke="#2a2a2a" stroke-width="1.3"/><path d="M810.8,113.2Q810.3,113.5 806.8,113.2" stroke="#2a2a2a" stroke-width="1.1"/><path d="M791.0,64.9Q793.3,65.6 795.1,67.5" stroke="#151515" stroke-width="0.9"/><path d="M766.0,69.9Q768.2,72.2 769.5,72.2" stroke="#101010" stroke-width="1.0"/><path d="M801.1,66.5Q800.1,67.1 800.0,69.5" stroke="#3a3a3a" stroke-width="1.4"/><path d="M789.4,104.1Q790.0,105.4 790.2,106.0" stroke="#151515" stroke-width="0.9"/><path d="M794.5,69.3Q795.5,71.6 796.2,71.8" stroke="#151515" stroke-width="1.1"/><path d="M813.5,80.0Q814.3,82.2 812.8,84.2" stroke="#2a2a2a" stroke-width="1.4"/><path d="M779.5,72.7Q779.0,75.1 780.2,76.9" stroke="#303030" stroke-width="1.2"/><path d="M807.4,62.1Q808.6,63.2 810.9,62.2" stroke="#222" stroke-width="0.9"/><path d="M810.2,82.4Q809.1,84.0 806.9,83.8" stroke="#2a2a2a" stroke-width="1.0"/><path d="M800.8,76.6Q801.8,78.5 805.0,78.0" stroke="#222" stroke-width="1.2"/><path d="M783.8,91.2Q785.8,94.4 785.9,94.9" stroke="#151515" stroke-width="1.0"/><path d="M839.9,106.7Q840.4,107.2 842.6,107.4" stroke="#101010" stroke-width="1.2"/><path d="M787.5,126.0Q788.4,127.6 790.5,129.6" stroke="#222" stroke-width="1.2"/><path d="M826.5,86.5Q827.0,89.6 826.0,90.2" stroke="#151515" stroke-width="1.0"/><path d="M824.9,79.2Q825.9,79.3 829.5,79.2" stroke="#2a2a2a" stroke-width="1.0"/><path d="M793.1,128.3Q792.4,129.1 789.9,131.5" stroke="#151515" stroke-width="1.0"/><path d="M835.7,96.2Q835.2,98.0 835.9,99.5" stroke="#3a3a3a" stroke-width="1.4"/><path d="M824.1,73.8Q824.5,73.2 826.4,74.2" stroke="#101010" stroke-width="1.0"/><path d="M786.9,108.3Q787.3,107.8 789.3,108.4" stroke="#222" stroke-width="1.0"/><path d="M773.4,65.1Q774.8,67.2 774.2,68.2" stroke="#303030" stroke-width="1.3"/><path d="M787.4,110.0Q787.3,112.0 787.9,112.5" stroke="#303030" stroke-width="1.0"/><path d="M810.8,60.2Q809.7,62.3 808.2,61.9" stroke="#222" stroke-width="1.0"/><path d="M774.1,91.0Q776.8,92.6 777.5,91.1" stroke="#151515" stroke-width="1.0"/><path d="M823.8,70.3Q823.5,70.7 823.2,73.4" stroke="#2a2a2a" stroke-width="0.9"/><path d="M842.7,87.4Q841.6,88.8 842.5,90.0" stroke="#222" stroke-width="1.3"/><path d="M823.2,111.7Q820.3,112.5 818.8,112.1" stroke="#101010" stroke-width="0.9"/><path d="M774.8,86.7Q772.9,87.9 771.5,88.8" stroke="#101010" stroke-width="1.3"/><path d="M805.0,71.3Q804.7,72.5 806.0,73.5" stroke="#101010" stroke-width="1.1"/><path d="M818.9,88.9Q818.1,88.6 815.8,88.9" stroke="#2a2a2a" stroke-width="1.1"/><path d="M841.2,81.6Q841.7,83.7 840.1,85.4" stroke="#303030" stroke-width="1.0"/><path d="M807.1,103.0Q805.6,105.5 804.7,106.9" stroke="#303030" stroke-width="0.9"/><path d="M776.9,70.5Q774.7,71.8 773.9,70.7" stroke="#151515" stroke-width="1.2"/><path d="M816.7,128.4Q814.4,129.3 814.8,130.4" stroke="#303030" stroke-width="1.0"/><path d="M799.7,120.3Q797.7,120.6 797.9,122.5" stroke="#2a2a2a" stroke-width="1.2"/><path d="M800.9,92.4Q799.4,92.6 800.3,95.7" stroke="#303030" stroke-width="0.8"/><path d="M808.2,116.6Q807.6,118.1 804.3,116.7" stroke="#3a3a3a" stroke-width="1.4"/><path d="M821.6,99.9Q822.1,103.2 822.5,103.6" stroke="#151515" stroke-width="1.0"/><path d="M803.6,122.2Q802.9,124.8 800.5,124.9" stroke="#3a3a3a" stroke-width="1.0"/><path d="M805.4,68.2Q807.1,67.9 808.5,68.9" stroke="#151515" stroke-width="1.3"/><path d="M774.4,113.2Q772.6,113.4 772.0,116.1" stroke="#151515" stroke-width="1.3"/><path d="M789.2,80.4Q791.1,80.1 792.6,81.4" stroke="#151515" stroke-width="1.2"/><path d="M800.4,106.6Q801.5,107.0 800.3,109.2" stroke="#222" stroke-width="1.1"/><path d="M794.8,90.2Q794.5,89.2 791.3,90.9" stroke="#151515" stroke-width="1.4"/><path d="M788.3,97.8Q786.9,99.4 786.8,102.3" stroke="#101010" stroke-width="1.0"/><path d="M800.9,129.1Q800.5,129.6 801.4,131.6" stroke="#101010" stroke-width="1.0"/><path d="M782.8,128.9Q782.0,130.1 780.5,130.0" stroke="#151515" stroke-width="1.2"/><path d="M809.1,115.4Q807.6,115.7 806.2,116.1" stroke="#101010" stroke-width="0.9"/><path d="M800.8,122.5Q799.8,124.8 799.5,124.8" stroke="#222" stroke-width="1.1"/><path d="M770.7,112.3Q769.4,111.9 770.4,114.3" stroke="#101010" stroke-width="1.0"/><path d="M795.7,77.3Q795.8,79.1 793.5,78.0" stroke="#3a3a3a" stroke-width="1.3"/><path d="M792.9,53.7Q794.9,52.9 796.7,53.8" stroke="#222" stroke-width="1.4"/><path d="M818.2,75.8Q818.2,77.0 815.5,76.6" stroke="#3a3a3a" stroke-width="1.4"/><path d="M786.7,127.0Q786.1,129.9 785.0,130.4" stroke="#303030" stroke-width="1.0"/><path d="M787.6,91.7Q789.4,92.9 790.3,94.2" stroke="#3a3a3a" stroke-width="0.9"/><path d="M795.3,84.2Q795.5,84.9 796.2,87.7" stroke="#303030" stroke-width="1.2"/><path d="M767.4,73.6Q765.9,73.9 767.1,75.8" stroke="#303030" stroke-width="1.1"/><path d="M809.5,94.3Q809.8,96.9 808.1,99.0" stroke="#303030" stroke-width="0.9"/><path d="M805.8,76.7Q806.7,78.6 805.5,80.8" stroke="#101010" stroke-width="0.9"/><path d="M810.2,96.0Q808.9,96.9 809.9,99.7" stroke="#3a3a3a" stroke-width="1.1"/><path d="M838.0,98.9Q835.8,97.9 835.4,99.7" stroke="#303030" stroke-width="1.1"/><path d="M801.4,63.6Q799.6,63.4 798.2,64.9" stroke="#303030" stroke-width="1.1"/><path d="M800.3,102.4Q803.5,101.9 805.0,103.2" stroke="#2a2a2a" stroke-width="0.9"/><path d="M812.7,95.5Q812.7,95.5 810.6,95.8" stroke="#3a3a3a" stroke-width="1.4"/><path d="M792.4,96.6Q791.5,97.1 791.0,98.5" stroke="#101010" stroke-width="1.4"/><path d="M778.9,81.0Q779.0,83.9 781.1,84.4" stroke="#101010" stroke-width="1.1"/><path d="M790.4,58.2Q789.3,61.4 790.7,62.2" stroke="#151515" stroke-width="1.4"/><path d="M786.3,67.2Q785.5,67.9 785.7,70.3" stroke="#303030" stroke-width="1.2"/><path d="M838.6,80.7Q839.3,83.0 841.2,84.6" stroke="#303030" stroke-width="1.2"/><path d="M783.4,77.2Q784.6,78.1 782.8,79.5" stroke="#303030" stroke-width="0.9"/><path d="M818.4,95.3Q821.1,97.4 820.9,97.0" stroke="#3a3a3a" stroke-width="0.9"/><path d="M792.9,130.0Q791.9,131.9 789.2,131.3" stroke="#3a3a3a" stroke-width="0.9"/><path d="M804.6,54.8Q804.9,56.8 803.0,58.3" stroke="#222" stroke-width="0.9"/><path d="M841.0,92.3Q843.1,92.4 843.7,92.5" stroke="#222" stroke-width="1.0"/><path d="M796.2,115.8Q793.8,117.4 793.0,116.6" stroke="#2a2a2a" stroke-width="1.4"/><path d="M813.1,114.8Q810.7,114.8 810.7,115.7" stroke="#303030" stroke-width="1.1"/><path d="M788.9,82.7Q787.6,81.9 786.5,83.2" stroke="#101010" stroke-width="1.2"/><path d="M812.6,123.2Q812.7,125.5 814.9,124.8" stroke="#2a2a2a" stroke-width="1.1"/><path d="M796.4,130.7Q794.3,130.3 794.6,132.0" stroke="#303030" stroke-width="1.3"/><path d="M829.4,99.5Q827.7,101.0 826.6,102.7" stroke="#222" stroke-width="1.0"/><path d="M790.5,87.0Q792.1,87.3 793.9,89.0" stroke="#101010" stroke-width="0.8"/><path d="M765.1,99.5Q767.6,100.3 768.1,102.3" stroke="#151515" stroke-width="1.0"/><path d="M787.7,60.4Q787.5,62.7 786.9,64.6" stroke="#2a2a2a" stroke-width="0.8"/><path d="M784.1,64.7Q783.7,64.5 781.8,65.2" stroke="#222" stroke-width="0.9"/><path d="M768.6,105.3Q766.6,106.1 765.5,106.2" stroke="#222" stroke-width="1.2"/><path d="M787.5,83.1Q789.8,84.9 790.2,86.9" stroke="#222" stroke-width="0.8"/><path d="M801.5,72.0Q801.0,72.6 802.9,76.0" stroke="#151515" stroke-width="1.0"/><path d="M839.8,112.8Q838.0,114.4 836.0,113.6" stroke="#2a2a2a" stroke-width="0.9"/><path d="M783.5,90.6Q782.7,92.3 783.4,93.7" stroke="#101010" stroke-width="1.0"/><path d="M791.1,87.1Q791.2,89.0 793.9,88.9" stroke="#303030" stroke-width="1.2"/><path d="M789.7,118.9Q788.4,120.7 787.7,122.7" stroke="#2a2a2a" stroke-width="1.0"/><path d="M800.8,70.9Q798.0,72.4 797.8,74.3" stroke="#2a2a2a" stroke-width="1.4"/><path d="M770.8,68.0Q771.0,69.1 768.9,72.0" stroke="#222" stroke-width="0.9"/><path d="M803.4,66.4Q804.4,66.8 805.8,66.6" stroke="#222" stroke-width="0.9"/><path d="M778.4,106.8Q777.9,109.2 777.1,108.7" stroke="#101010" stroke-width="1.2"/><path d="M813.8,120.0Q815.1,119.4 815.9,121.2" stroke="#3a3a3a" stroke-width="0.9"/><path d="M820.3,117.1Q821.4,119.2 822.0,119.2" stroke="#151515" stroke-width="0.9"/><path d="M812.8,77.7Q813.2,77.4 813.4,79.7" stroke="#3a3a3a" stroke-width="0.9"/><path d="M786.7,124.5Q786.3,125.2 787.3,128.4" stroke="#3a3a3a" stroke-width="0.9"/><path d="M828.7,95.7Q827.5,95.6 826.0,96.5" stroke="#303030" stroke-width="1.0"/><path d="M824.0,104.3Q825.3,105.0 824.0,108.2" stroke="#151515" stroke-width="1.3"/><path d="M798.4,101.3Q797.5,103.8 799.5,104.3" stroke="#2a2a2a" stroke-width="1.2"/><path d="M776.3,70.0Q776.8,69.7 779.0,71.9" stroke="#101010" stroke-width="1.1"/><path d="M824.1,64.3Q824.3,65.7 826.8,68.3" stroke="#101010" stroke-width="1.0"/><path d="M818.6,98.1Q819.9,100.7 819.0,100.3" stroke="#303030" stroke-width="1.0"/><path d="M784.0,57.0Q786.2,59.1 785.8,61.4" stroke="#2a2a2a" stroke-width="1.3"/><path d="M765.1,79.1Q762.6,80.6 760.9,80.7" stroke="#101010" stroke-width="1.3"/><path d="M778.9,109.0Q781.0,109.7 782.5,111.9" stroke="#151515" stroke-width="1.2"/><path d="M822.4,118.0Q824.0,118.3 826.3,118.5" stroke="#151515" stroke-width="1.1"/><path d="M775.0,73.5Q774.3,73.2 771.9,75.7" stroke="#2a2a2a" stroke-width="1.0"/><path d="M776.4,93.2Q779.4,94.3 779.5,94.0" stroke="#3a3a3a" stroke-width="1.1"/><path d="M811.3,81.3Q807.9,81.3 807.0,81.7" stroke="#2a2a2a" stroke-width="1.0"/><path d="M816.9,85.1Q814.6,86.6 814.4,85.2" stroke="#303030" stroke-width="1.2"/><path d="M791.0,130.1Q789.3,131.3 788.3,131.5" stroke="#3a3a3a" stroke-width="1.3"/><path d="M827.8,70.5Q830.2,73.4 831.2,73.9" stroke="#151515" stroke-width="1.3"/><path d="M767.0,93.0Q764.7,94.5 763.4,93.4" stroke="#303030" stroke-width="1.0"/><path d="M787.6,133.5Q789.9,133.0 790.5,134.8" stroke="#303030" stroke-width="0.8"/><path d="M812.6,111.4Q816.0,112.4 817.3,111.8" stroke="#222" stroke-width="1.3"/><path d="M784.3,68.9Q785.3,69.7 787.5,70.1" stroke="#2a2a2a" stroke-width="1.2"/><path d="M806.6,118.5Q807.8,119.3 807.7,121.3" stroke="#2a2a2a" stroke-width="0.8"/><path d="M809.6,76.8Q810.7,77.0 809.2,78.8" stroke="#222" stroke-width="1.1"/><path d="M803.5,54.7Q804.8,56.6 803.6,57.6" stroke="#2a2a2a" stroke-width="1.1"/><path d="M819.4,102.7Q817.3,102.9 816.3,105.3" stroke="#151515" stroke-width="0.9"/><path d="M788.8,132.9Q789.5,134.2 791.2,136.2" stroke="#2a2a2a" stroke-width="0.8"/><path d="M831.4,78.8Q834.1,79.9 835.4,79.5" stroke="#101010" stroke-width="1.2"/><path d="M772.0,77.8Q771.7,80.3 769.6,80.4" stroke="#101010" stroke-width="1.4"/><path d="M834.5,94.2Q834.2,94.9 832.4,98.1" stroke="#222" stroke-width="1.0"/><path d="M807.0,115.2Q804.5,115.8 802.1,116.3" stroke="#151515" stroke-width="1.1"/><path d="M828.9,80.5Q828.0,82.7 826.8,84.3" stroke="#101010" stroke-width="1.3"/><path d="M839.1,104.6Q836.8,105.8 836.9,105.8" stroke="#222" stroke-width="1.4"/><path d="M793.7,66.4Q793.5,68.6 794.1,70.0" stroke="#2a2a2a" stroke-width="0.8"/><path d="M803.8,120.2Q803.3,121.9 803.8,123.9" stroke="#101010" stroke-width="1.2"/><path d="M776.8,76.9Q776.0,79.7 776.5,80.1" stroke="#303030" stroke-width="1.3"/><path d="M801.6,112.0Q801.8,114.5 799.6,116.1" stroke="#222" stroke-width="1.4"/><path d="M776.7,109.5Q777.4,111.5 777.1,113.4" stroke="#222" stroke-width="0.8"/><path d="M831.6,100.3Q828.8,101.8 828.4,104.1" stroke="#3a3a3a" stroke-width="1.0"/><path d="M795.8,68.7Q797.6,68.7 798.0,70.1" stroke="#2a2a2a" stroke-width="1.3"/><path d="M802.9,62.0Q800.1,60.7 799.7,62.3" stroke="#3a3a3a" stroke-width="1.2"/><path d="M825.4,85.1Q824.3,84.2 823.5,85.9" stroke="#3a3a3a" stroke-width="1.4"/><path d="M803.8,62.1Q805.2,62.2 808.2,62.3" stroke="#101010" stroke-width="1.1"/><path d="M820.9,125.6Q819.5,128.9 819.3,129.2" stroke="#303030" stroke-width="1.3"/><path d="M778.8,102.5Q781.4,102.9 782.6,104.1" stroke="#303030" stroke-width="1.0"/><path d="M771.8,90.9Q769.4,91.1 767.9,93.8" stroke="#2a2a2a" stroke-width="1.2"/><path d="M788.0,96.7Q786.9,98.2 785.4,99.5" stroke="#2a2a2a" stroke-width="1.3"/><path d="M772.4,117.6Q773.5,119.1 776.2,119.0" stroke="#303030" stroke-width="1.0"/><path d="M821.2,122.7Q821.6,125.1 823.4,124.9" stroke="#2a2a2a" stroke-width="1.0"/><path d="M774.8,96.7Q772.8,99.5 771.7,100.3" stroke="#303030" stroke-width="1.3"/><path d="M819.7,68.7Q821.8,69.1 822.3,71.5" stroke="#3a3a3a" stroke-width="1.2"/><path d="M802.8,78.3Q802.8,80.5 801.9,80.3" stroke="#151515" stroke-width="1.3"/><path d="M819.3,127.9Q821.3,130.5 821.5,131.4" stroke="#2a2a2a" stroke-width="1.0"/><path d="M782.8,71.1Q779.9,70.4 778.8,71.9" stroke="#101010" stroke-width="1.1"/><path d="M826.0,104.8Q826.8,105.0 828.0,105.8" stroke="#101010" stroke-width="1.0"/><path d="M828.7,71.1Q827.1,72.6 826.4,72.9" stroke="#3a3a3a" stroke-width="1.0"/><path d="M824.1,77.7Q825.9,80.6 825.4,80.9" stroke="#101010" stroke-width="1.1"/><path d="M780.3,64.9Q782.4,64.1 782.1,65.9" stroke="#2a2a2a" stroke-width="1.1"/><path d="M823.1,62.5Q820.5,63.7 819.4,64.1" stroke="#151515" stroke-width="1.2"/><path d="M814.5,79.5Q812.5,79.6 812.6,80.6" stroke="#151515" stroke-width="1.1"/><path d="M800.9,66.9Q802.1,68.5 805.3,68.0" stroke="#151515" stroke-width="1.1"/><path d="M768.1,104.6Q771.6,103.7 772.1,104.7" stroke="#303030" stroke-width="0.8"/><path d="M784.2,92.3Q785.1,94.9 784.6,96.1" stroke="#2a2a2a" stroke-width="1.3"/><path d="M801.3,117.1Q801.6,117.2 802.3,119.3" stroke="#3a3a3a" stroke-width="1.4"/><path d="M831.9,73.9Q833.3,75.5 832.1,77.1" stroke="#2a2a2a" stroke-width="1.3"/><path d="M789.9,131.3Q792.4,133.3 792.8,132.6" stroke="#303030" stroke-width="0.9"/><path d="M799.4,78.8Q800.3,79.0 801.9,81.9" stroke="#101010" stroke-width="1.4"/><path d="M813.1,79.6Q814.5,81.8 817.6,81.7" stroke="#151515" stroke-width="1.0"/><path d="M818.1,127.1Q818.2,126.8 815.5,129.3" stroke="#2a2a2a" stroke-width="1.4"/><path d="M822.4,87.1Q823.4,88.9 824.6,90.3" stroke="#303030" stroke-width="1.2"/><path d="M791.7,132.4Q793.9,135.7 794.1,136.7" stroke="#101010" stroke-width="1.2"/><path d="M816.0,130.7Q817.9,131.5 818.5,131.2" stroke="#2a2a2a" stroke-width="1.1"/><path d="M793.6,120.2Q791.5,123.1 791.5,123.1" stroke="#222" stroke-width="0.9"/><path d="M768.4,103.2Q771.4,102.8 773.3,103.3" stroke="#303030" stroke-width="1.2"/><path d="M765.3,71.9Q764.6,74.4 765.4,74.5" stroke="#151515" stroke-width="1.2"/><path d="M799.3,59.5Q800.7,61.7 802.2,61.4" stroke="#2a2a2a" stroke-width="1.3"/><path d="M786.7,109.6Q785.5,110.6 781.9,110.0" stroke="#222" stroke-width="1.4"/><path d="M761.5,80.8Q762.4,82.3 760.4,83.8" stroke="#3a3a3a" stroke-width="1.4"/><path d="M821.8,64.6Q819.7,65.0 817.0,65.4" stroke="#151515" stroke-width="1.4"/><path d="M829.3,85.2Q828.4,84.4 824.8,85.4" stroke="#303030" stroke-width="1.2"/><path d="M793.2,108.2Q794.2,109.6 796.6,111.9" stroke="#3a3a3a" stroke-width="1.4"/><path d="M797.1,127.2Q799.1,127.3 798.9,128.5" stroke="#222" stroke-width="1.1"/><path d="M769.8,72.1Q769.5,73.3 769.9,74.4" stroke="#303030" stroke-width="1.3"/><path d="M798.3,132.2Q796.3,133.7 796.3,134.6" stroke="#2a2a2a" stroke-width="0.9"/><path d="M824.3,121.1Q823.0,121.1 823.8,123.9" stroke="#101010" stroke-width="1.2"/><path d="M800.6,121.0Q800.8,122.3 803.4,124.6" stroke="#3a3a3a" stroke-width="1.1"/><path d="M798.6,72.8Q795.8,74.2 795.6,73.0" stroke="#303030" stroke-width="1.1"/><path d="M812.5,106.7Q812.4,108.9 814.4,110.0" stroke="#303030" stroke-width="0.8"/><path d="M792.7,76.9Q791.3,80.0 791.3,81.3" stroke="#222" stroke-width="1.3"/><path d="M783.6,118.0Q782.5,119.4 780.5,120.1" stroke="#3a3a3a" stroke-width="1.1"/><path d="M818.9,86.7Q819.3,87.6 818.6,90.3" stroke="#2a2a2a" stroke-width="0.8"/><path d="M815.4,80.0Q813.4,80.5 812.0,82.8" stroke="#222" stroke-width="1.0"/><path d="M843.2,83.8Q842.9,84.4 840.1,85.6" stroke="#101010" stroke-width="1.2"/><path d="M833.8,93.6Q833.8,94.4 835.1,96.1" stroke="#3a3a3a" stroke-width="1.4"/><path d="M819.0,83.6Q817.2,86.5 817.9,87.4" stroke="#101010" stroke-width="1.1"/><path d="M822.0,126.8Q821.5,128.8 822.5,130.7" stroke="#101010" stroke-width="1.4"/><path d="M787.3,81.2Q788.8,81.0 789.8,83.5" stroke="#2a2a2a" stroke-width="0.9"/><path d="M832.0,102.4Q830.5,102.0 830.7,104.3" stroke="#222" stroke-width="1.2"/><path d="M790.5,103.6Q791.6,105.3 793.8,104.7" stroke="#2a2a2a" stroke-width="0.9"/><path d="M785.5,113.3Q786.1,114.4 785.3,116.3" stroke="#3a3a3a" stroke-width="1.3"/><path d="M815.3,119.2Q814.8,121.7 811.6,122.6" stroke="#101010" stroke-width="1.3"/><path d="M789.3,100.7Q790.7,102.4 791.0,101.8" stroke="#3a3a3a" stroke-width="1.3"/><path d="M791.1,109.5Q792.2,112.0 791.8,114.3" stroke="#303030" stroke-width="1.1"/><path d="M772.4,100.8Q771.7,103.4 769.4,103.9" stroke="#222" stroke-width="0.8"/><path d="M771.5,101.2Q769.3,101.5 767.2,102.2" stroke="#222" stroke-width="0.8"/><path d="M810.6,110.1Q809.6,112.6 808.1,112.9" stroke="#151515" stroke-width="1.4"/><path d="M790.9,62.1Q792.8,61.9 793.5,62.9" stroke="#101010" stroke-width="0.9"/><path d="M762.7,101.9Q762.7,103.2 762.8,104.4" stroke="#2a2a2a" stroke-width="0.9"/><path d="M825.3,81.3Q828.4,81.4 828.5,83.0" stroke="#151515" stroke-width="1.3"/><path d="M823.8,98.6Q825.3,97.2 827.4,98.7" stroke="#101010" stroke-width="0.9"/><path d="M812.0,87.5Q811.3,89.9 812.2,89.5" stroke="#151515" stroke-width="1.0"/><path d="M791.5,132.2Q789.8,132.6 789.7,133.5" stroke="#151515" stroke-width="0.9"/><path d="M786.8,67.9Q785.8,69.5 787.4,71.7" stroke="#2a2a2a" stroke-width="1.0"/><path d="M782.5,72.6Q782.6,74.7 782.0,76.2" stroke="#151515" stroke-width="1.1"/><path d="M765.7,93.5Q765.6,93.4 766.6,95.9" stroke="#303030" stroke-width="1.1"/><path d="M793.2,70.4Q793.1,72.0 794.0,72.9" stroke="#303030" stroke-width="1.1"/><path d="M780.2,122.6Q782.5,123.6 782.2,122.7" stroke="#151515" stroke-width="0.9"/><path d="M825.2,76.3Q826.6,77.1 828.7,78.3" stroke="#222" stroke-width="1.3"/><path d="M767.6,89.4Q765.6,89.4 764.7,90.8" stroke="#101010" stroke-width="1.2"/><path d="M771.0,73.8Q767.9,73.7 767.2,74.5" stroke="#222" stroke-width="0.9"/><path d="M841.0,101.4Q840.5,103.7 841.2,103.5" stroke="#303030" stroke-width="1.1"/><path d="M796.5,109.8Q798.1,110.6 798.6,111.9" stroke="#151515" stroke-width="1.1"/><path d="M789.7,116.5Q791.1,115.7 791.2,117.9" stroke="#303030" stroke-width="0.9"/><path d="M825.8,78.0Q826.9,79.1 828.3,78.3" stroke="#3a3a3a" stroke-width="0.9"/><path d="M792.0,110.8Q794.2,111.6 795.5,113.5" stroke="#222" stroke-width="1.0"/><path d="M831.7,81.9Q833.2,82.7 833.2,85.7" stroke="#2a2a2a" stroke-width="1.1"/><path d="M762.0,104.2Q762.8,106.1 763.9,106.2" stroke="#2a2a2a" stroke-width="1.2"/><path d="M839.7,105.7Q839.2,107.0 839.5,108.1" stroke="#151515" stroke-width="1.3"/><path d="M821.1,94.1Q821.7,95.4 819.4,98.2" stroke="#303030" stroke-width="1.3"/><path d="M822.9,94.0Q824.6,94.4 823.7,96.1" stroke="#101010" stroke-width="1.2"/><path d="M813.0,124.9Q813.2,126.8 815.3,125.8" stroke="#222" stroke-width="1.4"/><path d="M812.8,104.6Q810.3,105.7 810.8,107.3" stroke="#303030" stroke-width="1.0"/><path d="M815.1,102.7Q814.6,104.1 813.0,104.2" stroke="#2a2a2a" stroke-width="0.9"/><path d="M824.5,97.1Q826.0,96.7 827.4,98.6" stroke="#222" stroke-width="1.3"/><path d="M771.1,78.8Q770.8,81.0 769.5,80.4" stroke="#222" stroke-width="1.1"/><path d="M831.3,106.5Q834.4,107.7 834.7,109.3" stroke="#2a2a2a" stroke-width="1.3"/><path d="M791.0,129.7Q792.0,131.6 791.7,132.3" stroke="#2a2a2a" stroke-width="1.4"/><path d="M810.3,62.5Q812.7,64.0 813.6,65.9" stroke="#3a3a3a" stroke-width="1.3"/><path d="M790.9,74.5Q793.5,75.1 793.6,76.3" stroke="#222" stroke-width="1.0"/><path d="M802.1,53.0Q803.4,55.2 803.7,57.3" stroke="#222" stroke-width="1.1"/><path d="M784.0,59.2Q783.3,59.2 781.6,62.0" stroke="#3a3a3a" stroke-width="0.9"/><path d="M801.3,86.0Q801.4,89.7 801.8,90.9" stroke="#2a2a2a" stroke-width="1.1"/><path d="M782.9,71.2Q783.0,74.3 783.8,75.7" stroke="#151515" stroke-width="1.3"/><path d="M768.6,102.8Q766.3,105.4 766.2,106.6" stroke="#101010" stroke-width="0.9"/><path d="M757.9,91.4Q760.1,93.4 759.6,93.1" stroke="#2a2a2a" stroke-width="1.3"/><path d="M782.7,112.8Q783.4,114.4 782.3,116.9" stroke="#303030" stroke-width="1.3"/><path d="M810.7,115.6Q809.1,116.9 806.2,116.9" stroke="#101010" stroke-width="0.9"/><path d="M835.9,111.4Q835.6,112.4 837.5,114.2" stroke="#101010" stroke-width="1.0"/><path d="M801.0,118.4Q799.4,119.2 800.6,122.6" stroke="#303030" stroke-width="1.3"/><path d="M790.1,110.5Q790.3,111.5 792.7,111.5" stroke="#222" stroke-width="1.0"/><path d="M835.7,109.7Q835.5,110.6 838.3,113.4" stroke="#151515" stroke-width="1.4"/><path d="M788.9,122.9Q789.1,124.1 791.4,124.1" stroke="#151515" stroke-width="0.8"/><path d="M841.2,101.2Q840.9,103.3 843.3,103.8" stroke="#101010" stroke-width="1.0"/><path d="M810.0,104.4Q808.9,104.3 809.2,107.1" stroke="#2a2a2a" stroke-width="0.8"/><path d="M772.4,67.4Q771.5,68.7 772.2,70.2" stroke="#2a2a2a" stroke-width="1.2"/><path d="M833.3,81.4Q832.6,83.3 833.6,86.0" stroke="#303030" stroke-width="1.0"/><path d="M802.8,126.7Q801.9,129.4 803.9,130.5" stroke="#303030" stroke-width="1.2"/><path d="M782.2,84.5Q784.8,85.9 785.2,85.0" stroke="#101010" stroke-width="1.2"/><path d="M804.9,104.8Q807.5,107.2 808.3,107.2" stroke="#151515" stroke-width="1.3"/><path d="M790.1,114.3Q790.4,114.7 788.1,115.1" stroke="#222" stroke-width="0.8"/><path d="M820.4,122.3Q820.9,123.4 818.7,124.0" stroke="#2a2a2a" stroke-width="0.8"/><path d="M776.1,111.8Q779.4,113.6 781.0,112.4" stroke="#303030" stroke-width="1.2"/><path d="M833.6,112.6Q832.5,113.9 829.6,114.6" stroke="#101010" stroke-width="1.0"/><path d="M773.8,109.0Q772.7,110.1 772.3,111.0" stroke="#101010" stroke-width="1.1"/><path d="M804.8,61.0Q804.8,62.8 801.9,62.2" stroke="#3a3a3a" stroke-width="1.2"/><path d="M796.7,132.5Q796.7,132.9 798.6,135.6" stroke="#222" stroke-width="1.1"/><path d="M808.9,120.6Q808.6,123.3 809.3,123.9" stroke="#101010" stroke-width="0.9"/><path d="M812.4,54.9Q811.2,58.1 809.0,58.3" stroke="#2a2a2a" stroke-width="1.1"/><path d="M785.3,63.5Q786.1,64.6 787.1,65.2" stroke="#3a3a3a" stroke-width="1.2"/><path d="M797.7,127.2Q797.1,128.6 797.1,129.4" stroke="#222" stroke-width="1.3"/><path d="M777.1,81.1Q778.0,83.1 778.0,85.1" stroke="#303030" stroke-width="1.3"/><path d="M808.5,79.0Q807.7,81.0 804.3,81.6" stroke="#222" stroke-width="1.3"/><path d="M820.5,104.6Q821.7,106.2 824.5,105.3" stroke="#222" stroke-width="1.3"/><path d="M785.0,128.8Q782.9,129.7 781.6,130.9" stroke="#2a2a2a" stroke-width="0.8"/><path d="M782.2,108.4Q784.4,110.6 786.1,110.7" stroke="#222" stroke-width="0.9"/><path d="M782.8,77.0Q781.9,77.4 780.9,78.4" stroke="#151515" stroke-width="0.8"/><path d="M802.3,55.0Q800.3,58.1 799.2,58.1" stroke="#222" stroke-width="1.4"/><path d="M791.7,80.3Q791.3,79.0 788.2,80.5" stroke="#222" stroke-width="1.1"/><path d="M794.7,62.3Q794.5,64.6 794.9,66.9" stroke="#303030" stroke-width="1.1"/><path d="M800.1,58.9Q799.3,58.6 796.4,59.6" stroke="#151515" stroke-width="1.2"/><path d="M804.5,124.2Q807.3,125.5 809.0,125.3" stroke="#2a2a2a" stroke-width="1.0"/><path d="M796.3,80.1Q794.6,80.3 795.4,83.3" stroke="#2a2a2a" stroke-width="1.1"/><path d="M784.7,69.0Q787.2,70.3 787.9,69.8" stroke="#3a3a3a" stroke-width="1.0"/><path d="M794.1,133.4Q795.5,135.9 796.4,135.8" stroke="#2a2a2a" stroke-width="1.2"/><path d="M783.5,71.5Q785.6,72.6 786.4,75.4" stroke="#151515" stroke-width="1.3"/><path d="M787.6,79.6Q789.4,80.9 791.0,81.7" stroke="#2a2a2a" stroke-width="1.2"/><path d="M768.0,104.1Q767.9,104.6 766.6,107.7" stroke="#2a2a2a" stroke-width="1.1"/><path d="M779.9,69.0Q776.8,69.5 776.2,71.9" stroke="#101010" stroke-width="1.0"/><path d="M797.7,56.7Q798.8,56.5 800.1,56.7" stroke="#3a3a3a" stroke-width="1.0"/><path d="M812.5,105.8Q813.4,104.6 814.9,106.2" stroke="#3a3a3a" stroke-width="0.8"/><path d="M788.6,56.7Q786.3,58.8 786.6,58.2" stroke="#303030" stroke-width="1.2"/><path d="M800.9,84.0Q803.6,85.4 803.6,87.4" stroke="#2a2a2a" stroke-width="1.3"/><path d="M815.0,75.0Q815.0,75.3 816.7,77.9" stroke="#222" stroke-width="1.3"/><path d="M835.0,94.3Q831.8,94.2 830.7,96.1" stroke="#151515" stroke-width="0.9"/><path d="M773.5,94.4Q772.5,95.5 770.1,95.4" stroke="#303030" stroke-width="1.1"/><path d="M831.8,73.9Q831.6,76.2 832.5,76.9" stroke="#303030" stroke-width="1.2"/><path d="M818.3,120.2Q822.0,120.1 823.0,121.8" stroke="#101010" stroke-width="1.4"/><path d="M798.8,90.0Q801.3,91.0 800.9,92.2" stroke="#222" stroke-width="0.8"/><path d="M799.6,92.8Q799.7,94.9 797.2,97.1" stroke="#101010" stroke-width="0.9"/><path d="M775.2,91.8Q772.8,93.3 773.0,94.1" stroke="#3a3a3a" stroke-width="1.0"/><path d="M818.6,98.5Q818.2,98.8 820.6,100.2" stroke="#101010" stroke-width="0.9"/><path d="M802.8,133.0Q802.8,135.5 802.0,136.0" stroke="#151515" stroke-width="1.3"/><path d="M818.3,73.7Q819.8,74.6 820.2,77.7" stroke="#222" stroke-width="1.0"/><path d="M793.6,85.6Q793.8,86.9 795.8,86.1" stroke="#151515" stroke-width="1.3"/><path d="M845.0,92.8Q846.5,94.3 845.6,95.9" stroke="#101010" stroke-width="1.2"/><path d="M833.0,74.0Q834.4,76.7 835.1,77.5" stroke="#151515" stroke-width="1.2"/><path d="M821.4,80.2Q821.3,82.3 818.1,82.7" stroke="#222" stroke-width="1.0"/><path d="M784.5,61.4Q785.7,62.1 786.2,64.7" stroke="#303030" stroke-width="1.4"/><path d="M777.4,72.1Q778.3,73.3 781.4,73.4" stroke="#101010" stroke-width="1.0"/><path d="M784.1,106.9Q785.1,107.3 787.3,107.2" stroke="#101010" stroke-width="1.4"/><path d="M820.1,111.6Q819.3,113.6 819.9,113.6" stroke="#3a3a3a" stroke-width="1.0"/><path d="M802.3,118.8Q803.7,120.3 803.6,121.6" stroke="#303030" stroke-width="1.2"/><path d="M807.6,115.8Q807.2,116.9 806.7,120.1" stroke="#3a3a3a" stroke-width="0.9"/><path d="M766.2,102.3Q766.6,103.6 764.5,105.0" stroke="#303030" stroke-width="1.2"/><circle cx="759.5" cy="104.4" r="0.5" fill="#333"/><circle cx="830.3" cy="65.7" r="0.7" fill="#333"/><circle cx="836.2" cy="71.3" r="0.7" fill="#333"/><circle cx="770.5" cy="68.6" r="0.6" fill="#333"/><circle cx="789.3" cy="55.7" r="0.8" fill="#333"/><circle cx="825.8" cy="128.6" r="0.5" fill="#333"/><circle cx="756.1" cy="93.3" r="0.7" fill="#333"/><circle cx="808.6" cy="54.7" r="0.8" fill="#333"/><circle cx="836.8" cy="119.1" r="0.7" fill="#333"/><circle cx="795.3" cy="54.6" r="0.4" fill="#333"/><circle cx="797.5" cy="134.9" r="0.5" fill="#333"/><circle cx="817.7" cy="57.7" r="0.8" fill="#333"/><circle cx="832.8" cy="67.8" r="0.6" fill="#333"/><circle cx="759.7" cy="97.1" r="0.6" fill="#333"/><circle cx="837.5" cy="72.9" r="0.7" fill="#333"/><circle cx="834.2" cy="123.6" r="0.8" fill="#333"/><circle cx="814.3" cy="132.7" r="0.4" fill="#333"/><circle cx="761.0" cy="85.3" r="0.4" fill="#333"/><circle cx="756.1" cy="95.9" r="0.6" fill="#333"/><circle cx="766.1" cy="119.9" r="0.4" fill="#333"/><circle cx="764.4" cy="75.8" r="0.7" fill="#333"/><circle cx="843.0" cy="84.8" r="0.7" fill="#333"/><circle cx="768.4" cy="70.3" r="0.5" fill="#333"/><circle cx="848.2" cy="93.6" r="0.5" fill="#333"/><circle cx="789.3" cy="53.8" r="0.5" fill="#333"/><circle cx="769.5" cy="69.6" r="0.6" fill="#333"/><circle cx="781.5" cy="58.1" r="0.8" fill="#333"/><circle cx="839.3" cy="116.1" r="0.8" fill="#333"/><circle cx="764.0" cy="74.3" r="0.6" fill="#333"/><circle cx="846.3" cy="91.4" r="0.4" fill="#333"/><circle cx="815.3" cy="56.4" r="0.6" fill="#333"/><circle cx="812.0" cy="134.9" r="0.6" fill="#333"/><circle cx="839.9" cy="117.1" r="0.5" fill="#333"/><circle cx="811.0" cy="56.4" r="0.8" fill="#333"/><circle cx="817.6" cy="56.5" r="0.8" fill="#333"/></g><rect x="347" y="238.5" width="108" height="115" fill="#fbfbfb"/><rect x="149" y="240" width="81" height="108" fill="#fbfbfb"/><rect x="251.5" y="90.9" width="82.5" height="3" fill="#0b2a6f"/><polygon points="333,82.10000000000001 381,92.4 333,102.7" fill="#0b2a6f"/><rect x="604.3" y="89.1" width="82.70000000000005" height="3" fill="#0b2a6f"/><polygon points="686,80.39999999999999 734.2,90.6 686,100.8" fill="#0b2a6f"/><rect x="686" y="294.1" width="75" height="3" fill="#0b2a6f"/><polygon points="687,285.70000000000005 643,295.6 687,305.5" fill="#0b2a6f"/><rect x="491" y="295.6" width="79" height="3" fill="#0b2a6f"/><polygon points="491.5,287.1 445.2,297.1 491.5,307.1" fill="#0b2a6f"/><rect x="278" y="295.6" width="80" height="3" fill="#0b2a6f"/><polygon points="278.6,287.0 231.8,297.1 278.6,307.20000000000005" fill="#0b2a6f"/><rect x="801.1" y="151.4" width="3" height="29" fill="#0b2a6f"/><polygon points="792.6,179.3 812.9,179.3 802.7,195.7" fill="#0b2a6f"/><g stroke="#0f1b3a" stroke-width="1.25" stroke-linejoin="round"><polygon points="391.4,70 421,40.4 594.5,40.4 564.6,70" fill="#5572b0"/><polygon points="564.6,70 594.5,40.4 594.5,131.2 564.6,161" fill="#2a4a8c"/><rect x="391.4" y="70" width="173.2" height="91" fill="#2f559a"/><polygon points="411.4,39.3 422,29.6 504.3,29.6 493.6,39.3" fill="#5572b0"/><polygon points="493.6,39.3 504.3,29.6 504.3,59.5 493.6,70.4" fill="#2a4a8c"/><rect x="411.4" y="39.3" width="82.2" height="31.1" fill="#2f559a"/></g><rect x="411.4" y="83.6" width="133" height="62.4" fill="#5b9bd5"/><rect x="528.3" y="99.3" width="5.5" height="31" rx="2.2" fill="#050505"/><rect x="569.6" y="85.8" width="4.5" height="56" rx="1" fill="#050505"/><rect x="577.4" y="73.6" width="4.5" height="56" rx="1" fill="#050505"/><rect x="585.5" y="62.3" width="4.5" height="56" rx="1" fill="#050505"/><rect x="420.1" y="45.1" width="19.9" height="21.9" fill="#8e8784"/><rect x="422" y="62.8" width="3" height="1.2" fill="#a8bcd8"/><rect x="428.6" y="62.8" width="3" height="1.2" fill="#a8bcd8"/><rect x="435.6" y="62.8" width="3" height="1.2" fill="#a8bcd8"/><rect x="445.3" y="46.4" width="11.2" height="5.3" fill="#5b9bd5"/><rect x="459" y="46.4" width="11.2" height="5.3" fill="#5b9bd5"/><rect x="472.6" y="46.4" width="11.2" height="5.3" fill="#5b9bd5"/><defs><radialGradient id="cg" cx="0.58" cy="0.42" r="0.6"><stop offset="0" stop-color="#22272f"/><stop offset="0.5" stop-color="#13181f"/><stop offset="1" stop-color="#0c1016"/></radialGradient></defs><ellipse cx="608" cy="297" rx="29.2" ry="28.2" fill="url(#cg)"/><g fill="none" stroke-linecap="round" stroke-linejoin="round"><path d="M368.3,262 L368.3,336 Q368.6,345.2 378,345.2 L427,345.2 Q436.6,345 436.8,336 L437.3,258 Q438,250 441,247" stroke="#d0d0d0" stroke-width="2.6"/><path d="M355,252.8 Q354.5,247 362,244.3 L444,244.3 Q440.5,248.5 439.2,258 L438.2,336 Q437.8,347.2 427,347.2 L377,347.2 Q366.6,347 366.4,336 L366.2,264 Q365.8,255 359,253.3 Z" stroke="#1c1c1c" stroke-width="1.6"/><path d="M362.5,246.8 L441.5,246.8" stroke="#555" stroke-width="0.9"/><path d="M358,251 Q364,249.5 368,254 Q370.4,258 370.4,266 L370.4,335 Q370.6,343.2 379,343.2 L426,343.2 Q434.8,343.2 435,335 L435.4,262 Q435.6,253 440,248" stroke="#4a4a4a" stroke-width="0.9"/></g><rect x="387.9" y="270" width="28" height="53" rx="4" fill="#7e3d1b"/><rect x="385.4" y="266.2" width="33.1" height="6.6" rx="3.3" fill="#e41e14"/><rect x="385.3" y="321.6" width="32.8" height="6.2" rx="3.1" fill="#e41e14"/><path d="M168.5,296.2 L210.5,296.2 L219.6,328.5 Q221.6,338 212.5,338.6 L166.5,338.6 Q157.2,338 159.2,328.5 Z" fill="#7b4312"/><g fill="none" stroke-linecap="round" stroke-linejoin="round"><path d="M177.8,248 L177.8,265 Q177.8,270 176,275 L158.2,328 Q155.8,340.3 166,340.3 L213,340.3 Q223,340.3 220.8,328 L206,275 Q204.2,270 204.2,265 L204.2,248" stroke="#2a2a2a" stroke-width="1.1"/><path d="M159,333 Q158.5,340 166,340.3 L213,340.3 Q220.5,340 220,333" stroke="#111" stroke-width="2"/><path d="M179.8,249 L179.8,266 Q179.8,271 178,276 L161,327" stroke="#aaa" stroke-width="0.7"/><path d="M202.2,249 L202.2,266 Q202.2,271 204,276 L217.8,327" stroke="#aaa" stroke-width="0.7"/></g><ellipse cx="191.1" cy="245.6" rx="15.6" ry="2.5" fill="#fff" stroke="#2a2a2a" stroke-width="1.2"/><ellipse cx="191.1" cy="246.2" rx="13.3" ry="1.5" fill="none" stroke="#888" stroke-width="0.7"/><g fill="none" stroke="#262626" stroke-width="1.1" stroke-linejoin="round" stroke-linecap="round"><path d="M784,213.5 L784,210 Q784.5,205.7 789,205.7 L823.5,205.7 Q828,205.7 828,210 L828,213.5" stroke-width="1.9"/><path d="M782,214 L830,214 Q833,216 833.5,224.8 L779,224.8 Q779.5,216 782,214 Z" fill="#fff" stroke-width="1.2"/><path d="M781,218 L832,218" stroke="#bbb" stroke-width="0.8"/><path d="M782,213.8 L830,213.8" stroke-width="1.8"/><path d="M778.1,224.8 L835.2,224.8 L835.2,251 Q835.2,257 829,257 L784,257 Q778.1,257 778.1,251 Z" fill="#fff"/><path d="M779,226.5 L834.5,226.5" stroke="#9a9a9a" stroke-width="1.4"/><path d="M779,229 L834.5,229" stroke="#c8c8c8" stroke-width="1"/><rect x="804.3" y="213.8" width="4.6" height="44" fill="#e4e4e4" stroke-width="1"/><path d="M804.3,225.5 L808.9,225.5" stroke-width="1.6"/><path d="M776,209.5 L776,236.7 M773,212 L779,212 M771,224.5 L781,224.5 M774,230 L780,230" stroke="#1a1a1a" stroke-width="1.8"/><path d="M770.5,210 L775,210 L775,215 L771,215 Z M772,232 L777,232 L777,237 L773,237 Z" fill="#333" stroke="#1a1a1a"/><path d="M779.5,216 Q782,224 779.5,232" stroke-width="1"/><path d="M837,209.5 L837,236.7 M834,212 L840,212 M832,224.5 L842,224.5 M833,230 L839,230" stroke="#1a1a1a" stroke-width="1.8"/><path d="M838,209 L842.5,209 L842.5,214 L838.5,214 Z M836,232 L841,232 L841,237 L836.5,237 Z" fill="#333" stroke="#1a1a1a"/><path d="M833.5,216 Q831,224 833.5,232" stroke-width="1"/><path d="M787,257.6 L825.7,257.6 M786,260.3 L826.5,260.3 M786,263 L826.5,263" stroke-width="1"/><path d="M791,257.6 L791,263 M821,257.6 L821,263" stroke-width="1"/><path d="M783.3,263 L783.3,320 M787.9,263 L787.9,312" stroke-width="1.3"/><path d="M830,263 L830,320 M826.5,263 L826.5,312" stroke-width="1.3"/><path d="M787.9,311 Q789,318.6 798,318.6 L816,318.6 Q825.5,318.6 826.5,311" stroke-width="1.5"/><path d="M781.4,319 L781.4,324 Q781.4,327.8 785.5,327.8 L826.5,327.8 Q830.5,327.8 830.5,324 L830.5,319" stroke-width="1.2"/><path d="M784,321.5 L828,321.5" stroke="#aaa" stroke-width="0.8"/><circle cx="789" cy="325" r="0.8" fill="#555" stroke="none"/><circle cx="822.5" cy="325" r="0.8" fill="#555" stroke="none"/><path d="M785,327.8 L785,330.5 Q785,332 787,332 L792,332 Q793.8,332 793.8,330.5 L793.8,327.8" stroke-width="1.2"/><path d="M818.2,327.8 L818.2,330.5 Q818.2,332 820,332 L825.5,332 Q827.2,332 827.2,330.5 L827.2,327.8" stroke-width="1.2"/><path d="M770.5,281 L783.3,281 L783.3,318 L770.5,318 Z" fill="#fff" stroke-width="1.3"/><path d="M772,284 L782,284" stroke-width="0.8" stroke="#777"/><circle cx="778.7" cy="310.8" r="2.4" stroke-width="1.3"/><path d="M770.5,296 L767,297 L766.5,301 L770.5,302.5" stroke-width="1"/><ellipse cx="779.5" cy="269.5" rx="2.2" ry="1.6" fill="#444" stroke-width="0.8"/><path d="M783.3,266 Q786,266 786,275 L786,281" stroke-width="1"/><rect x="835.2" y="260.6" width="6.6" height="19" rx="2.6" fill="#fff" stroke-width="1.2"/><path d="M830,266 L835.2,266 M830,273.5 L835.2,273.5" stroke-width="1.2"/><path d="M829.8,263 L837,322" stroke="#bbb" stroke-width="1"/></g><g font-family="Liberation Sans, sans-serif" fill="#111"><text x="266.5" y="77" font-size="14" font-weight="normal" stroke="#111" stroke-width="0.42" textLength="56.8" lengthAdjust="spacing">Pyrolysis</text><text x="430.0" y="184" font-size="14" font-weight="normal" stroke="#111" stroke-width="0.42" textLength="95.9" lengthAdjust="spacing">Muffle furance</text><text x="629.1" y="79.1" font-size="13.6" font-weight="normal" stroke="#111" stroke-width="0.6" textLength="42.1" lengthAdjust="spacing">350 °C</text><text x="637.6" y="112.4" font-size="13.6" font-weight="normal" stroke="#111" stroke-width="0.6" textLength="19.2" lengthAdjust="spacing">1 h</text><text x="695.7" y="283.8" font-size="14" font-weight="normal" stroke="#111" stroke-width="0.42" textLength="53.1" lengthAdjust="spacing">Crushed</text><text x="776.1" y="349.7" font-size="14.5" font-weight="normal" stroke="#111" stroke-width="0.55" textLength="61.1" lengthAdjust="spacing">micromill</text><text x="505.5" y="284.6" font-size="14" font-weight="normal" stroke="#111" stroke-width="0.42" textLength="44.6" lengthAdjust="spacing">Boiling</text><text x="517.2" y="318.7" font-size="13.6" font-weight="normal" stroke="#111" stroke-width="0.42" textLength="19.6" lengthAdjust="spacing">2 h</text><text x="293.59999999999997" y="283.3" font-size="14" font-weight="normal" stroke="#111" stroke-width="0.42" textLength="48.0" lengthAdjust="spacing">Dialysis</text><text x="309.5" y="321" font-size="13.4" font-weight="normal" stroke="#111" stroke-width="0.42" textLength="18.2" lengthAdjust="spacing">7 d</text></g><g font-family="Liberation Sans, sans-serif" fill="#231f20" font-size="13.1"><text x="8" y="393.8" font-weight="bold" textLength="40.4" lengthAdjust="spacingAndGlyphs">Figure</text><text x="53.6" y="393.8" font-weight="bold" textLength="5.8" lengthAdjust="spacingAndGlyphs">1</text><text x="66.3" y="393.8"  textLength="55.9" lengthAdjust="spacingAndGlyphs">Flowchart</text><text x="126.7" y="393.8"  textLength="15.9" lengthAdjust="spacingAndGlyphs">for</text><text x="147.1" y="393.8"  textLength="19.2" lengthAdjust="spacingAndGlyphs">the</text><text x="171.3" y="393.8"  textLength="67.4" lengthAdjust="spacingAndGlyphs">preparation</text><text x="242.8" y="393.8"  textLength="11.3" lengthAdjust="spacingAndGlyphs">of</text><text x="367.7" y="393.8"  textLength="21.9" lengthAdjust="spacingAndGlyphs">Flos</text><text x="395" y="393.8"  textLength="111.5" lengthAdjust="spacingAndGlyphs">carbonisata-derived</text><text x="511" y="393.8"  textLength="38.5" lengthAdjust="spacingAndGlyphs">carbon</text><text x="554" y="393.8"  textLength="24.9" lengthAdjust="spacingAndGlyphs">dots</text><text x="583.4" y="393.8"  textLength="70.0" lengthAdjust="spacingAndGlyphs">(LJFC-CDs).</text><text x="258.4" y="393.8" font-style="italic" textLength="52.0" lengthAdjust="spacingAndGlyphs">Lonicerae</text><text x="313.4" y="393.8" font-style="italic" textLength="49.1" lengthAdjust="spacingAndGlyphs">japonicae</text></g>
</svg>
</body></html>
